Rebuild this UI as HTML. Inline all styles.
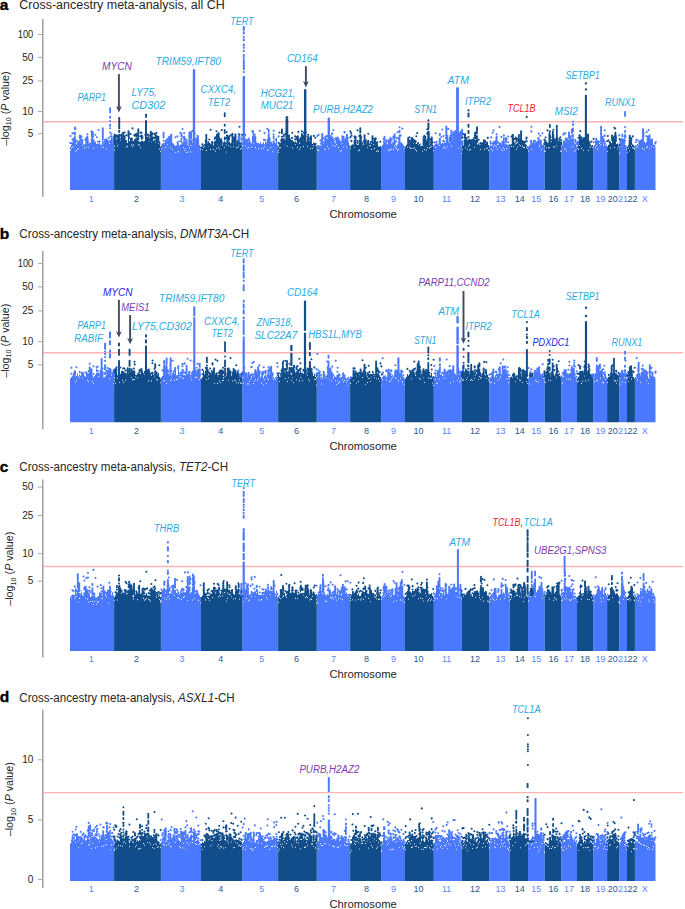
<!DOCTYPE html><html><head><meta charset="utf-8"><style>html,body{margin:0;padding:0;background:#fff;}svg{display:block;}text{font-family:"Liberation Sans", sans-serif;}</style></head><body>
<svg width="685" height="909" viewBox="0 0 685 909">
<rect width="685" height="909" fill="#fff"/>
<text x="-0.3" y="10" font-size="15.5" fill="#000" text-anchor="start" font-weight="bold" stroke="#000" stroke-width="0.35">a</text>
<text x="19.3" y="9.3" font-size="12" fill="#262626" text-anchor="start" textLength="205.5" lengthAdjust="spacingAndGlyphs">Cross-ancestry meta-analysis, all CH</text>
<line x1="43.3" y1="121.8" x2="683.2" y2="121.8" stroke="#ffb4b4" stroke-width="1.4"/>
<polygon points="70,190 70,146.5 71,146.5 71,145 72,145 72,143.4 73,143.4 73,143.7 74,143.7 74,141.9 75,141.9 75,145.3 76,145.3 76,144.8 77,144.8 77,144.9 78,144.9 78,145.5 79,145.5 79,144.2 80,144.2 80,143.6 81,143.6 81,141.7 82,141.7 82,143.8 83,143.8 83,144.2 84,144.2 84,144.6 85,144.6 85,144.1 86,144.1 86,143.8 87,143.8 87,142.6 88,142.6 88,143.8 89,143.8 89,143.7 90,143.7 90,145.1 91,145.1 91,141.2 92,141.2 92,136.4 93,136.4 93,143.6 94,143.6 94,142.1 95,142.1 95,141.4 96,141.4 96,143.8 97,143.8 97,145.5 98,145.5 98,143.4 99,143.4 99,142.6 100,142.6 100,145 101,145 101,145.3 102,145.3 102,144.9 103,144.9 103,144.9 104,144.9 104,142.3 105,142.3 105,143.8 106,143.8 106,142.6 107,142.6 107,143.4 108,143.4 108,140.4 109,140.4 109,143.8 110,143.8 110,141.8 111,141.8 111,143.2 112,143.2 112,143.9 113,143.9 113,145 114,145 114,146.5 114.1,146.5 114.1,190" fill="#4a78ff"/>
<polygon points="160.9,190 160.9,146.5 161,146.5 161,145 162,145 162,143.7 163,143.7 163,143.6 164,143.6 164,144.4 165,144.4 165,143.5 166,143.5 166,144.7 167,144.7 167,142.1 168,142.1 168,141 169,141 169,144.2 170,144.2 170,144.1 171,144.1 171,144.3 172,144.3 172,143.3 173,143.3 173,143.5 174,143.5 174,145.2 175,145.2 175,145.7 176,145.7 176,145.2 177,145.2 177,145.5 178,145.5 178,145.7 179,145.7 179,145.6 180,145.6 180,144.5 181,144.5 181,140.7 182,140.7 182,144.4 183,144.4 183,145.8 184,145.8 184,145.5 185,145.5 185,145.7 186,145.7 186,145.4 187,145.4 187,145.6 188,145.6 188,145.9 189,145.9 189,144 190,144 190,146 191,146 191,145.5 192,145.5 192,144.1 193,144.1 193,140.9 194,140.9 194,142.7 195,142.7 195,143.5 196,143.5 196,143.7 197,143.7 197,144.9 198,144.9 198,144.5 199,144.5 199,145 200,145 200,146.5 201,146.5 201,190" fill="#4a78ff"/>
<polygon points="242.1,190 242.1,146.5 243,146.5 243,145 244,145 244,141.6 245,141.6 245,142.8 246,142.8 246,144.9 247,144.9 247,144.2 248,144.2 248,143.1 249,143.1 249,143.7 250,143.7 250,142.3 251,142.3 251,143.2 252,143.2 252,139.2 253,139.2 253,141.7 254,141.7 254,142.4 255,142.4 255,143.7 256,143.7 256,142.5 257,142.5 257,143 258,143 258,143 259,143 259,144 260,144 260,142 261,142 261,143.8 262,143.8 262,143.8 263,143.8 263,142.2 264,142.2 264,144.3 265,144.3 265,139.2 266,139.2 266,143.3 267,143.3 267,144.6 268,144.6 268,144.3 269,144.3 269,144.1 270,144.1 270,144.5 271,144.5 271,141.8 272,141.8 272,145 273,145 273,145.1 274,145.1 274,144 275,144 275,143.8 276,143.8 276,138.1 277,138.1 277,145 278,145 278,146.5 278.1,146.5 278.1,190" fill="#4a78ff"/>
<polygon points="316.8,190 316.8,146.5 317,146.5 317,145 318,145 318,145.3 319,145.3 319,145.5 320,145.5 320,142.8 321,142.8 321,145.3 322,145.3 322,143.8 323,143.8 323,141.5 324,141.5 324,143.6 325,143.6 325,144.1 326,144.1 326,142.9 327,142.9 327,139.9 328,139.9 328,144.4 329,144.4 329,141.8 330,141.8 330,142.9 331,142.9 331,142.7 332,142.7 332,143.2 333,143.2 333,141.3 334,141.3 334,139.8 335,139.8 335,143.5 336,143.5 336,142.3 337,142.3 337,143.1 338,143.1 338,141.3 339,141.3 339,143.3 340,143.3 340,144.4 341,144.4 341,144.3 342,144.3 342,141.9 343,141.9 343,143.6 344,143.6 344,144.4 345,144.4 345,143.1 346,143.1 346,142.8 347,142.8 347,142.2 348,142.2 348,142.5 349,142.5 349,145 350,145 350,146.5 350.1,146.5 350.1,190" fill="#4a78ff"/>
<polygon points="381.1,190 381.1,146.5 382,146.5 382,145 383,145 383,143.7 384,143.7 384,144.7 385,144.7 385,144.7 386,144.7 386,144.1 387,144.1 387,144.7 388,144.7 388,144.2 389,144.2 389,143.4 390,143.4 390,143.4 391,143.4 391,144 392,144 392,144.9 393,144.9 393,144.2 394,144.2 394,142.8 395,142.8 395,144.6 396,144.6 396,145.8 397,145.8 397,144.5 398,144.5 398,143.6 399,143.6 399,144.2 400,144.2 400,144.2 401,144.2 401,144 402,144 402,143.6 403,143.6 403,145 404,145 404,146.5 405,146.5 405,190" fill="#4a78ff"/>
<polygon points="433.8,190 433.8,146.5 434,146.5 434,145 435,145 435,143.9 436,143.9 436,143.7 437,143.7 437,144.3 438,144.3 438,144.5 439,144.5 439,143.2 440,143.2 440,143.6 441,143.6 441,143.9 442,143.9 442,144.6 443,144.6 443,143.6 444,143.6 444,142.8 445,142.8 445,143 446,143 446,137.8 447,137.8 447,142 448,142 448,141.8 449,141.8 449,140.6 450,140.6 450,139.7 451,139.7 451,141.6 452,141.6 452,140.9 453,140.9 453,142 454,142 454,142.7 455,142.7 455,142.2 456,142.2 456,142.7 457,142.7 457,139.9 458,139.9 458,142.4 459,142.4 459,143.3 460,143.3 460,145 461,145 461,146.5 461.9,146.5 461.9,190" fill="#4a78ff"/>
<polygon points="489.2,190 489.2,146.5 490,146.5 490,145.2 491,145.2 491,145.4 492,145.4 492,145.2 493,145.2 493,143.4 494,143.4 494,142.8 495,142.8 495,140.3 496,140.3 496,142.8 497,142.8 497,144.9 498,144.9 498,144.9 499,144.9 499,145.2 500,145.2 500,143 501,143 501,144.6 502,144.6 502,145 503,145 503,144.8 504,144.8 504,143.6 505,143.6 505,145.5 506,145.5 506,144.6 507,144.6 507,144.7 508,144.7 508,145.2 509,145.2 509,146.5 509.8,146.5 509.8,190" fill="#4a78ff"/>
<polygon points="528,190 528,146.5 529,146.5 529,145.1 530,145.1 530,144.8 531,144.8 531,144.5 532,144.5 532,145.3 533,145.3 533,139.9 534,139.9 534,142.5 535,142.5 535,146.1 536,146.1 536,143.9 537,143.9 537,146.8 538,146.8 538,144 539,144 539,146.5 540,146.5 540,144.4 541,144.4 541,145.6 542,145.6 542,144.9 543,144.9 543,145 544,145 544,146.5 544.8,146.5 544.8,190" fill="#4a78ff"/>
<polygon points="561.4,190 561.4,146.5 562,146.5 562,145 563,145 563,140.6 564,140.6 564,144.7 565,144.7 565,142.4 566,142.4 566,144.1 567,144.1 567,143.3 568,143.3 568,143.4 569,143.4 569,143.7 570,143.7 570,142.1 571,142.1 571,139.6 572,139.6 572,144.1 573,144.1 573,144.8 574,144.8 574,144.8 575,144.8 575,145 576,145 576,146.5 577,146.5 577,190" fill="#4a78ff"/>
<polygon points="593.2,190 593.2,146.5 594,146.5 594,145 595,145 595,141.1 596,141.1 596,141.6 597,141.6 597,142.3 598,142.3 598,141.6 599,141.6 599,143.9 600,143.9 600,142.8 601,142.8 601,141.2 602,141.2 602,143.3 603,143.3 603,145.4 604,145.4 604,143 605,143 605,142.5 606,142.5 606,145 607,145 607,146.5 607.1,146.5 607.1,190" fill="#4a78ff"/>
<polygon points="619.2,190 619.2,146.5 620,146.5 620,145 621,145 621,143.3 622,143.3 622,140.9 623,140.9 623,143.4 624,143.4 624,143.3 625,143.3 625,145 626,145 626,146.5 627,146.5 627,190" fill="#4a78ff"/>
<polygon points="634.9,190 634.9,146.5 635,146.5 635,145 636,145 636,145.4 637,145.4 637,144 638,144 638,146.3 639,146.3 639,146 640,146 640,145.4 641,145.4 641,139.2 642,139.2 642,142.6 643,142.6 643,137.2 644,137.2 644,144.3 645,144.3 645,143.2 646,143.2 646,142.1 647,142.1 647,141.7 648,141.7 648,139.5 649,139.5 649,143.3 650,143.3 650,144 651,144 651,143 652,143 652,144.7 653,144.7 653,144.5 654,144.5 654,145 655,145 655,146.5 655.5,146.5 655.5,190" fill="#4a78ff"/>
<polygon points="114.1,190 114.1,146.5 115,146.5 115,145 116,145 116,139.2 117,139.2 117,139.9 118,139.9 118,139.9 119,139.9 119,141.4 120,141.4 120,141.2 121,141.2 121,133.4 122,133.4 122,141.7 123,141.7 123,141.3 124,141.3 124,140.3 125,140.3 125,142.5 126,142.5 126,142.4 127,142.4 127,143.1 128,143.1 128,135.8 129,135.8 129,141.2 130,141.2 130,137.9 131,137.9 131,139.3 132,139.3 132,140.7 133,140.7 133,141 134,141 134,139.2 135,139.2 135,138.9 136,138.9 136,140.8 137,140.8 137,140.9 138,140.9 138,141.5 139,141.5 139,142.1 140,142.1 140,141.8 141,141.8 141,142.7 142,142.7 142,142.8 143,142.8 143,141.9 144,141.9 144,140.9 145,140.9 145,138 146,138 146,140 147,140 147,139.2 148,139.2 148,141.8 149,141.8 149,142.2 150,142.2 150,142.1 151,142.1 151,143.1 152,143.1 152,139.1 153,139.1 153,141.1 154,141.1 154,139.9 155,139.9 155,140.8 156,140.8 156,141.6 157,141.6 157,137.3 158,137.3 158,140.8 159,140.8 159,145 160,145 160,146.5 160.9,146.5 160.9,190" fill="#114d8a"/>
<polygon points="201,190 201,146.5 202,146.5 202,145.4 203,145.4 203,144.8 204,144.8 204,143.9 205,143.9 205,142.8 206,142.8 206,146.2 207,146.2 207,143.7 208,143.7 208,144.1 209,144.1 209,145.7 210,145.7 210,144.1 211,144.1 211,144.8 212,144.8 212,146.5 213,146.5 213,145.6 214,145.6 214,145.4 215,145.4 215,145.9 216,145.9 216,142.6 217,142.6 217,140.2 218,140.2 218,143.7 219,143.7 219,143.9 220,143.9 220,145.2 221,145.2 221,143.6 222,143.6 222,145.4 223,145.4 223,142.6 224,142.6 224,144.7 225,144.7 225,145.1 226,145.1 226,145.3 227,145.3 227,143.7 228,143.7 228,143.5 229,143.5 229,142 230,142 230,143.3 231,143.3 231,143 232,143 232,144.8 233,144.8 233,144.5 234,144.5 234,142.3 235,142.3 235,144.1 236,144.1 236,145 237,145 237,145.2 238,145.2 238,144.2 239,144.2 239,145.1 240,145.1 240,145 241,145 241,145 242,145 242,146.5 242.1,146.5 242.1,190" fill="#114d8a"/>
<polygon points="278.1,190 278.1,146.5 279,146.5 279,145 280,145 280,143 281,143 281,143.4 282,143.4 282,142.8 283,142.8 283,142.8 284,142.8 284,139.9 285,139.9 285,143.1 286,143.1 286,139.7 287,139.7 287,141.3 288,141.3 288,142.9 289,142.9 289,142.9 290,142.9 290,141.2 291,141.2 291,144 292,144 292,142.6 293,142.6 293,141.2 294,141.2 294,143 295,143 295,142.8 296,142.8 296,142.7 297,142.7 297,141.9 298,141.9 298,141.7 299,141.7 299,144 300,144 300,143 301,143 301,143.3 302,143.3 302,142 303,142 303,142.1 304,142.1 304,138.6 305,138.6 305,140.9 306,140.9 306,141.8 307,141.8 307,141.7 308,141.7 308,142.3 309,142.3 309,142.4 310,142.4 310,141.6 311,141.6 311,143.1 312,143.1 312,144 313,144 313,142.5 314,142.5 314,142.9 315,142.9 315,145 316,145 316,146.5 316.8,146.5 316.8,190" fill="#114d8a"/>
<polygon points="350.1,190 350.1,146.5 351,146.5 351,145 352,145 352,144.4 353,144.4 353,144.6 354,144.6 354,144.7 355,144.7 355,144.8 356,144.8 356,144.4 357,144.4 357,139.9 358,139.9 358,144.9 359,144.9 359,144.8 360,144.8 360,144.5 361,144.5 361,144.2 362,144.2 362,145.4 363,145.4 363,145.1 364,145.1 364,145.7 365,145.7 365,145.4 366,145.4 366,144.4 367,144.4 367,141.6 368,141.6 368,142 369,142 369,143.5 370,143.5 370,141 371,141 371,143.9 372,143.9 372,142.6 373,142.6 373,144.9 374,144.9 374,143.3 375,143.3 375,144.4 376,144.4 376,145.8 377,145.8 377,144.5 378,144.5 378,146.4 379,146.4 379,146.4 380,146.4 380,146.2 381,146.2 381,146.5 381.1,146.5 381.1,190" fill="#114d8a"/>
<polygon points="405,190 405,146.5 406,146.5 406,145 407,145 407,143.9 408,143.9 408,144 409,144 409,144.3 410,144.3 410,144.5 411,144.5 411,144.4 412,144.4 412,142 413,142 413,143.6 414,143.6 414,144.1 415,144.1 415,144 416,144 416,144.1 417,144.1 417,143.3 418,143.3 418,145.1 419,145.1 419,144.2 420,144.2 420,143.6 421,143.6 421,145.9 422,145.9 422,145.7 423,145.7 423,145.3 424,145.3 424,144.3 425,144.3 425,144.1 426,144.1 426,144.4 427,144.4 427,144 428,144 428,145 429,145 429,145.5 430,145.5 430,144.4 431,144.4 431,143.9 432,143.9 432,145 433,145 433,146.5 433.8,146.5 433.8,190" fill="#114d8a"/>
<polygon points="461.9,190 461.9,146.5 462,146.5 462,145 463,145 463,145.8 464,145.8 464,144.7 465,144.7 465,145.9 466,145.9 466,144.3 467,144.3 467,144.8 468,144.8 468,144.6 469,144.6 469,145.8 470,145.8 470,142.9 471,142.9 471,144.7 472,144.7 472,144.2 473,144.2 473,144 474,144 474,142.7 475,142.7 475,137 476,137 476,137.7 477,137.7 477,144.4 478,144.4 478,143.6 479,143.6 479,144.7 480,144.7 480,144.4 481,144.4 481,145 482,145 482,144.5 483,144.5 483,143.7 484,143.7 484,144 485,144 485,143.8 486,143.8 486,142.3 487,142.3 487,141.8 488,141.8 488,145 489,145 489,146.5 489.2,146.5 489.2,190" fill="#114d8a"/>
<polygon points="509.8,190 509.8,146.5 510,146.5 510,145 511,145 511,144 512,144 512,144.1 513,144.1 513,142.3 514,142.3 514,142.5 515,142.5 515,144.6 516,144.6 516,144.3 517,144.3 517,143 518,143 518,142.8 519,142.8 519,142.4 520,142.4 520,142.1 521,142.1 521,139.1 522,139.1 522,143.1 523,143.1 523,143 524,143 524,142.9 525,142.9 525,143.8 526,143.8 526,145 527,145 527,146.5 528,146.5 528,190" fill="#114d8a"/>
<polygon points="544.8,190 544.8,146.5 545,146.5 545,145 546,145 546,145 547,145 547,144.8 548,144.8 548,144.5 549,144.5 549,143.2 550,143.2 550,142.8 551,142.8 551,142.8 552,142.8 552,137.6 553,137.6 553,142.8 554,142.8 554,142.6 555,142.6 555,141.3 556,141.3 556,143 557,143 557,140.3 558,140.3 558,140.5 559,140.5 559,140.6 560,140.6 560,145 561,145 561,146.5 561.4,146.5 561.4,190" fill="#114d8a"/>
<polygon points="577,190 577,146.5 578,146.5 578,145 579,145 579,143.5 580,143.5 580,140 581,140 581,144 582,144 582,144.7 583,144.7 583,143.7 584,143.7 584,139.8 585,139.8 585,144.1 586,144.1 586,143.2 587,143.2 587,143.4 588,143.4 588,144.6 589,144.6 589,144.9 590,144.9 590,145 591,145 591,145.4 592,145.4 592,145 593,145 593,146.5 593.2,146.5 593.2,190" fill="#114d8a"/>
<polygon points="607.1,190 607.1,146.5 608,146.5 608,145 609,145 609,143.2 610,143.2 610,141.5 611,141.5 611,143.3 612,143.3 612,139.6 613,139.6 613,141.9 614,141.9 614,140.5 615,140.5 615,140.6 616,140.6 616,143.9 617,143.9 617,143.2 618,143.2 618,145 619,145 619,146.5 619.2,146.5 619.2,190" fill="#114d8a"/>
<polygon points="627,190 627,146.5 628,146.5 628,145 629,145 629,144.3 630,144.3 630,141.6 631,141.6 631,143.8 632,143.8 632,144.3 633,144.3 633,145 634,145 634,146.5 634.9,146.5 634.9,190" fill="#114d8a"/>
<path d="M70.5 149.9h0M71.5 147.7h0M72.5 147h0M74.5 146.5h0M75.5 151.8h0M76.5 150.5h0M77.5 149.5h0M78.5 148.6h0M82.5 145.4h0M84.5 147.9h0M86.5 147h0M88.5 147.3h0M93.5 148h0M102.5 147.3h0M103.5 146.8h0M106.5 148.9h0M114.5 150.1h0M116.5 142.7h0M117.5 146.1h0M118.5 144h0M126.5 146.9h0M127.5 146.3h0M131.5 144.9h0M132.5 146.3h0M133.5 144.9h0M138.5 144.8h0M139.5 145h0M140.5 147.7h0M148.5 144.1h0M155.5 142.5h0M158.5 143.1h0M159.5 149.1h0M160.5 151.3h0M161.5 148.8h0M165.5 147.4h0M167.5 144.7h0M170.5 147.2h0M172.5 149.6h0M175.5 152.3h0M177.5 152.2h0M178.5 151.5h0M181.5 143.8h0M183.5 147.4h0M184.5 150.5h0M185.5 148.8h0M186.5 152.2h0M187.5 152.1h0M189.5 147.9h0M190.5 151.9h0M193.5 144.9h0M200.5 149.3h0M202.5 149.8h0M203.5 147.3h0M204.5 146.1h0M206.5 150.4h0M208.5 146.1h0M210.5 149.4h0M213.5 149.6h0M215.5 151.1h0M216.5 148.2h0M217.5 143.9h0M218.5 147.3h0M219.5 149h0M224.5 147.2h0M226.5 152h0M228.5 145.2h0M230.5 146.7h0M233.5 146.5h0M236.5 147.3h0M237.5 147.8h0M238.5 146.3h0M240.5 149.1h0M241.5 148.3h0M245.5 146h0M247.5 148.2h0M248.5 147.5h0M251.5 147.1h0M253.5 143.6h0M255.5 147.6h0M258.5 148.9h0M261.5 148.6h0M263.5 148.1h0M264.5 146.8h0M265.5 141.3h0M267.5 150.1h0M268.5 150h0M270.5 147.6h0M272.5 151.7h0M278.5 150.6h0M278.5 152.5h0M279.5 147.9h0M280.5 147.6h0M284.5 144.7h0M286.5 145h0M287.5 146h0M290.5 143.8h0M292.5 148.1h0M295.5 144.3h0M297.5 147.4h0M299.5 149.2h0M300.5 147.6h0M303.5 146.6h0M307.5 146.2h0M310.5 148.4h0M312.5 148.3h0M313.5 145.7h0M317.5 149.9h0M318.5 150.4h0M320.5 145.1h0M323.5 143.1h0M324.5 148.8h0M325.5 149.8h0M327.5 146.5h0M328.5 148.8h0M332.5 145.3h0M333.5 145.7h0M334.5 141.6h0M335.5 146.2h0M336.5 144.5h0M338.5 147.5h0M340.5 151.3h0M341.5 150.2h0M342.5 143.4h0M343.5 147h0M346.5 147h0M350.5 148.8h0M354.5 147.3h0M357.5 144.4h0M358.5 150.7h0M359.5 149.9h0M367.5 147.8h0M369.5 145.6h0M370.5 145.8h0M371.5 149.4h0M374.5 148.4h0M376.5 151.3h0M377.5 150.8h0M378.5 151.2h0M388.5 150.6h0M389.5 149.8h0M390.5 149.8h0M391.5 149.3h0M393.5 149.4h0M394.5 145.8h0M395.5 146.9h0M396.5 148.4h0M397.5 150.4h0M398.5 149.2h0M404.5 148.2h0M407.5 147h0M409.5 147h0M410.5 148.1h0M411.5 148.3h0M413.5 148.2h0M414.5 147.7h0M415.5 149.5h0M416.5 150.9h0M420.5 145.3h0M422.5 151.1h0M424.5 149.6h0M426.5 150h0M427.5 147.5h0M429.5 147.9h0M430.5 147.2h0M431.5 146.1h0M433.5 150.7h0M435.5 147.5h0M439.5 145.3h0M443.5 148h0M444.5 146.9h0M445.5 148.5h0M447.5 146.8h0M449.5 142.6h0M451.5 145.9h0M455.5 144.4h0M457.5 144.5h0M458.5 148.3h0M461.5 153.5h0M462.5 149.2h0M465.5 147.7h0M467.5 149.2h0M468.5 146.1h0M469.5 150.3h0M470.5 149.4h0M474.5 147.3h0M475.5 139.2h0M480.5 149.3h0M484.5 149.4h0M486.5 148h0M487.5 148.2h0M488.5 150.4h0M491.5 149.3h0M492.5 150.7h0M493.5 146.9h0M494.5 145h0M495.5 145.7h0M496.5 147h0M497.5 149.5h0M499.5 147h0M501.5 149.8h0M502.5 150.7h0M503.5 148.1h0M504.5 149.2h0M506.5 148.5h0M511.5 146.4h0M513.5 146.6h0M516.5 149.5h0M517.5 147.1h0M519.5 144.8h0M520.5 145.7h0M522.5 146.1h0M523.5 147.3h0M524.5 147.6h0M526.5 146.9h0M527.5 148.4h0M528.5 151.1h0M531.5 149.5h0M541.5 149.3h0M544.5 150.9h0M545.5 151.3h0M546.5 147.7h0M548.5 147.9h0M549.5 147.5h0M553.5 146.7h0M554.5 147.1h0M556.5 145.7h0M557.5 142.8h0M558.5 142.5h0M560.5 150.9h0M561.5 151.6h0M564.5 149.3h0M565.5 148.5h0M566.5 151h0M572.5 146.6h0M574.5 151.3h0M575.5 150.2h0M577.5 148.5h0M578.5 149.4h0M579.5 145.2h0M580.5 141.7h0M581.5 148.4h0M583.5 150.3h0M588.5 150.4h0M589.5 146.7h0M590.5 147h0M592.5 147.8h0M595.5 147.2h0M596.5 145.6h0M597.5 149.1h0M600.5 144.8h0M605.5 145.2h0M607.5 151.5h0M610.5 148.1h0M614.5 147.4h0M617.5 148.7h0M618.5 146.7h0M619.5 152.9h0M621.5 145.8h0M622.5 144.2h0M626.5 149.1h0M627.5 152.3h0M628.5 147.9h0M629.5 150.7h0M631.5 145.4h0M632.5 147.8h0M633.5 148.1h0M634.5 148.9h0M634.5 148.5h0M636.5 147.2h0M637.5 146.7h0M642.5 148.4h0M644.5 149.8h0M646.5 147.5h0M647.5 146.9h0M649.5 148.7h0M651.5 146.2h0M653.5 147.3h0" stroke="#ffffff" stroke-width="1.1" stroke-linecap="round" fill="none"/>
<path d="M72.7 143.9h0M87.4 143.1h0M87.4 141.8h0M87.4 140.5h0M87.4 139.4h0M87.4 138h0M87.4 137.1h0M87.4 134.4h0M77.5 145.4h0M77.5 144.3h0M77.5 143h0M90 145.6h0M90 144.6h0M90 143.6h0M102.8 145.4h0M102.8 144h0M102.8 142.9h0M102.8 139.8h0M102.8 138.9h0M102.8 137.7h0M102.8 136.4h0M102.8 135.5h0M102.8 134.5h0M102.8 133.2h0M102.8 131.9h0M102.8 130.9h0M102.8 129.6h0M102.8 128.2h0M92.9 136.9h0M92.9 136h0M92.9 134.7h0M92.9 133.5h0M92.9 132.5h0M91.8 141.7h0M91.8 140.6h0M91.8 139.3h0M111.6 143.7h0M111.6 142.4h0M111.6 141.4h0M111.6 140.5h0M111.6 139.5h0M111.6 138.6h0M87.7 143.1h0M87.7 141.9h0M87.7 140.9h0M87.7 140h0M93.6 144.1h0M93.6 143.2h0M93.6 142h0M93.6 141.1h0M93.6 140.3h0M100.5 145.5h0M80 144.7h0M80 143.3h0M80 142.1h0M80 140.7h0M80 138.3h0M80 137.5h0M80 136.5h0M80 135.5h0M97.9 146h0M97.9 144.8h0M73.3 144.2h0M73.3 143.1h0M73.3 142.1h0M74.9 142.4h0M74.9 141.4h0M74.9 140.4h0M74.9 139h0M74.9 138.2h0M74.9 137h0M74.9 134.6h0M74.9 133.8h0M74.9 132.6h0M74.9 128.9h0M74.9 127.6h0M78.9 146h0M78.9 144.8h0M78.9 143.8h0M78.9 142.9h0M78.9 142h0M92 136.9h0M92 135.8h0M92 135h0M92 133.8h0M92 132.9h0M92 131.5h0M75.1 145.8h0M75.1 144.4h0M75.1 141.5h0M74.3 142.4h0M74.3 141.3h0M74.3 140.3h0M74.3 139h0M74.3 138.1h0M79.5 144.7h0M79.5 143.6h0M79.5 142.5h0M102.9 145.4h0M102.9 144.4h0M102.9 143.3h0M102.9 142.1h0M105.1 144.3h0M105.1 142.9h0M105.1 142h0M105.1 141h0M105.1 139.9h0M86.3 144.3h0M86.3 142.9h0M86.3 141.6h0M86.3 140.3h0M86.3 138.9h0M86.3 137.8h0M82.3 144.3h0M82.3 143.2h0M82.3 142.2h0M82.3 140.9h0M82.3 139.9h0M70.3 143h0M70.5 136h0M71.2 143.3h0M72.5 133.4h0M72.6 139.8h0M72.5 139.4h0M73.5 142.1h0M74.3 132.7h0M74.4 139.9h0M75.5 128.5h0M76.7 140.9h0M78.6 142.5h0M79.8 136.2h0M80.6 138.5h0M80.7 140.2h0M81.5 136.6h0M85.3 139.7h0M86.6 137.7h0M86.2 140.8h0M86.6 142.5h0M91.4 131.5h0M95.4 134.7h0M96.8 137.2h0M97.8 141.8h0M98.5 130h0M99.7 141.2h0M105.5 142.1h0M108.5 138.3h0M111.4 136.2h0M111.4 133.7h0M165.8 144h0M165.8 142.8h0M165.8 141.8h0M165.8 140.8h0M186.6 145.9h0M186.6 145.1h0M186.6 144.1h0M186.6 143.1h0M186.6 142.1h0M186.6 141.3h0M186.6 140h0M170.3 144.6h0M170.3 143.7h0M170.3 140.4h0M170.3 139.1h0M170.3 138h0M170.3 136.7h0M169.2 144.7h0M169.2 143.4h0M169.2 142.3h0M169.2 141.5h0M169.2 140.6h0M169.2 139.7h0M169.2 138.7h0M169.2 137.6h0M169.2 136.8h0M183.6 146.3h0M183.6 145.3h0M183.6 144.3h0M165.5 144h0M165.5 142.8h0M182.9 144.9h0M182.9 143.6h0M189.3 144.5h0M189.3 143.5h0M189.3 142.2h0M189.3 141.1h0M168.5 141.5h0M168.5 140.6h0M168.5 139.6h0M168.5 138.2h0M170.6 144.6h0M170.6 143.6h0M170.6 142.3h0M168.5 141.5h0M168.5 138h0M185.3 146.2h0M185.3 145.1h0M185.3 143.8h0M185.3 142.9h0M185.3 139.1h0M186.1 145.9h0M186.1 144.5h0M186.1 143.7h0M184.2 146h0M184.2 144.7h0M184.2 143.7h0M184.2 142.4h0M184.2 141.2h0M184.2 139.8h0M184.2 138.6h0M184.2 137.7h0M184.2 136.6h0M177.9 146h0M177.9 144.7h0M177.9 143.6h0M193 144.6h0M193 143.4h0M193 140.2h0M181.5 141.2h0M181.5 138.9h0M181.5 136.5h0M181.5 135.7h0M181.5 134.5h0M181.5 133.7h0M163.6 144.1h0M163.6 140.7h0M163.6 137.5h0M163.6 136.3h0M163.6 135.2h0M163.6 133.8h0M163.6 132.7h0M166.3 145.2h0M166.3 143.8h0M166.3 142.8h0M166.3 141.9h0M166.3 140.9h0M187.5 146.1h0M171.3 144.8h0M171.3 143.6h0M171.3 142.6h0M171.3 141.4h0M171.3 140.2h0M171.3 138.9h0M171.3 137.9h0M171.3 137h0M171.3 136.1h0M171.3 134.9h0M197.9 145.4h0M197.9 144.1h0M197.9 143h0M197.9 141.9h0M197.9 140.7h0M197.9 139.5h0M197.9 138.1h0M197.9 137.2h0M197.9 136.3h0M167.4 139.2h0M167.5 140h0M169.4 139.5h0M170.8 136h0M175.5 137.2h0M177.5 136.4h0M177.4 142.2h0M179.6 141.3h0M180.3 132.7h0M182.5 129h0M183.5 137.1h0M184.2 133h0M189.3 137.3h0M192.4 130.9h0M194.5 133.5h0M195.5 140.6h0M197.7 141.6h0M197.4 135.8h0M253.1 142.2h0M253.1 141.1h0M253.1 139.9h0M253.1 139.1h0M253.1 137.8h0M253.1 136.6h0M270 144.6h0M270 143.7h0M270 142.5h0M253 142.2h0M253 141.3h0M253 140.2h0M253 138.9h0M253 137.6h0M253 136.6h0M253 132.8h0M253 132h0M253 131.2h0M255.3 144.2h0M255.3 143.1h0M255.3 141.8h0M255.3 140.4h0M255.3 139.4h0M255.3 138.6h0M255.3 137.6h0M255.3 136.5h0M245.2 143.3h0M245.2 142.3h0M245.2 141.4h0M245.2 140.1h0M245.2 139.2h0M245.2 135.5h0M245.2 134.6h0M249.3 144.2h0M249.3 142.8h0M249.3 141.9h0M249.3 141h0M249.3 140.2h0M273.6 145.6h0M273.6 144.8h0M273.6 143.5h0M273.6 142.2h0M273.6 141.3h0M273.6 138.2h0M273.6 136.8h0M273.6 134.6h0M273.6 130.8h0M267.6 145.1h0M267.6 143.8h0M267.6 142.9h0M267.6 141.5h0M267.6 140.2h0M253.8 142.2h0M253.8 140.9h0M253.8 139.5h0M268 145.1h0M268 144.2h0M268 143h0M269.6 144.6h0M269.6 143.3h0M269.6 144.6h0M269.6 143.4h0M269.6 142.1h0M269.6 140.7h0M269.6 139.5h0M269.6 138.3h0M269.3 144.6h0M269.3 143.6h0M269.3 142.7h0M269.3 139.1h0M269.3 138.1h0M268.7 144.8h0M268.7 144h0M268.7 142.8h0M268.7 141.4h0M268.7 140.3h0M268.7 139.2h0M268.7 138.2h0M268.7 137.3h0M268.7 136.3h0M268.7 135h0M268.7 134h0M268.7 131.8h0M268.7 130.9h0M268.7 130h0M272.9 145.5h0M272.9 144.4h0M274.8 144.5h0M274.8 143.5h0M252.9 139.7h0M252.9 138.3h0M247.2 144.7h0M247.2 143.5h0M247.2 142.1h0M247.2 141h0M247.2 140.1h0M267.5 145.1h0M267.5 144.2h0M267.5 142.8h0M267.5 141.7h0M243.5 143.5h0M246.6 143.3h0M248.7 138.6h0M252.4 131.1h0M253.5 134.7h0M254.7 134.6h0M254.6 137.6h0M255.3 140.9h0M259.7 130.8h0M263.8 139.7h0M264.3 139.8h0M264.5 133.1h0M267.2 128.7h0M267.5 142.8h0M268.3 139.3h0M275.5 139.7h0M278.6 136.4h0M336.4 142.8h0M336.4 141.5h0M336.4 140.3h0M336.4 139.5h0M336.4 138.3h0M347 143.3h0M347 142.3h0M347 141.4h0M347 140.1h0M347 139.3h0M347 137.9h0M347 136.5h0M347 135.6h0M347 134.7h0M325.2 144.6h0M325.2 143.2h0M325.2 141.8h0M344.4 144.9h0M344.4 143.6h0M344.4 142.6h0M344.4 141.5h0M340 143.8h0M340 142.7h0M340 141.6h0M322.2 144.3h0M322.2 143.2h0M322.2 141.9h0M322.2 140.6h0M322.2 139.2h0M322.2 138.2h0M322.2 137.1h0M322.2 136.1h0M322.2 135.3h0M322.2 134h0M338.6 141.8h0M338.6 140.7h0M338.6 139.6h0M340.5 144.9h0M340.5 143.9h0M340.5 142.9h0M345.4 143.6h0M345.4 142.7h0M345.4 141.8h0M345.4 140.7h0M345.4 139.5h0M332.1 143.7h0M332.1 140.9h0M332.1 139.8h0M332.1 138.6h0M332.1 137.6h0M332.1 134.3h0M332.1 133.2h0M324.9 144.1h0M324.9 143.1h0M324.9 142h0M343.6 144.1h0M343.6 143.2h0M343.6 141.9h0M343.6 140.6h0M343.6 138.3h0M343.6 137h0M337.6 143.6h0M337.6 142.4h0M337.6 141.5h0M337.6 140.4h0M337.6 139.2h0M337.6 138.1h0M330.1 143.4h0M330.1 142.4h0M330.1 141.1h0M330.1 139.9h0M330.1 139.1h0M328.6 144.9h0M328.6 143.7h0M328.6 142.6h0M326.1 143.4h0M326.1 142.4h0M326.1 141.2h0M342.4 142.4h0M342.4 141.5h0M342.4 140.6h0M342.4 139.5h0M342.4 138.4h0M342.4 137.2h0M342.4 136.2h0M347.5 142.7h0M347.5 141.5h0M347.5 140.6h0M347.5 139.5h0M347.5 138.7h0M347.5 137.4h0M317.4 136h0M318.6 134.7h0M320.5 140.3h0M321.4 141h0M321.7 142.4h0M322.6 142.5h0M322.3 134.6h0M323.4 138.4h0M325.6 138.4h0M326.5 140.4h0M326.7 136h0M326.8 139.6h0M327.6 136.4h0M328.4 140.7h0M331.5 139.2h0M332.5 137.5h0M332.7 141.5h0M333.4 130.3h0M335.7 139.1h0M335.3 138.2h0M337.6 137.5h0M338.8 139.5h0M344.6 132.6h0M344.5 131.8h0M346.4 137.8h0M399.5 144.7h0M399.5 142.3h0M399.5 141h0M399.5 140.1h0M399.5 138.9h0M399.5 137.7h0M399.5 136.7h0M399.5 135.6h0M399.5 131.9h0M399.5 130.8h0M399.5 127.3h0M389.5 143.9h0M389.5 142.9h0M389.5 141.7h0M393.2 144.7h0M393.2 143.6h0M393.2 142.6h0M401.1 144.5h0M401.1 143.3h0M389 144.7h0M389 143.7h0M389 142.8h0M389 141.6h0M389 140.4h0M399 144.7h0M399 143.9h0M399 142.5h0M383.9 144.2h0M383.9 141.8h0M386 145.2h0M386 143.9h0M394.7 143.3h0M394.7 142.1h0M394.7 140.9h0M394.7 138h0M394.7 136.7h0M394.7 135.7h0M394.7 134.3h0M390.5 143.9h0M390.5 143.1h0M390.5 141.7h0M390.5 140.3h0M386.6 144.6h0M386.6 141.8h0M384.5 145.2h0M384.5 144.3h0M384.5 142.9h0M384.5 141.5h0M384.5 140.7h0M384.5 139.8h0M384.5 138.9h0M384.5 138.1h0M384.5 136.8h0M390.5 143.9h0M390.5 140.9h0M390.5 139.6h0M390.5 138.8h0M390.5 137.8h0M383.6 138.9h0M384.4 140.4h0M385.3 143.6h0M386.8 140.2h0M388.3 142h0M390.7 140.6h0M391.7 139.9h0M393.4 138.1h0M393.3 136.6h0M394.3 139h0M396.4 141.4h0M396.8 137.9h0M397.6 132.3h0M398.4 138.7h0M400.7 135.4h0M402.4 128.6h0M442.5 145.1h0M442.5 143.9h0M451.2 142.1h0M451.2 140.9h0M451.2 140.1h0M451.2 137.5h0M457.7 140.4h0M457.7 139h0M457.7 138.2h0M457.7 137.2h0M457.7 136h0M459.1 143.8h0M459.1 142.7h0M459.1 141.8h0M459.1 140.9h0M459.1 139.8h0M459.1 138.7h0M459.1 137.4h0M446.4 138.3h0M446.4 134.4h0M446.4 133.5h0M446.4 132.2h0M446.4 131.2h0M446.4 130h0M446.4 128.7h0M446.4 127.8h0M446.4 126.6h0M447.3 142.5h0M447.3 141.5h0M447.3 140.3h0M447.3 139.2h0M447.3 137.9h0M447.3 136.6h0M447.3 135.7h0M439.9 143.7h0M439.9 142.4h0M439.9 141.4h0M439.9 140.3h0M439.9 139.5h0M439.9 138.7h0M439.9 135h0M439.9 134.1h0M439.4 143.7h0M439.4 141.1h0M451.4 142.1h0M451.4 140.7h0M451.4 139.6h0M451.4 138.6h0M451.4 137.6h0M451.4 136.6h0M451.4 135.4h0M451.4 134.4h0M451.4 133.5h0M451.4 132.3h0M451.4 130.9h0M457.3 140.4h0M457.3 139.5h0M457.3 138.3h0M457.3 137.4h0M457.3 133.8h0M457.3 132.6h0M459.2 143.8h0M459.2 143h0M459.2 142h0M459.2 140.9h0M459.2 139.9h0M459.2 138.9h0M459.2 138.1h0M459.2 135.5h0M459.2 134.5h0M449.7 141.1h0M449.7 140.1h0M449.7 139.1h0M449.7 137.7h0M455.6 142.7h0M455.6 141.7h0M455.6 140.9h0M455.6 139.6h0M446.2 138.3h0M446.2 135.4h0M456.4 143.2h0M456.4 142.1h0M456.4 141.1h0M456.4 140.1h0M456.4 138.9h0M456.4 137.7h0M456.4 136.5h0M434.3 142.5h0M435.7 133.3h0M436.5 142.7h0M436.4 141.7h0M441.4 137h0M442.3 129.5h0M443.6 136h0M443.3 140.9h0M443.4 140.7h0M444.6 141.7h0M445.8 137.9h0M446.5 135.2h0M446.3 135.3h0M448.4 128.9h0M450.4 135.9h0M451.8 139.1h0M452.3 135.1h0M459.6 141.6h0M461.8 135.5h0M502.3 145.5h0M502.3 144.1h0M502.3 143h0M502.3 142h0M502.7 145.5h0M502.7 144.3h0M502.7 143.2h0M502.7 141.9h0M503.9 145.3h0M503.9 144.1h0M503.9 143.1h0M503.9 139.2h0M503.9 138.3h0M503.9 135.4h0M496.6 143.3h0M496.6 142.1h0M496.6 141.2h0M496.6 140h0M496.6 138.7h0M496.6 137.4h0M496.6 136.5h0M496.5 143.3h0M496.5 142.3h0M496.5 141h0M496.5 140.2h0M503.2 145.3h0M503.2 144.3h0M503.2 143.3h0M503.2 142.1h0M494.1 143.3h0M494.1 141.9h0M506 145.1h0M506 142.5h0M506 141.5h0M506 140.5h0M506 139.1h0M506 138.1h0M499.3 145.7h0M499.3 144.6h0M499.3 143.4h0M496.5 143.3h0M496.5 142.3h0M496.5 139h0M496.5 137.7h0M495 143.3h0M495 142.1h0M490.7 143.6h0M490.5 141.5h0M491.2 137.4h0M492.7 132.7h0M492.7 143.7h0M492.5 143.2h0M493.5 130.4h0M496.6 134.3h0M497.4 142.6h0M497.7 142h0M499.5 126.9h0M501.5 136.9h0M502.3 142.6h0M503.7 140.7h0M505.6 141.2h0M506.7 139.3h0M508.2 136.5h0M508.2 142.2h0M536.2 144.4h0M536.2 143.5h0M531.3 145h0M531.3 144.2h0M531.3 143.2h0M531.3 142h0M531.3 140.7h0M538.7 144.5h0M538.7 143.4h0M538.7 142.1h0M538.7 141.2h0M538.7 139.9h0M538.7 139.1h0M540.7 144.9h0M540.7 144h0M540.7 143h0M540.7 141.9h0M540.7 140.8h0M537.1 147.3h0M537.1 146h0M537.1 145h0M537.1 144.1h0M537.1 142.8h0M532.3 145.8h0M532.3 144.9h0M532.3 143.7h0M541 146.1h0M541 145h0M541 144.1h0M541 141.6h0M537 144.4h0M537 143.5h0M537 142.5h0M535.7 146.6h0M535.7 145.3h0M535.7 144.2h0M530.8 141.2h0M531.4 131.4h0M531.5 126.7h0M534.6 140.9h0M535.3 141.6h0M537.6 142.5h0M538.8 142.3h0M538.8 133.6h0M538.3 138.1h0M539.8 143.2h0M540.2 135.8h0M542.4 133.3h0M570.3 142.6h0M570.3 140.4h0M570.3 139.6h0M570.3 138.4h0M570.3 137.4h0M570.3 136.3h0M566.9 144.6h0M566.9 143.6h0M566.9 142.3h0M566.9 141.5h0M571.9 140.1h0M571.9 136.3h0M571.9 133.1h0M571.9 131.7h0M571.9 130.9h0M571.9 129.6h0M569 144.2h0M569 143.1h0M569 142h0M569 140.7h0M569 138h0M569 136.8h0M569 135.6h0M569 134.6h0M569 133.5h0M569 132.6h0M564.8 145.2h0M564.8 143.9h0M567 144.6h0M567 143.3h0M567 142.2h0M567 141.1h0M567 138.6h0M565.7 142.9h0M565.7 139.9h0M565.7 138.7h0M564.8 145.2h0M564.8 143.9h0M564.8 142.9h0M564.8 142h0M561.4 140.3h0M563.8 133.5h0M563.5 134.7h0M564.7 141.9h0M565.4 133.3h0M567.7 140.2h0M572.3 140.7h0M573.7 143.4h0M597.8 142.8h0M597.8 141.4h0M601.2 141.7h0M601.2 140.5h0M601.2 139.4h0M601.2 138.2h0M601.2 137.1h0M601.2 136.1h0M601.2 134.8h0M601.2 133.7h0M601.3 141.7h0M601.3 140.4h0M601.3 139.4h0M601.5 141.7h0M601.5 140.5h0M601.1 141.7h0M601.1 140.5h0M601.1 139.3h0M601.1 138h0M601.1 134.1h0M601.1 133.3h0M601.1 132.2h0M601.1 131h0M601.1 130.2h0M601.1 129.3h0M601.1 128.1h0M601.1 126.9h0M596.3 142.1h0M596.3 140.8h0M596.3 139.9h0M596.3 138.8h0M602.8 143.8h0M602.8 142.5h0M602.8 141.4h0M602.8 140.3h0M602.8 139.3h0M602.8 138.4h0M602.8 137.1h0M593.6 142h0M599.2 141.8h0M603.5 139.4h0M603.8 140.7h0M604.7 141.6h0M604.5 135.4h0M604.8 136h0M604.7 130.2h0M622.5 141.4h0M622.5 140.3h0M622.5 139.4h0M622.5 136.4h0M622.8 141.4h0M624.3 143.8h0M624.3 143h0M624.3 141.8h0M624.3 140.4h0M623.5 143.9h0M623.5 142.5h0M623.5 141.2h0M619.3 135.4h0M622.3 134.8h0M625.6 136.2h0M640.8 145.9h0M640.8 145h0M640.8 144h0M640.8 142.9h0M640.8 142h0M650.8 144.5h0M650.8 143.3h0M650.8 142.4h0M650.8 141.1h0M650.8 140.3h0M644.2 144.8h0M644.2 143.8h0M644.2 142.5h0M647.9 142.2h0M647.9 141.2h0M647.9 140.2h0M647.9 138.9h0M647.9 138.1h0M647.9 136.7h0M639.3 146.5h0M639.3 145.3h0M639.3 144.1h0M639.3 142.7h0M639.3 141.8h0M652 145.2h0M652 144.1h0M652 142.8h0M652 141.9h0M652 140.6h0M652 139.5h0M642.6 143.1h0M642.6 142.2h0M642.6 139.3h0M649.5 143.8h0M649.5 142.8h0M649.5 141.9h0M649.5 140.6h0M649.5 139.3h0M649.5 138.4h0M649.5 137.6h0M649.5 136.7h0M649.5 135.4h0M643.2 137.7h0M643.2 136.9h0M643.2 135.9h0M643.2 134.7h0M643.2 133.4h0M643.2 132.2h0M643.2 131h0M643 143.1h0M643 141.9h0M643 140.6h0M643 139.5h0M643 136.9h0M643 136.1h0M643 135.3h0M643 134.1h0M643 132.7h0M643 131.4h0M643 130.3h0M643 129.3h0M650.3 144.5h0M650.3 143.4h0M650.3 142.6h0M650.3 141.7h0M635.8 142h0M636.3 139.8h0M637.6 140.2h0M639.4 144.9h0M640.5 143.4h0M640.6 140.7h0M643.7 133.6h0M646.7 132.1h0M646.3 136h0M647.5 139.9h0M648.6 130.1h0M650.3 142.4h0M655.7 142.1h0M655.3 143.6h0M115.3 144.5h0M115.3 143.5h0M115.3 142.5h0M115.3 141.5h0M115.3 140.5h0M115.3 139.5h0M115.3 138.5h0M115.3 137.5h0M114.6 144.5h0M114.6 143.5h0M114.6 142.5h0M114.6 141.5h0M114.6 140.5h0M114.6 139.5h0M114.6 138.5h0M114.6 137.5h0M114.6 134.6h0M113.7 144.5h0M113.7 143.5h0M113.7 142.5h0M113.7 141.5h0M113.7 140.5h0M113.7 139.5h0M113.7 138.5h0M113.7 137.5h0M113.7 136.5h0M106.3 144.5h0M106.3 143.5h0M106.3 142.5h0M106.3 141.5h0M106.3 140.5h0M106.3 139.5h0M107.3 144.5h0M107.3 143.5h0M107.3 142.5h0M107.3 141.5h0M107.3 140.5h0M113.7 144.5h0M113.7 142.2h0M113.7 141.2h0M198.1 144.5h0M198.1 143.5h0M198.1 142.5h0M198.1 141.5h0M198.1 140.5h0M196.2 144.5h0M196.2 143.5h0M196.2 142.5h0M196.2 141.5h0M196.2 140.5h0M196.2 139.5h0M196.2 138.5h0M189.4 144.5h0M189.4 143.5h0M189.4 142.5h0M189.4 141.5h0M189.4 140.5h0M189.4 139.5h0M189.4 138.5h0M189.4 137.5h0M189.4 136.5h0M189.4 135.5h0M189.4 134.5h0M189.4 133.5h0M189.4 132.5h0M191.1 144.5h0M191.1 143.5h0M191.1 142.5h0M191.1 141.5h0M191.1 140.5h0M191.1 138.3h0M191.1 137.3h0M191.1 136.3h0M191.1 135.3h0M191.1 134.3h0M191.1 133.3h0M191.1 132.3h0M240.9 144.5h0M240.4 144.5h0M239.8 144.5h0M238.4 144.5h0M238.4 143.5h0M238.4 142.5h0M238.4 141.5h0M241.7 144.5h0M241.7 143.5h0M241.7 142.5h0M241.7 139.6h0M241.7 138.6h0M241.7 137.6h0M241.7 134.5h0M239.5 144.5h0M239.5 143.5h0M239.5 141.2h0M239.5 140.2h0M239.5 139.2h0M239.5 136.6h0M238.7 144.5h0M238.7 143.5h0M238.7 142.5h0M238.7 141.5h0M238.7 140.5h0M238.7 139.5h0M238.7 138.5h0M238.7 137.5h0M238.7 136.5h0M238.7 134.1h0M326.7 144.5h0M326.7 143.5h0M326.7 142.5h0M326.7 141.5h0M326.7 140.5h0M333 144.5h0M333 143.5h0M333 142.5h0M333 141.5h0M333 140.5h0M333 139.5h0M330.6 144.5h0M330.6 141.1h0M330.6 140.1h0M330.6 139.1h0M330.6 138.1h0M330.6 137.1h0M330.6 136.1h0M325.3 144.5h0M325.3 141.1h0M325.3 140.1h0M325.3 139.1h0M325.3 136.6h0M331.3 144.5h0M331.3 143.5h0M331.3 140.8h0M331.3 139.8h0M331.3 138.8h0M462.1 144.5h0M462.1 143.5h0M462.1 142.5h0M462.1 141.5h0M462.1 138h0M462.1 134.9h0M462.1 133.9h0M462.1 132.9h0M462.1 131.9h0M462.1 130.9h0M462.1 129.9h0M453.6 144.5h0M453.6 143.5h0M453.6 141.4h0M453.6 140.4h0M453.6 139.4h0M453.6 138.4h0M453.6 137.4h0M453.6 136.4h0M453.6 135.4h0M453.6 134.4h0M453.6 133.4h0M453.6 132.4h0M455.4 144.5h0M455.4 143.5h0M455.4 140.7h0M455.4 138.1h0M455.4 137.1h0M455.4 136.1h0M455.4 135.1h0M455.4 134.1h0M455.4 133.1h0M455.4 132.1h0M455.4 131.1h0M459.2 144.5h0M459.2 143.5h0M459.2 142.5h0M459.2 141.5h0M460.5 144.5h0M460.5 143.5h0M460.5 142.5h0M460.5 141.5h0M460.5 140.5h0M460.5 139.5h0M460.5 138.5h0M460.5 137.5h0M460.5 136.5h0M460.5 133.7h0M460.5 132.7h0M460.5 131.7h0M459.9 144.5h0M459.9 143.5h0M459.9 142.5h0M459.9 141.5h0M459.9 139h0M459.9 138h0M459.9 137h0M459.9 136h0M459.9 135h0M459.9 134h0M459.9 133h0M578.3 144.5h0M578.3 143.5h0M578.3 142.5h0M578.3 141.5h0M575.4 144.5h0M575.4 141.7h0M575.4 140.7h0M575.4 139.7h0M577.1 144.5h0M577.1 143.5h0M577.1 142.5h0M621.5 144.5h0M621.5 143.5h0M621.5 140.6h0M621.5 139.6h0M622.9 144.5h0M622.9 143.5h0M622.9 142.5h0M622.9 141.5h0M622.9 140.5h0M622.9 139.5h0M623.4 144.5h0M623.4 143.5h0M623.4 142.5h0M620.4 144.5h0M620.4 143.5h0M620.4 142.5h0M620.4 141.5h0M620.4 140.5h0M620.4 139.5h0" stroke="#4a78ff" stroke-width="2.1" stroke-linecap="round" fill="none"/>
<path d="M152.6 139.6h0M152.6 138.2h0M152.6 137.4h0M118.1 140.4h0M118.1 139.4h0M118.1 138.1h0M118.1 136.8h0M118.1 135.9h0M119.7 141.9h0M119.7 140.7h0M119.7 139.7h0M119.7 138.4h0M119.7 136h0M119.7 134.8h0M150.1 142.6h0M150.1 139.5h0M142.7 143.3h0M142.7 142.1h0M150.8 142.6h0M150.8 141.3h0M150.8 140.4h0M150.8 139h0M150.8 135.3h0M150.8 134h0M150.8 132.8h0M150.8 131.7h0M123.1 141.8h0M123.1 140.4h0M123.1 139.1h0M123.1 138.3h0M123.1 135.5h0M123.1 134.2h0M123.1 132.9h0M124.6 140.8h0M124.6 139.8h0M124.6 138.8h0M124.6 137.7h0M124.6 136.4h0M124.6 132.5h0M151.6 143.6h0M151.6 140.6h0M151.6 139.3h0M155.6 141.3h0M155.6 137.5h0M155.6 136.2h0M128.5 136.3h0M128.5 135.5h0M128.5 134.2h0M128.5 133.3h0M128.5 132.4h0M128.5 131.2h0M147 140.5h0M147 139.3h0M147 138.2h0M128.6 136.3h0M128.6 135.3h0M128.6 134.1h0M128.6 132.8h0M152.2 139.6h0M152.2 138.7h0M152.2 137.6h0M152.2 134.6h0M125.7 143h0M125.7 141.8h0M152.5 139.6h0M152.5 138.7h0M152.5 137.5h0M136.2 141.3h0M136.2 140.2h0M136.2 139h0M136.2 136.5h0M136.2 135.2h0M156.8 142.1h0M156.8 141h0M156.8 140h0M156.8 138.9h0M156.8 138.1h0M156.8 137.2h0M156.8 136.3h0M138.3 142h0M138.3 139.4h0M138.3 138h0M138.3 137h0M138.3 136h0M138.3 135.1h0M138.3 133.8h0M138.3 132.7h0M138.3 131.9h0M138.3 130.5h0M138.3 129.3h0M158.4 141.3h0M158.4 140.1h0M158.4 138.8h0M158.4 137.8h0M158.4 136.7h0M128.5 136.3h0M128.5 135h0M128.7 136.3h0M128.7 135.2h0M128.7 134.2h0M128.7 133.1h0M128.7 132.3h0M136.6 141.3h0M136.6 139.9h0M136.6 138.8h0M136.6 135.5h0M155.6 141.3h0M155.6 138.4h0M155.6 137.4h0M155.6 136.2h0M155.6 135.1h0M155.6 134.1h0M131.8 139.8h0M131.8 138.5h0M114.5 142.8h0M114.6 141.3h0M114.6 141h0M115.4 136.3h0M115.6 143h0M116.2 136.8h0M116.7 135.2h0M117.7 137.1h0M120.4 135.5h0M122.4 137.3h0M122.8 136.2h0M124.3 139.1h0M126.3 135.3h0M126.2 141.1h0M129.3 138h0M130.6 134h0M132.5 128.4h0M134.3 135.4h0M134.6 135.1h0M135.8 134.7h0M136.3 133.9h0M140.5 136.2h0M140.6 132.6h0M141.5 132.8h0M142.5 137.4h0M145.4 134.9h0M147.6 134.6h0M147.8 137.9h0M150.5 141h0M150.6 137.4h0M151.8 133.9h0M151.2 136.1h0M152.5 133.2h0M154.3 137.8h0M154.6 133.9h0M156.5 132.8h0M159.6 144h0M159.3 142.3h0M227.7 144.2h0M227.7 143.2h0M227.7 142.2h0M227.7 141h0M227.7 140h0M227.7 138.7h0M232.4 145.3h0M232.4 144.1h0M232.4 143.3h0M232.4 142.5h0M232.4 141.3h0M232.4 140.4h0M232.4 137.1h0M232.4 136h0M232.4 134.8h0M232.4 133.7h0M215.3 146.4h0M215.3 145.1h0M215.3 143.7h0M215.3 142.6h0M215.3 141.6h0M215.3 138.4h0M215.3 137.3h0M209.4 146.2h0M209.4 145h0M209.4 143.8h0M234.4 142.8h0M234.4 141.9h0M234.4 140.6h0M234.4 139.4h0M234.4 138.4h0M234.4 137.5h0M216 146.4h0M216 145.1h0M216 144h0M216 143.2h0M212.2 147h0M212.2 145.8h0M212.2 144.9h0M212.2 144h0M212.2 143.1h0M212.2 141.9h0M233.1 145h0M233.1 141.9h0M206.3 146.7h0M206.3 145.5h0M206.3 144.6h0M206.3 141.8h0M206.3 140.5h0M206.3 139.5h0M206.3 138.3h0M206.3 137.3h0M206.3 136h0M206.3 135.1h0M221.7 144.1h0M221.7 142.8h0M221.7 141.6h0M208.3 144.6h0M208.3 143.3h0M208.3 142.3h0M232.5 145.3h0M232.5 142.9h0M232.5 141.9h0M232.5 140.8h0M232.5 139.9h0M232.5 138.8h0M232.5 137.5h0M232.5 136.3h0M217 140.7h0M217 139.9h0M217 138.8h0M217 137.7h0M217 136.4h0M217 135.4h0M217 134.5h0M229.1 142.5h0M229.1 139.4h0M229.1 138.1h0M235.5 144.6h0M235.5 140.9h0M235.5 140h0M235.5 139.1h0M235.5 138h0M235.5 137h0M235.5 136.1h0M235.5 135.2h0M214.9 145.9h0M214.9 145h0M214.9 143.8h0M205.9 143.3h0M205.9 142.2h0M205.9 141.3h0M221.2 144.1h0M218.5 144.2h0M218.5 143.2h0M218.5 142.3h0M218.5 140.9h0M216.6 143.1h0M216.6 142.2h0M218.7 144.2h0M218.7 141.1h0M218.7 139.9h0M218.7 139.1h0M218.7 138.1h0M218.7 137.2h0M218.7 136.2h0M218.7 135.3h0M218.7 134.3h0M218.7 133h0M237.5 145.7h0M237.5 144.7h0M237.5 143.3h0M237.5 142.3h0M237.5 141.2h0M202.3 144.2h0M205.7 140.7h0M206.3 144.4h0M209.3 139.5h0M210.6 129.7h0M212.2 144.2h0M214.7 142.8h0M214.8 138.8h0M214.6 143.1h0M215.6 144.4h0M215.6 144.6h0M216.5 131.2h0M217.4 138.3h0M217.4 139.1h0M221.7 130.1h0M225.7 138h0M225.4 143.6h0M226.8 135.6h0M226.7 132h0M227.7 138.7h0M228.4 137.8h0M229.3 136.5h0M230.5 135.3h0M233.4 139.6h0M234.7 138.6h0M235.4 134.6h0M235.5 143h0M239.4 134.8h0M239.5 143h0M239.5 126.8h0M240.3 143.8h0M242.6 135h0M283.8 143.3h0M283.8 142h0M283.8 141.1h0M283.8 140.2h0M283.8 139.1h0M283.8 136.2h0M283.8 135h0M300.7 143.5h0M300.7 142.5h0M300.7 139.2h0M300.7 138h0M283.3 143.3h0M283.3 142.3h0M283.3 141.1h0M304.6 139.1h0M304.6 137.8h0M304.6 136.7h0M304.6 135.8h0M304.6 134.6h0M304.6 133.6h0M283.8 143.3h0M310.4 142.1h0M310.4 139.2h0M303.4 142.6h0M303.4 141.3h0M292 144.5h0M292 143.1h0M292 142.2h0M308.2 142.8h0M281.9 143.9h0M281.9 142.6h0M281.9 140.2h0M281.9 139.1h0M281.9 136.8h0M281.9 133.1h0M281.9 131.8h0M281.9 130.8h0M281.9 129.5h0M311 142.1h0M311 140.8h0M311 139.5h0M311 138.4h0M311 137.5h0M311 136.2h0M308.2 142.8h0M308.2 141.7h0M308.2 140.4h0M308.2 139.1h0M308.2 138.2h0M308.2 137h0M308.2 136.2h0M308.2 134.8h0M285.8 143.6h0M285.8 142.2h0M285.8 141h0M289.5 143.4h0M289.5 142.5h0M289.5 141.6h0M289.5 140.6h0M289.5 139.7h0M297.9 142.4h0M297.9 141.5h0M297.9 140.6h0M297.9 139.2h0M297.9 138.2h0M297.9 137.3h0M297.9 136.2h0M307.8 142.2h0M307.8 141.2h0M307.8 139.8h0M281.7 143.9h0M281.7 143.1h0M281.7 141.9h0M281.7 140.8h0M281.7 139.9h0M286.7 140.2h0M286.7 139.4h0M286.7 138.2h0M286.7 137.1h0M286.7 135.8h0M286.7 134.8h0M302 142.5h0M302 139.2h0M302 138.4h0M302 137.3h0M302 135.9h0M301.9 143.8h0M301.9 142.7h0M301.9 141.6h0M301.9 140.6h0M301.9 139.6h0M301.9 138.5h0M301.9 137.3h0M301.9 136h0M301.9 135.2h0M301.9 134.1h0M301.9 131.3h0M295.2 143.3h0M295.2 142.5h0M295.2 139.4h0M295.2 136.4h0M278.6 142.7h0M279.4 143.9h0M279.5 132.6h0M281.5 141.5h0M281.3 140.2h0M282.2 132.6h0M285.5 133.9h0M286.7 131.1h0M291.3 142.4h0M292.3 132.8h0M296.5 137.1h0M296.4 139.2h0M298.3 131.9h0M299.7 141.5h0M299.2 139.9h0M301.3 140.5h0M301.6 139.7h0M303.8 132.5h0M304.6 136.8h0M305.7 132.4h0M305.4 136.9h0M305.2 129.2h0M309.2 138.6h0M313.8 135.9h0M315.4 137.8h0M315.6 143.9h0M372.7 143.1h0M372.7 141.7h0M372.7 140.7h0M360.3 145h0M360.3 142.6h0M360.3 141.8h0M360.3 140.4h0M360.3 139.1h0M360.3 137.9h0M360.3 136.5h0M360.3 135.1h0M360.3 132.5h0M360.3 131.4h0M360.3 130.2h0M360.3 129h0M360.3 128.2h0M375.2 144.9h0M375.2 143.6h0M375.2 142.8h0M375.2 141.5h0M375.2 140.1h0M368.3 142.5h0M368.3 141.2h0M360.1 145h0M360.1 143.8h0M360.1 142.9h0M365.8 145.9h0M365.8 144.5h0M365.8 143.4h0M365.8 142.4h0M365.8 141h0M365.8 140.2h0M354.6 145.2h0M354.6 144.1h0M354.6 142.9h0M354.6 141.9h0M354.6 140.7h0M354.6 137.5h0M354.6 136.6h0M361.9 144.7h0M361.9 143.8h0M361.9 142.8h0M364.8 146.2h0M364.8 145.1h0M364.8 143.7h0M372.5 143.1h0M372.5 142.2h0M372.5 141h0M372.5 139.9h0M372.5 138.5h0M372.5 137.6h0M372.5 136.3h0M374.9 143.8h0M374.9 142.8h0M374.9 141.9h0M374.9 140.9h0M377 145h0M377 143.6h0M377 142.7h0M355.6 145.3h0M355.6 144.3h0M355.6 143.3h0M355.6 142.3h0M355.6 141.1h0M355.6 140h0M355.6 139.1h0M355.6 138.1h0M355.6 136.8h0M364.6 146.2h0M364.6 145.2h0M364.6 144h0M364.6 142.7h0M364.6 141.3h0M364.6 140.2h0M364.6 138.9h0M364.6 137.8h0M364.6 136.5h0M364.6 135.4h0M359.5 145.3h0M359.5 144.1h0M359.5 143.1h0M359.5 142.1h0M359.5 140.7h0M360.8 145h0M360.8 144.1h0M360.8 142.7h0M360.8 141.4h0M360.8 140.6h0M360.8 139.8h0M360.8 138.6h0M360.8 137.6h0M360.8 136.4h0M375.7 144.9h0M375.7 143.6h0M375.7 142.8h0M375.7 139.3h0M375.7 138.3h0M350.3 137.4h0M350.4 131.4h0M351.6 135.7h0M351.3 141.1h0M351.4 140.9h0M351.2 133.4h0M357.5 130.2h0M359.2 136h0M359.6 142.4h0M361.2 137.6h0M363.7 141.1h0M364.3 143.2h0M368.3 133.7h0M368.3 140.9h0M371.8 142.1h0M372.3 138.5h0M373.4 143.3h0M374.4 138.7h0M375.4 138.7h0M376.5 144.3h0M376.5 142.7h0M377.3 142.3h0M380.3 141.7h0M410.5 145h0M410.5 144h0M410.5 142.6h0M410.5 141.3h0M426.1 144.9h0M426.1 143.6h0M431.2 144.4h0M431.2 143.4h0M431.2 142.2h0M431.2 140.9h0M431.1 144.4h0M431.1 143.1h0M431.1 141.8h0M424.7 144.8h0M424.7 143.6h0M424.7 142.5h0M424.7 141.4h0M428.7 145.5h0M428.7 144.2h0M428.7 143.1h0M428.7 142.2h0M428.7 140.9h0M428.7 139.7h0M428.7 138.7h0M428.7 137.4h0M428.7 136.1h0M428.7 134.9h0M428.7 134h0M428.7 133.1h0M411.6 144.9h0M411.6 143.8h0M411.6 142.8h0M411.6 141.7h0M411.6 140.7h0M411.6 139.5h0M411.6 138.3h0M414.8 144.6h0M414.8 143.8h0M414.8 142.7h0M418.1 145.6h0M418.1 143.1h0M411.5 144.9h0M411.5 143.8h0M411.5 142.7h0M411.5 141.7h0M411.5 140.3h0M427.8 144.5h0M427.8 143.3h0M427.8 142.1h0M427.8 140.9h0M427.8 139.7h0M412.2 142.5h0M412.2 141.7h0M412.2 140.4h0M412.2 139.2h0M412.2 138.1h0M408.2 144.5h0M408.2 143.2h0M408.2 142h0M408.2 141h0M408.2 140.1h0M408.2 139.2h0M408.2 138h0M427.7 144.5h0M427.7 143.5h0M414.7 144.6h0M408.7 143h0M409.5 140.7h0M409.5 137.3h0M411.7 141.7h0M412.4 140h0M413.4 139.9h0M413.7 141.8h0M413.4 142.1h0M414.3 140.4h0M415.5 141.9h0M415.7 141.4h0M416.3 136.3h0M417.2 133.1h0M423.7 142.3h0M424.4 142.1h0M424.4 135.8h0M424.6 140.2h0M427.3 129.2h0M427.7 132.7h0M427.2 133.7h0M428.6 136.8h0M428.6 141.3h0M430.6 139.2h0M431.7 138.7h0M432.4 142.3h0M485.1 144.3h0M485.1 141.9h0M485.1 141h0M467 144.8h0M467 143.7h0M467 142.8h0M467 141.9h0M465 145.2h0M465 144h0M465 142.9h0M465 141.9h0M465 138.1h0M465 136.7h0M465 135.4h0M465 134.3h0M481.7 145.5h0M481.7 144.1h0M481.7 143.2h0M464.6 145.2h0M464.6 144h0M464.6 143h0M467.7 145.3h0M467.7 144h0M467.7 142.9h0M467.7 141.6h0M471.9 145.2h0M471.9 144.3h0M471.9 142.9h0M471.9 141.8h0M471.9 140.4h0M470 146.3h0M470 143h0M470 141.9h0M470 140.8h0M466.6 144.8h0M466.6 144h0M466.6 140.9h0M466.6 138.5h0M474.2 143.2h0M474.2 141.8h0M483.9 144.2h0M483.9 142.8h0M483.9 141.5h0M483.9 140.2h0M467 144.8h0M467 143.7h0M467 142.8h0M477 138.2h0M477 137.3h0M477 136.2h0M477 133.1h0M477 130.7h0M477 129.7h0M477 128.4h0M477 127.3h0M475.1 137.5h0M475.1 136.5h0M475.1 135.4h0M475.1 134.1h0M475.1 132.8h0M470.1 143.4h0M470.1 142.3h0M470.1 140.9h0M462.6 137.4h0M463.5 134h0M464.4 141h0M464.5 140.9h0M465.4 139.4h0M466.5 138.1h0M468.3 142.8h0M468.4 142.5h0M469.8 142.1h0M469.5 139.8h0M470.2 140.4h0M472.5 139.7h0M475.6 135.1h0M475.4 135.3h0M476.5 132h0M477.3 140.2h0M477.4 142h0M478.7 139.7h0M480.8 143.3h0M480.3 143.2h0M482.8 143.4h0M484.5 140.6h0M484.6 141.8h0M485.6 141.7h0M487.8 137.9h0M522.6 143.6h0M522.6 142.4h0M522.6 141.3h0M521.1 139.6h0M521.1 138.5h0M521.1 137.4h0M521.1 136.5h0M521.1 135.2h0M521.1 134.1h0M521.1 132.7h0M521.1 131.3h0M520.1 142.6h0M520.1 141.7h0M520.1 140.4h0M520.1 139.5h0M516.9 144.8h0M516.9 140.9h0M516.9 139.8h0M516.9 138.6h0M513 142.8h0M513 141.4h0M513 140.5h0M513 139.2h0M513 138.3h0M513 136.1h0M512.7 144.6h0M512.7 143.2h0M512.7 142.1h0M512.7 140.8h0M512.7 139.9h0M512.7 138.8h0M512.7 137.9h0M512.7 137h0M512.7 135.8h0M512.7 134.9h0M521.1 139.6h0M521.1 138.4h0M521.1 137.4h0M521.1 136.1h0M521.1 134.8h0M521.1 133.7h0M521.1 132.4h0M522.5 143.6h0M522.5 142.4h0M522.5 141.3h0M518.9 143.3h0M518.9 142.2h0M518.9 140.9h0M518.9 139.7h0M518.9 138.8h0M518.9 137.7h0M518.9 136.3h0M518.9 135.1h0M523.9 143.5h0M523.9 142.7h0M523.9 141.7h0M509.5 145.2h0M511.5 136.5h0M514.2 139.5h0M515.2 138.9h0M515.6 137.5h0M515.7 142.5h0M525.7 141.8h0M525.4 141.8h0M526.4 138.8h0M526.6 137.6h0M526.7 141.2h0M554.5 143.1h0M554.5 141.9h0M554.5 140.8h0M554.5 139.4h0M553.2 143.3h0M553.2 142.3h0M553.2 141.1h0M553.3 143.3h0M553.3 142.2h0M553.3 141.4h0M553.3 140.3h0M553.3 137.3h0M553.3 136.5h0M553.3 135.3h0M552.9 138.1h0M552.9 136.8h0M552.9 135.8h0M552.9 134.9h0M552.9 133.8h0M552.9 132.7h0M552.9 131.8h0M547.5 145.3h0M547.5 143.9h0M549.4 143.7h0M549.4 141.5h0M549.4 140.3h0M549.4 139.1h0M549.4 138h0M549.4 136.6h0M549.4 135.5h0M549.4 134.6h0M549.3 143.7h0M549.3 142.5h0M549.3 141.7h0M553.6 143.3h0M553.6 142.1h0M553.6 141.2h0M557 140.8h0M557 139.7h0M557 138.9h0M557 137.7h0M544.4 139.7h0M544.2 144.1h0M544.6 143.4h0M545.3 140.6h0M545.6 137.6h0M547.5 130.4h0M549.6 133.1h0M550.6 137.3h0M551.6 140.3h0M553.4 129.7h0M555.8 139.5h0M556.4 141.8h0M559.4 138.9h0M560.3 139.8h0M560.4 137.3h0M584.8 140.3h0M584.8 139.4h0M584.8 138.3h0M586.1 143.7h0M586.1 142.6h0M586.1 141.6h0M586.1 140.6h0M586.1 137.8h0M586.1 136.6h0M584.1 140.3h0M584.1 138.9h0M584.1 138h0M589.6 145.4h0M589.6 144.3h0M589.6 143h0M579.9 144h0M579.9 142.7h0M579.9 141.7h0M579.9 140.6h0M579.9 139.3h0M579.9 138.2h0M579.9 137.2h0M579.9 135.9h0M581.5 144.5h0M581.5 140.9h0M581.5 137.5h0M589.2 145.4h0M589.2 144.4h0M589.2 143.4h0M589.2 142.4h0M586.6 143.7h0M586.6 141h0M578.4 137.7h0M579.4 135.4h0M580.3 131.1h0M583.6 138.4h0M583.6 141.9h0M583.6 139.9h0M586.3 135.6h0M587.6 140.9h0M588.5 141.2h0M589.4 143.3h0M591.4 141.6h0M593.6 138.9h0M612.5 140.1h0M612.5 138.9h0M612.5 138h0M613.9 142.4h0M613.9 141h0M613.9 140.1h0M615.4 141.1h0M615.4 140h0M615.4 139h0M615.4 137.7h0M615.4 136.5h0M615.4 135.1h0M615.4 133.9h0M615.4 132.8h0M615.9 141.1h0M615.9 140.2h0M615.9 138.8h0M615.9 138h0M615.9 137.2h0M615.9 136h0M612.1 140.1h0M612.1 138.9h0M612.1 137.8h0M612.1 137h0M612.1 135.6h0M613.2 142.4h0M613.2 141.2h0M613.2 140.4h0M613.2 139.2h0M613.2 138h0M607.3 141.2h0M607.8 136h0M608.5 140.4h0M609.7 142.2h0M612.7 137.4h0M614.4 127.7h0M614.5 136.4h0M614.8 139.2h0M615.7 138.9h0M615.2 128.5h0M619.6 139h0M619.7 145.1h0M629.8 144.8h0M629.8 143.8h0M629.8 142.4h0M629.8 141.4h0M629.8 140.2h0M629.8 136.9h0M629.8 135.8h0M631.2 144.3h0M631.2 143.3h0M631.2 142.5h0M631.2 144.3h0M631.2 140.6h0M631.2 139.2h0M631.2 138.3h0M629.6 144.8h0M629.6 144h0M629.6 142.7h0M629.6 141.6h0M629.6 140.6h0M629.5 138.1h0M631.4 139h0M632.8 136.4h0M115.2 144.5h0M115.2 143.5h0M115.2 142.5h0M115.2 141.5h0M115.2 140.5h0M115.2 139.5h0M115.2 136.3h0M115.9 144.5h0M115.9 143.5h0M115.9 142.5h0M114.8 144.5h0M114.8 143.5h0M114.8 142.5h0M114.8 141.5h0M114.8 140.5h0M114.8 139.5h0M114.8 138.5h0M114.8 137.5h0M114.8 144.5h0M114.8 143.5h0M114.8 140.3h0M114.8 139.3h0M114.8 138.3h0M114.8 137.3h0M114.8 136.3h0M114.8 135.3h0M121.8 144.5h0M121.8 143.5h0M121.8 142.5h0M121.8 141.5h0M121.8 138.6h0M121.8 137.6h0M123.5 144.5h0M123.5 143.5h0M123.5 142.5h0M123.5 141.5h0M123.5 140.5h0M123.5 139.5h0M123.5 136.6h0M148.7 144.5h0M148.7 143.5h0M148.7 140.8h0M148.7 139.8h0M148.7 138.8h0M148.7 136.1h0M141.8 144.5h0M141.8 143.5h0M141.8 142.5h0M141.8 141.5h0M141.8 138.6h0M141.8 137.6h0M141.8 136.6h0M141.8 135.6h0M148.6 144.5h0M148.6 143.5h0M148.6 140.6h0M148.6 139.6h0M148.6 138.6h0M148.6 136h0M148.6 135h0M219.4 144.5h0M219.4 143.5h0M219.4 142.5h0M219.4 141.5h0M219.4 140.5h0M219.4 139.5h0M219.4 138.5h0M221.1 144.5h0M221.1 142.4h0M221.1 141.4h0M221.1 140.4h0M221.1 139.4h0M227.4 144.5h0M227.4 143.5h0M227.4 142.5h0M227.4 141.5h0M227.4 140.5h0M227.4 139.5h0M227.4 138.5h0M227.4 137.5h0M227.4 136.5h0M227.4 135.5h0M283.2 144.5h0M283.2 143.5h0M283.2 142.5h0M283.2 141.5h0M283.2 139.5h0M290.3 144.5h0M290.3 143.5h0M290.3 142.5h0M290.3 141.5h0M290.3 140.5h0M290.3 139.5h0M292.1 144.5h0M292.1 141h0M292.1 137.9h0M283.9 144.5h0M283.9 143.5h0M283.9 142.5h0M283.9 141.5h0M283.9 140.5h0M289 144.5h0M289 143.5h0M289 142.5h0M289 141.5h0M289 140.5h0M289 139.5h0M289 138.5h0M289 137.5h0M289 136.5h0M289 135.5h0M302 144.5h0M302 143.5h0M302 142.5h0M302 141.5h0M302 138.9h0M302.7 144.5h0M302.7 143.5h0M302.7 140.9h0M302.7 139.9h0M302.7 138.9h0M302.7 137.9h0M302.7 136.9h0M302.7 135.9h0M301.9 144.5h0M301.9 143.5h0M301.9 142.5h0M301.9 141.5h0M301.9 140.5h0M301.9 139.5h0M301.9 138.5h0M301.9 137.5h0M308.8 144.5h0M308.8 143.5h0M308.8 142.5h0M308.8 141.5h0M425 144.5h0M425 143.5h0M425 142.5h0M425 141.5h0M423.5 144.5h0M423.5 143.5h0M423.5 142.5h0M423.5 140.5h0M423.5 139.5h0M423.5 137.4h0M431.8 144.5h0M431.8 143.5h0M431.8 142.5h0M431.8 141.5h0M431.8 140.5h0M431.8 139.5h0M431.8 138.5h0M431.8 137.5h0M431.7 144.5h0M431.7 143.5h0M431.7 141.3h0M431.7 140.3h0M426.6 144.5h0M426.6 143.5h0M426.6 142.5h0M426.6 141.5h0M425.3 144.5h0M425.3 141.9h0M425.3 140.9h0M425.3 139.9h0M425.3 138.9h0M425.3 137.9h0M425.3 136.9h0M471.8 144.5h0M471.8 142h0M474 144.5h0M474 141.4h0M474 140.4h0M474 138.2h0M465.8 144.5h0M465.8 143.5h0M465.8 142.5h0M465.8 141.5h0M465.8 140.5h0M473.8 144.5h0M473.8 143.5h0M473.8 142.5h0M473.8 141.5h0M473.8 140.5h0M587.8 144.5h0M587.8 143.5h0M587.8 142.5h0M587.8 141.5h0M587.8 139.4h0M582.8 144.5h0M582.8 143.5h0M582.8 142.5h0M582.8 141.5h0M582.8 140.5h0M582.8 139.5h0M582.5 144.5h0M582.5 142.3h0M582.5 141.3h0M582.5 140.3h0M581.1 144.5h0M581.1 143.5h0M581.1 142.5h0M581.1 141.5h0M581.1 140.5h0M581.1 139.5h0M581.1 137.5h0M582.4 144.5h0M582.4 143.5h0M582.4 142.5h0M582.4 141.5h0M588.1 144.5h0M588.1 143.5h0M588.1 142.5h0M588.1 141.5h0M588.1 140.5h0M588.1 139.5h0M588.1 138.5h0M588.1 137.5h0M588.1 136.5h0M588.1 135.5h0M588.1 134.5h0M545.2 144.5h0M545.2 143.5h0M545.2 142.5h0M545.2 141.5h0M546.4 144.5h0M546.4 143.5h0M546.4 142.5h0M551.4 144.5h0M551.4 143.5h0M554.2 144.5h0M554.2 143.5h0M554.2 142.5h0M554.2 141.5h0M554.2 140.5h0M552.1 144.5h0M552.1 143.5h0M552.1 142.5h0M561.3 144.5h0M561.3 143.5h0M561.3 142.5h0M561.2 144.5h0M561.2 143.5h0M558.9 144.5h0M558.9 143.5h0M558.9 142.5h0M560.1 144.5h0M560.1 143.5h0M560.1 142.5h0M559.7 144.5h0M559.7 143.5h0M559.7 142.5h0M559.7 141.5h0M553 144.5h0M553 143.5h0M553 142.5h0M526.7 116.9h0" stroke="#114d8a" stroke-width="2.1" stroke-linecap="round" fill="none"/>
<path d="M110.1 108.2h0M110.1 109.2h0M110.1 110.2h0M110.1 111.2h0M110.1 112.2h0M110.1 116.7h0M110.1 117.7h0M110.1 120.9h0M110.1 124.7h0M110.1 125.7h0M110.1 128.3h0M110.1 132.6h0M110.1 136.4h0M110.1 140.9h0M110.1 141.9h0M573 121.5h0M573 123.9h0M573 124.9h0M573 128.6h0M573 129.6h0M573 130.6h0M573 131.6h0M573 134.9h0M573 135.9h0M573 138.2h0M573 139.2h0M573 140.2h0M573 141.2h0M573 142.2h0M573 143.2h0M573 144.2h0M625 112h0M625 113h0M625 114h0M625 115h0M625 116h0M625 127h0M625 131h0M625 132h0M625 134.9h0M625 135.9h0M625 136.9h0M625 137.9h0M625 140.4h0" stroke="#4a78ff" stroke-width="2" stroke-linecap="round" fill="none"/>
<path d="M119.2 118h0M119.2 119h0M119.2 120h0M119.2 121h0M119.2 122h0M119.2 123h0M119.2 124h0M119.2 125h0M119.2 126h0M119.2 127h0M119.2 128.2h0M119.2 130.8h0M119.2 131.8h0M119.2 135.5h0M119.2 136.5h0M119.2 139.1h0M119.2 140.1h0M119.2 143.5h0M146 114.8h0M146 115.8h0M146 116.8h0M146 121.1h0M146 122.1h0M146 123.1h0M146 124.1h0M146 125.1h0M146 126.1h0M146 127.1h0M146 128.1h0M146 129.1h0M146 130.1h0M146 131.1h0M146 132.1h0M146 133.1h0M146 134.1h0M146 135.1h0M146 136.1h0M146 137.1h0M146 138.1h0M146 139.1h0M146 140.1h0M146 141.1h0M146 142.1h0M146 143.1h0M146 144.1h0M428.4 120.4h0M428.4 123.7h0M428.4 124.7h0M428.4 125.7h0M428.4 126.7h0M428.4 127.7h0M428.4 128.7h0M428.4 131.6h0M428.4 132.6h0M428.4 133.6h0M428.4 134.6h0M428.4 135.6h0M428.4 136.6h0M428.4 137.6h0M428.4 138.6h0M428.4 139.6h0M428.4 140.6h0M428.4 141.6h0M428.4 142.6h0M428.4 143.6h0M468.5 110.4h0M468.5 113.5h0M468.5 114.5h0M468.5 115.5h0M468.5 116.5h0M468.5 124.8h0M468.5 125.8h0M468.5 126.8h0M468.5 131h0M468.5 132h0M468.5 133h0M468.5 137h0M468.5 140.7h0M468.5 141.7h0M468.5 142.7h0M468.5 143.7h0" stroke="#114d8a" stroke-width="2.2" stroke-linecap="round" fill="none"/>
<path d="M194 70.3h0M194 71.3h0M194 72.3h0M194 73.3h0M194 74.3h0M194 75.3h0M194 76.3h0M194 77.3h0M194 78.3h0M194 79.3h0M194 80.3h0M194 81.3h0M194 82.3h0M194 83.3h0M194 84.3h0M194 85.3h0M194 86.3h0M194 87.3h0M194 88.3h0M194 89.3h0M194 90.3h0M194 91.3h0M194 92.3h0M194 93.3h0M194 94.3h0M194 95.3h0M194 96.3h0M194 97.3h0M194 98.3h0M194 99.3h0M194 100.3h0M194 101.3h0M194 102.3h0M194 103.3h0M194 104.3h0M194 105.3h0M194 106.3h0M194 107.3h0M194 108.3h0M194 109.3h0M194 110.3h0M194 111.3h0M194 112.3h0M194 113.3h0M194 114.3h0M194 115.3h0M194 116.3h0M194 117.3h0M194 118.3h0M194 119.3h0M194 120.3h0M194 121.3h0M194 122.3h0M194 123.3h0M194 124.3h0M194 125.3h0M194 126.3h0M194 127.3h0M194 128.3h0M194 129.3h0M194 130.3h0M194 131.3h0M194 132.3h0M194 133.3h0M194 134.3h0M194 135.3h0M194 136.3h0M194 137.3h0M194 138.3h0M194 139.3h0M194 140.3h0M194 141.3h0M194 142.3h0M194 143.3h0M194 144.3h0M243.8 77h0M243.8 78h0M243.8 79h0M243.8 80h0M243.8 81h0M243.8 82h0M243.8 83h0M243.8 84h0M243.8 85h0M243.8 86h0M243.8 87h0M243.8 88h0M243.8 89h0M243.8 90h0M243.8 91h0M243.8 92h0M243.8 93h0M243.8 94h0M243.8 95h0M243.8 96h0M243.8 97h0M243.8 98h0M243.8 99h0M243.8 100h0M243.8 101h0M243.8 102h0M243.8 103h0M243.8 104h0M243.8 105h0M243.8 106h0M243.8 107h0M243.8 108h0M243.8 109h0M243.8 110h0M243.8 111h0M243.8 112h0M243.8 113h0M243.8 114h0M243.8 115h0M243.8 116h0M243.8 117h0M243.8 118h0M243.8 119h0M243.8 120h0M243.8 121h0M243.8 122h0M243.8 123h0M243.8 124h0M243.8 125h0M243.8 126h0M243.8 127h0M243.8 128h0M243.8 129h0M243.8 130h0M243.8 131h0M243.8 132h0M243.8 133h0M243.8 134h0M243.8 135h0M243.8 136h0M243.8 137h0M243.8 138h0M243.8 139h0M243.8 140h0M243.8 141h0M243.8 142h0M243.8 143h0M243.8 144h0M328.8 118.7h0M328.8 119.7h0M328.8 120.7h0M328.8 121.7h0M328.8 122.7h0M328.8 123.7h0M328.8 124.7h0M328.8 125.7h0M328.8 126.7h0M328.8 127.7h0M328.8 128.7h0M328.8 129.7h0M328.8 130.7h0M328.8 131.7h0M328.8 132.7h0M328.8 133.7h0M328.8 134.7h0M328.8 135.7h0M328.8 136.7h0M328.8 137.7h0M328.8 138.7h0M328.8 139.7h0M328.8 140.7h0M328.8 141.7h0M328.8 142.7h0" stroke="#4a78ff" stroke-width="2.6" stroke-linecap="round" fill="none"/>
<path d="M243.8 27h0M243.8 28h0M243.8 29h0M243.8 30h0M243.8 32.3h0M243.8 33.3h0M243.8 36.8h0M243.8 39.3h0M243.8 40.3h0M243.8 44.5h0M243.8 45.5h0M243.8 47.8h0M243.8 50.9h0M243.8 55.2h0M243.8 56.2h0M243.8 58.7h0M243.8 60.9h0M243.8 61.9h0M243.8 62.9h0M243.8 63.9h0M243.8 64.9h0M243.8 65.9h0M243.8 66.9h0M243.8 67.9h0M243.8 68.9h0M243.8 72.1h0" stroke="#4a78ff" stroke-width="2.2" stroke-linecap="round" fill="none"/>
<path d="M224.7 113.2h0M224.7 114.2h0M224.7 115.2h0M224.7 116.2h0M224.7 124.7h0M224.7 125.7h0M224.7 130h0M224.7 131h0M224.7 132h0M224.7 133h0M224.7 137.4h0M224.7 138.4h0M224.7 139.4h0M224.7 142.3h0M224.7 143.3h0M224.7 144.3h0M549.9 124.9h0M549.9 125.9h0M549.9 126.9h0M549.9 131.3h0M549.9 135.1h0M549.9 136.1h0M549.9 137.1h0M549.9 138.1h0M549.9 139.1h0M549.9 140.1h0M549.9 141.1h0M549.9 142.1h0M549.9 143.1h0M549.9 144.1h0M556.8 125.7h0M556.8 126.7h0M556.8 127.7h0M556.8 128.7h0M556.8 129.7h0M556.8 130.7h0M556.8 131.7h0M556.8 132.7h0M556.8 133.7h0M556.8 134.7h0M556.8 135.7h0M556.8 136.7h0M556.8 137.7h0M556.8 138.7h0M556.8 139.7h0M556.8 142.8h0M556.8 143.8h0" stroke="#114d8a" stroke-width="2" stroke-linecap="round" fill="none"/>
<path d="M286.9 117.5h0M286.9 119.9h0M286.9 120.9h0M286.9 121.9h0M286.9 122.9h0M286.9 123.9h0M286.9 124.9h0M286.9 125.9h0M286.9 126.9h0M286.9 127.9h0M286.9 128.9h0M286.9 129.9h0M286.9 130.9h0M286.9 131.9h0M286.9 132.9h0M286.9 133.9h0M286.9 134.9h0M286.9 135.9h0M286.9 136.9h0M286.9 137.9h0M286.9 138.9h0M286.9 139.9h0M286.9 140.9h0M286.9 141.9h0M286.9 142.9h0M286.9 143.9h0" stroke="#114d8a" stroke-width="3" stroke-linecap="round" fill="none"/>
<path d="M305.2 90.3h0M305.2 91.3h0M305.2 92.3h0M305.2 93.3h0M305.2 94.3h0M305.2 95.3h0M305.2 96.3h0M305.2 97.3h0M305.2 98.3h0M305.2 99.3h0M305.2 100.3h0M305.2 101.3h0M305.2 102.3h0M305.2 103.3h0M305.2 104.3h0M305.2 105.3h0M305.2 106.3h0M305.2 107.3h0M305.2 108.3h0M305.2 109.3h0M305.2 110.3h0M305.2 111.3h0M305.2 112.3h0M305.2 113.3h0M305.2 114.3h0M305.2 115.3h0M305.2 116.3h0M305.2 117.3h0M305.2 118.3h0M305.2 119.3h0M305.2 120.3h0M305.2 121.3h0M305.2 122.3h0M305.2 123.3h0M305.2 124.3h0M305.2 125.3h0M305.2 126.3h0M305.2 127.3h0M305.2 128.3h0M305.2 129.3h0M305.2 130.3h0M305.2 131.3h0M305.2 132.3h0M305.2 133.3h0M305.2 134.3h0M305.2 135.3h0M305.2 136.3h0M305.2 137.3h0M305.2 138.3h0M305.2 139.3h0M305.2 140.3h0M305.2 141.3h0M305.2 142.3h0M305.2 143.3h0M305.2 144.3h0" stroke="#114d8a" stroke-width="2.6" stroke-linecap="round" fill="none"/>
<path d="M457.5 88.4h0M457.5 89.4h0M457.5 90.4h0M457.5 91.4h0M457.5 92.4h0M457.5 93.4h0M457.5 94.4h0M457.5 95.4h0M457.5 96.4h0M457.5 97.4h0M457.5 98.4h0M457.5 99.4h0M457.5 100.4h0M457.5 101.4h0M457.5 102.4h0M457.5 103.4h0M457.5 104.4h0M457.5 105.4h0M457.5 106.4h0M457.5 107.4h0M457.5 108.4h0M457.5 109.4h0M457.5 110.4h0M457.5 111.4h0M457.5 112.4h0M457.5 113.4h0M457.5 114.4h0M457.5 115.4h0M457.5 116.4h0M457.5 117.4h0M457.5 118.4h0M457.5 119.4h0M457.5 120.4h0M457.5 121.4h0M457.5 122.4h0M457.5 123.4h0M457.5 124.4h0M457.5 125.4h0M457.5 126.4h0M457.5 127.4h0M457.5 128.4h0M457.5 129.4h0M457.5 130.4h0M457.5 131.4h0M457.5 132.4h0M457.5 133.4h0M457.5 134.4h0M457.5 135.4h0M457.5 136.4h0M457.5 137.4h0M457.5 138.4h0M457.5 139.4h0M457.5 140.4h0M457.5 141.4h0M457.5 142.4h0M457.5 143.4h0M457.5 144.4h0" stroke="#4a78ff" stroke-width="3" stroke-linecap="round" fill="none"/>
<path d="M585.9 83.5h0M585.9 89.4h0M585.9 96h0M585.9 97h0M585.9 98h0M585.9 99h0M585.9 100h0M585.9 101h0M585.9 102h0M585.9 103h0M585.9 104h0M585.9 105h0M585.9 106h0M585.9 107h0M585.9 108h0M585.9 109h0M585.9 110h0M585.9 111h0M585.9 112h0M585.9 113h0M585.9 114h0M585.9 115h0M585.9 116h0M585.9 117h0M585.9 118h0M585.9 119h0M585.9 120h0M585.9 121h0M585.9 122h0M585.9 123h0M585.9 124h0M585.9 125h0M585.9 126h0M585.9 127h0M585.9 128h0M585.9 128.9h0M585.9 129.9h0M585.9 130.9h0M585.9 131.9h0M585.9 132.9h0M585.9 133.9h0M585.9 134.9h0M585.9 135.9h0M585.9 136.9h0M585.9 137.9h0M585.9 138.9h0M585.9 139.9h0M585.9 140.9h0M585.9 141.9h0M585.9 142.9h0M585.9 143.9h0" stroke="#114d8a" stroke-width="2.3" stroke-linecap="round" fill="none"/>
<line x1="42.8" y1="19" x2="42.8" y2="196.8" stroke="#9a9a9a" stroke-width="1.4"/>
<line x1="38" y1="34.6" x2="42.5" y2="34.6" stroke="#a8a8a8" stroke-width="1"/>
<text x="33.3" y="37.8" font-size="10" fill="#262626" text-anchor="end" textLength="15.6" lengthAdjust="spacingAndGlyphs">100</text>
<line x1="38" y1="57.4" x2="42.5" y2="57.4" stroke="#a8a8a8" stroke-width="1"/>
<text x="33.3" y="60.6" font-size="10" fill="#262626" text-anchor="end">50</text>
<line x1="38" y1="81" x2="42.5" y2="81" stroke="#a8a8a8" stroke-width="1"/>
<text x="33.3" y="84.2" font-size="10" fill="#262626" text-anchor="end">25</text>
<line x1="38" y1="111.5" x2="42.5" y2="111.5" stroke="#a8a8a8" stroke-width="1"/>
<text x="33.3" y="114.7" font-size="10" fill="#262626" text-anchor="end">10</text>
<line x1="38" y1="133.7" x2="42.5" y2="133.7" stroke="#a8a8a8" stroke-width="1"/>
<text x="33.3" y="136.9" font-size="10" fill="#262626" text-anchor="end">5</text>
<text transform="translate(8.9 108.5) rotate(-90)" x="0" y="0" font-size="11" fill="#262626" text-anchor="middle" textLength="74" lengthAdjust="spacingAndGlyphs">&#8211;log<tspan font-size="7.5" dy="2.5">10</tspan><tspan dy="-2.5"> (</tspan><tspan font-style="italic">P</tspan> value)</text>
<text x="91.3" y="202.2" font-size="9" fill="#5a86ff" text-anchor="middle">1</text>
<text x="136.4" y="202.2" font-size="9" fill="#2a5a8e" text-anchor="middle">2</text>
<text x="181.9" y="202.2" font-size="9" fill="#5a86ff" text-anchor="middle">3</text>
<text x="220.8" y="202.2" font-size="9" fill="#2a5a8e" text-anchor="middle">4</text>
<text x="261.7" y="202.2" font-size="9" fill="#5a86ff" text-anchor="middle">5</text>
<text x="296.4" y="202.2" font-size="9" fill="#2a5a8e" text-anchor="middle">6</text>
<text x="333.5" y="202.2" font-size="9" fill="#5a86ff" text-anchor="middle">7</text>
<text x="366.4" y="202.2" font-size="9" fill="#2a5a8e" text-anchor="middle">8</text>
<text x="393.4" y="202.2" font-size="9" fill="#5a86ff" text-anchor="middle">9</text>
<text x="418.4" y="202.2" font-size="9" fill="#2a5a8e" text-anchor="middle">10</text>
<text x="446.7" y="202.2" font-size="9" fill="#5a86ff" text-anchor="middle">11</text>
<text x="475" y="202.2" font-size="9" fill="#2a5a8e" text-anchor="middle">12</text>
<text x="500.6" y="202.2" font-size="9" fill="#5a86ff" text-anchor="middle">13</text>
<text x="519.7" y="202.2" font-size="9" fill="#2a5a8e" text-anchor="middle">14</text>
<text x="536.3" y="202.2" font-size="9" fill="#5a86ff" text-anchor="middle">15</text>
<text x="553.5" y="202.2" font-size="9" fill="#2a5a8e" text-anchor="middle">16</text>
<text x="568.9" y="202.2" font-size="9" fill="#5a86ff" text-anchor="middle">17</text>
<text x="585" y="202.2" font-size="9" fill="#2a5a8e" text-anchor="middle">18</text>
<text x="600.6" y="202.2" font-size="9" fill="#5a86ff" text-anchor="middle">19</text>
<text x="612.8" y="202.2" font-size="9" fill="#2a5a8e" text-anchor="middle">20</text>
<text x="623" y="202.2" font-size="9" fill="#5a86ff" text-anchor="middle">21</text>
<text x="632.4" y="202.2" font-size="9" fill="#2a5a8e" text-anchor="middle">22</text>
<text x="644.8" y="202.2" font-size="9" fill="#5a86ff" text-anchor="middle">X</text>
<text x="363.1" y="217.9" font-size="11" fill="#262626" text-anchor="middle" textLength="67.4" lengthAdjust="spacingAndGlyphs">Chromosome</text>
<text x="77.4" y="100.7" font-size="10" fill="#29aae3" text-anchor="start" font-style="italic" textLength="28.6" lengthAdjust="spacingAndGlyphs">PARP1</text>
<text x="101.9" y="70.4" font-size="10" fill="#7a3cae" text-anchor="start" font-style="italic" textLength="30" lengthAdjust="spacingAndGlyphs">MYCN</text>
<text x="131.5" y="96" font-size="10" fill="#29aae3" text-anchor="start" font-style="italic" textLength="25.3" lengthAdjust="spacingAndGlyphs">LY75,</text>
<text x="131.5" y="108.9" font-size="10" fill="#29aae3" text-anchor="start" font-style="italic" textLength="33.8" lengthAdjust="spacingAndGlyphs">CD302</text>
<text x="155.6" y="65.4" font-size="10" fill="#29aae3" text-anchor="start" font-style="italic" textLength="65.4" lengthAdjust="spacingAndGlyphs">TRIM59,IFT80</text>
<text x="230.3" y="24.9" font-size="10" fill="#29aae3" text-anchor="start" font-style="italic" textLength="23.1" lengthAdjust="spacingAndGlyphs">TERT</text>
<text x="200.6" y="93.4" font-size="10" fill="#29aae3" text-anchor="start" font-style="italic" textLength="35.4" lengthAdjust="spacingAndGlyphs">CXXC4,</text>
<text x="208" y="105.6" font-size="10" fill="#29aae3" text-anchor="start" font-style="italic" textLength="21.9" lengthAdjust="spacingAndGlyphs">TET2</text>
<text x="260.7" y="96.6" font-size="10" fill="#29aae3" text-anchor="start" font-style="italic" textLength="34.8" lengthAdjust="spacingAndGlyphs">HCG21,</text>
<text x="260.7" y="108.6" font-size="10" fill="#29aae3" text-anchor="start" font-style="italic" textLength="32.7" lengthAdjust="spacingAndGlyphs">MUC21</text>
<text x="287" y="62.1" font-size="10" fill="#29aae3" text-anchor="start" font-style="italic" textLength="30.7" lengthAdjust="spacingAndGlyphs">CD164</text>
<text x="313" y="113.1" font-size="10" fill="#29aae3" text-anchor="start" font-style="italic" textLength="60" lengthAdjust="spacingAndGlyphs">PURB,H2AZ2</text>
<text x="414.2" y="113.1" font-size="10" fill="#29aae3" text-anchor="start" font-style="italic" textLength="22.9" lengthAdjust="spacingAndGlyphs">STN1</text>
<text x="447.6" y="83.8" font-size="10" fill="#29aae3" text-anchor="start" font-style="italic" textLength="21.4" lengthAdjust="spacingAndGlyphs">ATM</text>
<text x="465" y="105" font-size="10" fill="#29aae3" text-anchor="start" font-style="italic" textLength="26.1" lengthAdjust="spacingAndGlyphs">ITPR2</text>
<text x="507.5" y="111.7" font-size="10" fill="#ec1c2a" text-anchor="start" font-style="italic" textLength="28" lengthAdjust="spacingAndGlyphs">TCL1B</text>
<text x="554.7" y="114.8" font-size="10" fill="#29aae3" text-anchor="start" font-style="italic" textLength="23.1" lengthAdjust="spacingAndGlyphs">MSI2</text>
<text x="565.5" y="78.6" font-size="10" fill="#29aae3" text-anchor="start" font-style="italic" textLength="34.2" lengthAdjust="spacingAndGlyphs">SETBP1</text>
<text x="605" y="105.6" font-size="10" fill="#29aae3" text-anchor="start" font-style="italic" textLength="30.6" lengthAdjust="spacingAndGlyphs">RUNX1</text>
<line x1="118.9" y1="74.1" x2="118.9" y2="109.4" stroke="#3d4a62" stroke-width="1.9"/>
<path d="M118.9 112.4L116 106.1L118.9 107.8L121.8 106.1z" fill="#3d4a62"/>
<line x1="305.9" y1="66.2" x2="305.9" y2="84.4" stroke="#3d4a62" stroke-width="1.9"/>
<path d="M305.9 87.4L303 81.1L305.9 82.8L308.8 81.1z" fill="#3d4a62"/>
<text x="-0.3" y="239.1" font-size="15.5" fill="#000" text-anchor="start" font-weight="bold" stroke="#000" stroke-width="0.35">b</text>
<text x="19.3" y="238.4" font-size="12" fill="#262626" textLength="229.8" lengthAdjust="spacingAndGlyphs">Cross-ancestry meta-analysis, <tspan font-style="italic">DNMT3A</tspan>-CH</text>
<line x1="43.3" y1="352.7" x2="683.2" y2="352.7" stroke="#ffb4b4" stroke-width="1.4"/>
<polygon points="70,422.2 70,378.5 71,378.5 71,377 72,377 72,376.1 73,376.1 73,376.5 74,376.5 74,376 75,376 75,377.2 76,377.2 76,376 77,376 77,373.6 78,373.6 78,376.6 79,376.6 79,374.4 80,374.4 80,375.8 81,375.8 81,374.7 82,374.7 82,375.9 83,375.9 83,376 84,376 84,376 85,376 85,376.7 86,376.7 86,375.3 87,375.3 87,375.9 88,375.9 88,376.5 89,376.5 89,375 90,375 90,376.5 91,376.5 91,373.2 92,373.2 92,375.3 93,375.3 93,377.4 94,377.4 94,376.1 95,376.1 95,374.5 96,374.5 96,369.1 97,369.1 97,372.8 98,372.8 98,374.3 99,374.3 99,375.2 100,375.2 100,374.1 101,374.1 101,376.7 102,376.7 102,374.4 103,374.4 103,377.4 104,377.4 104,377.3 105,377.3 105,376.2 106,376.2 106,374.6 107,374.6 107,372.8 108,372.8 108,377.2 109,377.2 109,375.9 110,375.9 110,376.5 111,376.5 111,375.7 112,375.7 112,376.7 113,376.7 113,377 114,377 114,378.5 114.1,378.5 114.1,422.2" fill="#4a78ff"/>
<polygon points="160.9,422.2 160.9,378.5 161,378.5 161,377 162,377 162,375.9 163,375.9 163,374.4 164,374.4 164,376.6 165,376.6 165,377.2 166,377.2 166,378 167,378 167,373.1 168,373.1 168,376.4 169,376.4 169,376.1 170,376.1 170,377 171,377 171,376.4 172,376.4 172,372.9 173,372.9 173,370.5 174,370.5 174,373.8 175,373.8 175,371.7 176,371.7 176,375.2 177,375.2 177,375 178,375 178,367.8 179,367.8 179,374.4 180,374.4 180,374.6 181,374.6 181,371.8 182,371.8 182,374.8 183,374.8 183,375.2 184,375.2 184,374.9 185,374.9 185,375.5 186,375.5 186,376.2 187,376.2 187,374.8 188,374.8 188,377.3 189,377.3 189,376 190,376 190,375.2 191,375.2 191,374.7 192,374.7 192,374.6 193,374.6 193,375.5 194,375.5 194,375.1 195,375.1 195,374.5 196,374.5 196,373.6 197,373.6 197,374.5 198,374.5 198,373.3 199,373.3 199,377 200,377 200,378.5 201,378.5 201,422.2" fill="#4a78ff"/>
<polygon points="242.1,422.2 242.1,378.5 243,378.5 243,377.5 244,377.5 244,377.1 245,377.1 245,376.8 246,376.8 246,377.2 247,377.2 247,377.9 248,377.9 248,378.3 249,378.3 249,377.9 250,377.9 250,375 251,375 251,378.8 252,378.8 252,375.4 253,375.4 253,376.7 254,376.7 254,377.4 255,377.4 255,373.1 256,373.1 256,375.4 257,375.4 257,375.7 258,375.7 258,374.6 259,374.6 259,373 260,373 260,377.2 261,377.2 261,376.7 262,376.7 262,378.5 263,378.5 263,378.3 264,378.3 264,375.9 265,375.9 265,375.2 266,375.2 266,376.7 267,376.7 267,374.5 268,374.5 268,374.2 269,374.2 269,374.7 270,374.7 270,374.1 271,374.1 271,377.2 272,377.2 272,375.1 273,375.1 273,376.9 274,376.9 274,378.4 275,378.4 275,377.2 276,377.2 276,376.4 277,376.4 277,377.2 278,377.2 278,378.5 278.1,378.5 278.1,422.2" fill="#4a78ff"/>
<polygon points="316.8,422.2 316.8,378.5 317,378.5 317,377 318,377 318,376.6 319,376.6 319,377.6 320,377.6 320,378.6 321,378.6 321,378.7 322,378.7 322,378.4 323,378.4 323,375.2 324,375.2 324,378.4 325,378.4 325,377.6 326,377.6 326,378.5 327,378.5 327,377.2 328,377.2 328,378.7 329,378.7 329,377.5 330,377.5 330,378.2 331,378.2 331,377.9 332,377.9 332,378.5 333,378.5 333,378.5 334,378.5 334,376.1 335,376.1 335,377.1 336,377.1 336,378.1 337,378.1 337,379.1 338,379.1 338,378.4 339,378.4 339,377.7 340,377.7 340,377.6 341,377.6 341,376.7 342,376.7 342,376.7 343,376.7 343,375.9 344,375.9 344,376.9 345,376.9 345,377.9 346,377.9 346,378.8 347,378.8 347,380.9 348,380.9 348,379.2 349,379.2 349,379.1 350,379.1 350,378.5 350.1,378.5 350.1,422.2" fill="#4a78ff"/>
<polygon points="381.1,422.2 381.1,378.5 382,378.5 382,377 383,377 383,375.6 384,375.6 384,375.7 385,375.7 385,375.3 386,375.3 386,377.2 387,377.2 387,375.6 388,375.6 388,374.7 389,374.7 389,376.5 390,376.5 390,374.4 391,374.4 391,375.9 392,375.9 392,374.4 393,374.4 393,376.5 394,376.5 394,374 395,374 395,373.8 396,373.8 396,374.8 397,374.8 397,376.7 398,376.7 398,374 399,374 399,377 400,377 400,376.4 401,376.4 401,377 402,377 402,376.2 403,376.2 403,377 404,377 404,378.5 405,378.5 405,422.2" fill="#4a78ff"/>
<polygon points="433.8,422.2 433.8,378.5 434,378.5 434,377 435,377 435,374.8 436,374.8 436,376.9 437,376.9 437,376.2 438,376.2 438,375 439,375 439,375.5 440,375.5 440,374.7 441,374.7 441,373.4 442,373.4 442,375.7 443,375.7 443,375.5 444,375.5 444,373.5 445,373.5 445,374.3 446,374.3 446,374.7 447,374.7 447,374.5 448,374.5 448,369.8 449,369.8 449,374.4 450,374.4 450,375.9 451,375.9 451,376.1 452,376.1 452,374.5 453,374.5 453,376.1 454,376.1 454,376.2 455,376.2 455,374.3 456,374.3 456,375.5 457,375.5 457,375 458,375 458,373.7 459,373.7 459,375.9 460,375.9 460,377 461,377 461,378.5 461.9,378.5 461.9,422.2" fill="#4a78ff"/>
<polygon points="489.2,422.2 489.2,378.5 490,378.5 490,377.2 491,377.2 491,377.1 492,377.1 492,375.7 493,375.7 493,375.8 494,375.8 494,377.6 495,377.6 495,375.1 496,375.1 496,373.4 497,373.4 497,373.8 498,373.8 498,376 499,376 499,373.4 500,373.4 500,375 501,375 501,374 502,374 502,376.4 503,376.4 503,371 504,371 504,375.9 505,375.9 505,374.7 506,374.7 506,375.7 507,375.7 507,376.9 508,376.9 508,377 509,377 509,378.5 509.8,378.5 509.8,422.2" fill="#4a78ff"/>
<polygon points="528,422.2 528,378.5 529,378.5 529,377 530,377 530,374.5 531,374.5 531,374.5 532,374.5 532,375.6 533,375.6 533,376.5 534,376.5 534,377.2 535,377.2 535,376.3 536,376.3 536,375.6 537,375.6 537,372.9 538,372.9 538,375.4 539,375.4 539,372.9 540,372.9 540,373.5 541,373.5 541,374.4 542,374.4 542,373.4 543,373.4 543,377 544,377 544,378.5 544.8,378.5 544.8,422.2" fill="#4a78ff"/>
<polygon points="561.4,422.2 561.4,378.5 562,378.5 562,377 563,377 563,371.8 564,371.8 564,372.9 565,372.9 565,374.1 566,374.1 566,375.7 567,375.7 567,374.1 568,374.1 568,373.9 569,373.9 569,373 570,373 570,372.9 571,372.9 571,374.7 572,374.7 572,373.7 573,373.7 573,373.7 574,373.7 574,372.5 575,372.5 575,377 576,377 576,378.5 577,378.5 577,422.2" fill="#4a78ff"/>
<polygon points="593.2,422.2 593.2,378.5 594,378.5 594,377.6 595,377.6 595,376.2 596,376.2 596,377.3 597,377.3 597,374.6 598,374.6 598,374.7 599,374.7 599,374.8 600,374.8 600,373.2 601,373.2 601,375.7 602,375.7 602,375.6 603,375.6 603,376.2 604,376.2 604,373.9 605,373.9 605,373.8 606,373.8 606,377 607,377 607,378.5 607.1,378.5 607.1,422.2" fill="#4a78ff"/>
<polygon points="619.2,422.2 619.2,378.5 620,378.5 620,377 621,377 621,375.1 622,375.1 622,375 623,375 623,374.9 624,374.9 624,374.9 625,374.9 625,377 626,377 626,378.5 627,378.5 627,422.2" fill="#4a78ff"/>
<polygon points="634.9,422.2 634.9,378.5 635,378.5 635,377 636,377 636,374.5 637,374.5 637,373.6 638,373.6 638,371 639,371 639,376 640,376 640,376 641,376 641,375.5 642,375.5 642,373.8 643,373.8 643,375.1 644,375.1 644,375.6 645,375.6 645,376.2 646,376.2 646,377.3 647,377.3 647,375.9 648,375.9 648,377.9 649,377.9 649,375.5 650,375.5 650,375.5 651,375.5 651,376.5 652,376.5 652,376.4 653,376.4 653,376.6 654,376.6 654,377 655,377 655,378.5 655.5,378.5 655.5,422.2" fill="#4a78ff"/>
<polygon points="114.1,422.2 114.1,378.5 115,378.5 115,377 116,377 116,374.4 117,374.4 117,375.3 118,375.3 118,372.3 119,372.3 119,375.6 120,375.6 120,374.3 121,374.3 121,377 122,377 122,373.7 123,373.7 123,376.9 124,376.9 124,376.8 125,376.8 125,375.6 126,375.6 126,375.5 127,375.5 127,374.8 128,374.8 128,374 129,374 129,374.2 130,374.2 130,373.9 131,373.9 131,374.1 132,374.1 132,374.2 133,374.2 133,373.7 134,373.7 134,375.2 135,375.2 135,375 136,375 136,374.9 137,374.9 137,374.2 138,374.2 138,375.6 139,375.6 139,375.2 140,375.2 140,374.5 141,374.5 141,371.4 142,371.4 142,375.5 143,375.5 143,374.2 144,374.2 144,371 145,371 145,372 146,372 146,373.8 147,373.8 147,373.4 148,373.4 148,375.2 149,375.2 149,375.5 150,375.5 150,373.2 151,373.2 151,375.8 152,375.8 152,373.3 153,373.3 153,374.7 154,374.7 154,377.5 155,377.5 155,376.1 156,376.1 156,376.3 157,376.3 157,375.6 158,375.6 158,372.9 159,372.9 159,377 160,377 160,378.5 160.9,378.5 160.9,422.2" fill="#114d8a"/>
<polygon points="201,422.2 201,378.5 202,378.5 202,377 203,377 203,370.2 204,370.2 204,374.4 205,374.4 205,377 206,377 206,376.2 207,376.2 207,373.5 208,373.5 208,375.3 209,375.3 209,375.3 210,375.3 210,375 211,375 211,374.4 212,374.4 212,375.2 213,375.2 213,376.5 214,376.5 214,376.7 215,376.7 215,374.4 216,374.4 216,376.5 217,376.5 217,376.7 218,376.7 218,376.9 219,376.9 219,377.3 220,377.3 220,377.1 221,377.1 221,377.9 222,377.9 222,376.4 223,376.4 223,378.6 224,378.6 224,376.4 225,376.4 225,376.8 226,376.8 226,375.7 227,375.7 227,375.4 228,375.4 228,373.6 229,373.6 229,374.5 230,374.5 230,374.8 231,374.8 231,375.8 232,375.8 232,374.3 233,374.3 233,375.9 234,375.9 234,373.6 235,373.6 235,376.5 236,376.5 236,376.1 237,376.1 237,374 238,374 238,376.2 239,376.2 239,376.1 240,376.1 240,376.4 241,376.4 241,377 242,377 242,378.5 242.1,378.5 242.1,422.2" fill="#114d8a"/>
<polygon points="278.1,422.2 278.1,378.5 279,378.5 279,377 280,377 280,372.9 281,372.9 281,375.1 282,375.1 282,373.5 283,373.5 283,375.5 284,375.5 284,376.6 285,376.6 285,374.2 286,374.2 286,374.7 287,374.7 287,375 288,375 288,374.7 289,374.7 289,373.7 290,373.7 290,373.8 291,373.8 291,375.1 292,375.1 292,372.9 293,372.9 293,375.6 294,375.6 294,376.5 295,376.5 295,375.8 296,375.8 296,375.4 297,375.4 297,372.8 298,372.8 298,371.2 299,371.2 299,375 300,375 300,370.8 301,370.8 301,376.1 302,376.1 302,376.4 303,376.4 303,375.4 304,375.4 304,375.9 305,375.9 305,376 306,376 306,374.6 307,374.6 307,376.1 308,376.1 308,375.4 309,375.4 309,375.9 310,375.9 310,375.7 311,375.7 311,373.7 312,373.7 312,374.6 313,374.6 313,376.1 314,376.1 314,373.8 315,373.8 315,377 316,377 316,378.5 316.8,378.5 316.8,422.2" fill="#114d8a"/>
<polygon points="350.1,422.2 350.1,378.5 351,378.5 351,377 352,377 352,376.9 353,376.9 353,375.5 354,375.5 354,375.7 355,375.7 355,377.8 356,377.8 356,377.2 357,377.2 357,376.3 358,376.3 358,377.6 359,377.6 359,375.3 360,375.3 360,375.7 361,375.7 361,375.7 362,375.7 362,374.9 363,374.9 363,374.3 364,374.3 364,376.2 365,376.2 365,377.4 366,377.4 366,376.6 367,376.6 367,377.2 368,377.2 368,376.4 369,376.4 369,375.9 370,375.9 370,375.3 371,375.3 371,374.3 372,374.3 372,374.1 373,374.1 373,375.4 374,375.4 374,374.2 375,374.2 375,376 376,376 376,376.7 377,376.7 377,374.5 378,374.5 378,375.6 379,375.6 379,375.2 380,375.2 380,377 381,377 381,378.5 381.1,378.5 381.1,422.2" fill="#114d8a"/>
<polygon points="405,422.2 405,378.5 406,378.5 406,377 407,377 407,374.1 408,374.1 408,375.6 409,375.6 409,373.9 410,373.9 410,375.3 411,375.3 411,375.1 412,375.1 412,375.8 413,375.8 413,372.8 414,372.8 414,373.6 415,373.6 415,376 416,376 416,374 417,374 417,374.6 418,374.6 418,374.5 419,374.5 419,374.1 420,374.1 420,374.7 421,374.7 421,373.5 422,373.5 422,375.1 423,375.1 423,374.9 424,374.9 424,375.3 425,375.3 425,374.1 426,374.1 426,371.9 427,371.9 427,373.4 428,373.4 428,373.8 429,373.8 429,374.2 430,374.2 430,375.6 431,375.6 431,372.8 432,372.8 432,377 433,377 433,378.5 433.8,378.5 433.8,422.2" fill="#114d8a"/>
<polygon points="461.9,422.2 461.9,378.5 462,378.5 462,377 463,377 463,375.5 464,375.5 464,376.4 465,376.4 465,373.9 466,373.9 466,375 467,375 467,375.1 468,375.1 468,375.4 469,375.4 469,377.4 470,377.4 470,376.6 471,376.6 471,375.6 472,375.6 472,376.7 473,376.7 473,376.2 474,376.2 474,373.6 475,373.6 475,372.4 476,372.4 476,373.8 477,373.8 477,374.8 478,374.8 478,374.3 479,374.3 479,374.4 480,374.4 480,372.4 481,372.4 481,376 482,376 482,376.1 483,376.1 483,375 484,375 484,375 485,375 485,375.3 486,375.3 486,372.7 487,372.7 487,374.7 488,374.7 488,377 489,377 489,378.5 489.2,378.5 489.2,422.2" fill="#114d8a"/>
<polygon points="509.8,422.2 509.8,378.5 510,378.5 510,377 511,377 511,376.7 512,376.7 512,373.9 513,373.9 513,376.4 514,376.4 514,376.9 515,376.9 515,376.8 516,376.8 516,375.6 517,375.6 517,375.3 518,375.3 518,375.5 519,375.5 519,376.2 520,376.2 520,374.6 521,374.6 521,376.6 522,376.6 522,376.3 523,376.3 523,377 524,377 524,376.9 525,376.9 525,377.8 526,377.8 526,377.3 527,377.3 527,378.5 528,378.5 528,422.2" fill="#114d8a"/>
<polygon points="544.8,422.2 544.8,378.5 545,378.5 545,377 546,377 546,374.6 547,374.6 547,374.7 548,374.7 548,376 549,376 549,376.2 550,376.2 550,376.4 551,376.4 551,376.8 552,376.8 552,374.8 553,374.8 553,373.6 554,373.6 554,375.6 555,375.6 555,373.8 556,373.8 556,374.2 557,374.2 557,373.9 558,373.9 558,374 559,374 559,373 560,373 560,377 561,377 561,378.5 561.4,378.5 561.4,422.2" fill="#114d8a"/>
<polygon points="577,422.2 577,378.5 578,378.5 578,377 579,377 579,376.1 580,376.1 580,376.6 581,376.6 581,376.4 582,376.4 582,375.2 583,375.2 583,375.5 584,375.5 584,370.7 585,370.7 585,374.4 586,374.4 586,373.9 587,373.9 587,375.8 588,375.8 588,374 589,374 589,371.6 590,371.6 590,376.1 591,376.1 591,376.4 592,376.4 592,377 593,377 593,378.5 593.2,378.5 593.2,422.2" fill="#114d8a"/>
<polygon points="607.1,422.2 607.1,378.5 608,378.5 608,377 609,377 609,376.2 610,376.2 610,372.5 611,372.5 611,372.2 612,372.2 612,376.1 613,376.1 613,377.5 614,377.5 614,378.5 615,378.5 615,377.2 616,377.2 616,376.4 617,376.4 617,376.5 618,376.5 618,377 619,377 619,378.5 619.2,378.5 619.2,422.2" fill="#114d8a"/>
<polygon points="627,422.2 627,378.5 628,378.5 628,377 629,377 629,375.3 630,375.3 630,377.1 631,377.1 631,375.3 632,375.3 632,376.6 633,376.6 633,377 634,377 634,378.5 634.9,378.5 634.9,422.2" fill="#114d8a"/>
<path d="M75.5 382.3h0M76.5 380.1h0M79.5 377.3h0M82.5 378h0M87.5 380.2h0M88.5 381.6h0M92.5 381.6h0M93.5 383.2h0M96.5 372.2h0M98.5 376.6h0M100.5 376.8h0M109.5 378.6h0M113.5 383.7h0M114.5 380.8h0M115.5 383.3h0M117.5 378.1h0M119.5 382.5h0M122.5 380.3h0M123.5 382.4h0M125.5 380.1h0M131.5 377.5h0M132.5 379.7h0M133.5 379.6h0M134.5 379.5h0M135.5 376.8h0M137.5 377.8h0M144.5 374.2h0M148.5 380.9h0M151.5 380.9h0M156.5 379.2h0M157.5 380.1h0M160.5 382.8h0M163.5 380.7h0M164.5 380.8h0M166.5 383.6h0M170.5 380.5h0M171.5 379.1h0M174.5 380.4h0M176.5 379.5h0M177.5 379h0M179.5 377.3h0M180.5 376.5h0M182.5 378.3h0M183.5 378.1h0M190.5 377.1h0M191.5 379.6h0M192.5 376.4h0M194.5 376.8h0M195.5 377.2h0M196.5 377h0M197.5 377.3h0M199.5 379.6h0M206.5 379.6h0M207.5 376.3h0M208.5 378.5h0M214.5 383.3h0M217.5 383.4h0M219.5 381h0M220.5 382.7h0M222.5 380.6h0M223.5 380.3h0M228.5 380.3h0M232.5 381h0M234.5 380h0M235.5 380.7h0M236.5 383h0M237.5 376.1h0M238.5 382.6h0M239.5 380.1h0M240.5 382.9h0M241.5 383.2h0M243.5 383h0M247.5 383.9h0M248.5 383.9h0M249.5 381.2h0M250.5 379.6h0M253.5 383.5h0M254.5 381h0M255.5 379.3h0M257.5 380.2h0M258.5 378.2h0M261.5 383.1h0M263.5 384.8h0M264.5 379.6h0M266.5 383.2h0M267.5 378.7h0M268.5 379.5h0M272.5 377.3h0M273.5 379.5h0M275.5 379.1h0M279.5 381.6h0M280.5 376h0M285.5 378.5h0M287.5 381.4h0M288.5 377.6h0M289.5 376.3h0M291.5 380.5h0M292.5 377.8h0M293.5 382.6h0M296.5 379.8h0M299.5 380.9h0M300.5 376.9h0M301.5 377.7h0M302.5 380.6h0M308.5 379.2h0M309.5 381h0M314.5 379.6h0M315.5 379.3h0M316.5 385.1h0M321.5 384.1h0M329.5 379.1h0M331.5 380.7h0M335.5 380.8h0M336.5 384.5h0M337.5 380.8h0M338.5 383.2h0M339.5 381.9h0M342.5 379.8h0M343.5 382h0M344.5 380.4h0M346.5 382.1h0M347.5 385.8h0M350.5 383.4h0M353.5 380.3h0M356.5 383h0M358.5 381.4h0M362.5 377.4h0M365.5 384.3h0M367.5 382.6h0M368.5 377.9h0M369.5 378.4h0M370.5 381.5h0M371.5 376.8h0M374.5 377.7h0M376.5 378.7h0M378.5 378.5h0M379.5 381h0M381.5 385.2h0M382.5 379.6h0M386.5 380h0M389.5 381.5h0M390.5 381.1h0M391.5 378.9h0M392.5 377.3h0M395.5 378.1h0M396.5 378.3h0M398.5 380.9h0M400.5 378.4h0M402.5 381.9h0M404.5 384.2h0M411.5 378.7h0M419.5 378.2h0M420.5 379.3h0M422.5 376.6h0M423.5 377.8h0M424.5 382.2h0M428.5 377.9h0M430.5 378.2h0M431.5 378.2h0M432.5 383h0M433.5 385.4h0M435.5 379.6h0M436.5 383.3h0M437.5 383h0M439.5 379h0M443.5 378.3h0M445.5 378h0M448.5 373.3h0M450.5 382.9h0M452.5 377.5h0M453.5 381.2h0M457.5 380.3h0M458.5 378h0M459.5 382.1h0M460.5 380.8h0M462.5 379.9h0M463.5 380.1h0M466.5 379.6h0M467.5 377.3h0M470.5 380.4h0M471.5 379.5h0M472.5 380.5h0M474.5 378.3h0M475.5 374.9h0M478.5 379.3h0M479.5 376.6h0M480.5 377.9h0M481.5 377.6h0M486.5 378.2h0M488.5 380.1h0M489.5 381.7h0M490.5 382.8h0M491.5 382.5h0M494.5 383.1h0M496.5 376.8h0M497.5 380.5h0M499.5 379h0M500.5 376.9h0M503.5 375.4h0M506.5 378.6h0M507.5 379.1h0M508.5 382.6h0M512.5 377.1h0M515.5 381.8h0M517.5 377.9h0M519.5 380h0M520.5 380.3h0M522.5 382.5h0M526.5 381.5h0M527.5 383.3h0M529.5 383.9h0M531.5 376.9h0M535.5 380.2h0M536.5 381.4h0M538.5 382.1h0M539.5 375.2h0M543.5 378.6h0M544.5 381.5h0M545.5 382.6h0M548.5 380.2h0M550.5 380.3h0M556.5 377.1h0M559.5 375.3h0M562.5 383.1h0M563.5 376.4h0M566.5 378.7h0M568.5 379h0M570.5 379.4h0M576.5 380.3h0M577.5 381.9h0M578.5 381h0M581.5 383.4h0M582.5 381.1h0M584.5 376h0M585.5 380.8h0M588.5 380.1h0M594.5 381.6h0M596.5 380.7h0M597.5 380.4h0M600.5 378.1h0M602.5 382.3h0M603.5 382.9h0M604.5 377.1h0M605.5 379.2h0M607.5 382.4h0M610.5 375.1h0M613.5 379.1h0M614.5 380.8h0M615.5 380.9h0M616.5 383.1h0M617.5 380.5h0M619.5 384.8h0M619.5 382.8h0M622.5 381.8h0M624.5 377.7h0M625.5 382.6h0M628.5 381.3h0M631.5 379.1h0M636.5 377.3h0M637.5 379.9h0M640.5 382.4h0M646.5 380.7h0M648.5 383.8h0M649.5 378.3h0" stroke="#ffffff" stroke-width="1.1" stroke-linecap="round" fill="none"/>
<path d="M89.9 375.5h0M89.9 374.5h0M89.9 373.7h0M89.7 375.5h0M89.7 374.2h0M89.7 373.3h0M89.7 372.2h0M89.7 371.3h0M89.7 370.3h0M89.7 368.9h0M89.7 367.6h0M89.7 363.7h0M82.5 376.4h0M82.5 375.1h0M82.5 374h0M110.6 377h0M110.6 373.3h0M110.6 372h0M110.6 370.9h0M110.6 370h0M98.7 374.8h0M98.7 373.5h0M109.4 376.4h0M109.4 375.2h0M109.4 372.2h0M109.4 371h0M109.4 369.7h0M109.4 368.8h0M110.1 377h0M110.1 376.1h0M110.1 375h0M110.1 373.8h0M110.1 372.9h0M110.1 371.7h0M110.1 370.4h0M110.1 369.1h0M75.1 377.7h0M75.1 374.1h0M75.1 372.7h0M75.1 371.5h0M101.6 377.2h0M101.6 376.1h0M101.6 375.1h0M101.6 374.1h0M101.6 373.1h0M101.6 371.8h0M101.6 370.8h0M101.6 369.8h0M101.6 368.6h0M101.6 367.7h0M101.6 366.4h0M101.6 365.5h0M101.6 364.3h0M101.6 362.9h0M101.6 362h0M101.6 360.9h0M101.6 360.1h0M101.6 359.1h0M74.2 376.5h0M74.2 375.4h0M74.2 374.2h0M74.2 373.2h0M109.3 376.4h0M109.3 375.5h0M109.3 374.6h0M83.3 376.5h0M83.3 375.6h0M83.3 374.6h0M83.3 373.4h0M74.7 376.5h0M74.7 375.6h0M74.7 372.8h0M74.7 371.5h0M74.5 376.5h0M74.5 375.6h0M74.5 374.6h0M89.3 375.5h0M89.3 374.4h0M100.8 374.6h0M100.8 373.7h0M100.8 372.4h0M100.8 371.4h0M100.8 370.2h0M108.4 377.7h0M108.4 376.7h0M108.4 375.5h0M91.5 373.7h0M91.5 372.4h0M91.5 371.1h0M91.5 370.1h0M91.5 369.2h0M102.6 374.9h0M102.6 374h0M102.6 373h0M102.6 372h0M102.6 368.5h0M88.6 377h0M88.6 375.8h0M88.6 374.6h0M86.8 375.8h0M86.8 374.5h0M86.8 373.4h0M90.8 377h0M90.8 375.7h0M90.8 374.5h0M90.8 373.2h0M90.8 371.9h0M107.5 373.3h0M107.5 371.9h0M107.5 370.8h0M101.3 377.2h0M101.3 376.4h0M101.3 375.4h0M71.4 367.8h0M71.4 373.8h0M73.5 375.1h0M74.4 374.1h0M76.4 367.2h0M79.7 372.1h0M81.7 372.9h0M82.6 374.5h0M82.3 374.7h0M85.6 372.3h0M88.5 374.9h0M88.6 371.3h0M89.7 373.7h0M93.5 366.2h0M93.5 374h0M96.7 367.4h0M97.6 366.6h0M97.8 370.9h0M101.3 371.9h0M105.6 373.1h0M106.3 370.7h0M107.7 368h0M109.7 369.7h0M112.4 373.4h0M114.6 369.3h0M164.6 377.1h0M164.6 376.2h0M164.6 375.4h0M164.6 372.1h0M164.6 370.8h0M164.6 369.8h0M164.6 368.5h0M164.6 367.7h0M164.6 366.3h0M164.6 365.3h0M164.1 377.1h0M164.1 375.8h0M164.1 374.9h0M164.1 373.6h0M164.1 372.8h0M164.1 371.8h0M164.1 370.5h0M164.1 369.4h0M164.1 368h0M164.1 367h0M164.1 365.9h0M164.1 363.3h0M164.1 362.1h0M164.1 361.1h0M170.4 377.5h0M170.4 376.3h0M170.4 372.8h0M170.4 371.9h0M170.4 370.7h0M170.4 369.5h0M170.4 368.4h0M170.4 366h0M170.4 364.8h0M186.6 376.7h0M186.6 375.8h0M186.6 374.7h0M186.6 372.3h0M186.6 371h0M186.6 370.2h0M186.6 369h0M186.6 368.2h0M186.6 366.8h0M186.6 365.7h0M164.1 377.1h0M164.1 374.6h0M164.1 373.3h0M197.8 375h0M197.8 374.2h0M197.8 372.9h0M165.5 377.7h0M165.5 376.4h0M165.5 375.1h0M178.2 368.3h0M178.2 367.4h0M178.2 366.3h0M170.6 377.5h0M170.6 376.6h0M170.6 375.2h0M170.6 374.3h0M170.6 373h0M170.6 372.2h0M170.6 371.2h0M170.6 369.8h0M170.6 368.4h0M170.6 367.1h0M170.6 365.7h0M170.6 364.4h0M170.6 363.1h0M170.6 361.7h0M170.6 360.7h0M170.6 359.4h0M170.6 358.4h0M194.6 375.6h0M194.6 374.5h0M194.6 373.3h0M194.6 372.4h0M194.6 371.2h0M194.6 369.9h0M194.3 375.6h0M194.3 374.2h0M182.5 375.3h0M182.5 373h0M182.5 372h0M182.5 371.1h0M182.5 370h0M182.5 366.2h0M166.6 378.5h0M166.6 377.6h0M166.6 376.7h0M166.6 375.5h0M166.6 374.5h0M166.6 373.3h0M166.6 372.1h0M166.6 371.2h0M166.6 370.3h0M166.6 369.4h0M166.6 368.5h0M166.6 367.5h0M166.6 366.3h0M166.6 363.9h0M166.6 362.6h0M166.6 361.3h0M166.6 360.5h0M166.6 359.5h0M166.6 358.5h0M189.3 376.5h0M189.3 375.2h0M189.3 374h0M189.3 373.1h0M189.3 371.9h0M164 377.1h0M164 376.3h0M168.4 376.9h0M168.4 375.8h0M168.4 374.6h0M166.2 378.5h0M166.2 377.5h0M166.2 376.3h0M166.2 375.1h0M166.2 374h0M166.2 372.9h0M166.2 371.7h0M192.2 375.1h0M192.2 373.8h0M192.2 372.8h0M167.4 373.6h0M167.4 372.4h0M167.4 371.5h0M167.4 370.6h0M167.4 369.8h0M175.1 372.2h0M175.1 371.3h0M175.1 370.1h0M175.1 369.1h0M175.1 368h0M193.9 376h0M193.9 374.9h0M193.9 373.8h0M193.9 372.4h0M193.9 368.7h0M188.1 377.8h0M188.1 377h0M188.1 376.1h0M188.1 375.3h0M162.6 370.4h0M163.6 370.1h0M164.4 372.5h0M165.3 369.3h0M168.4 371.2h0M171.4 371.1h0M171.4 370.7h0M172.6 360.7h0M180.5 372.9h0M180.3 373.3h0M182.3 364.1h0M183.2 370.4h0M184.7 363.3h0M184.2 363.8h0M184.2 372.5h0M185.3 372.9h0M186.5 371.2h0M186.5 373.2h0M187.6 358.8h0M189.6 372.2h0M190.6 360.5h0M193.7 361.4h0M194.5 373.6h0M195.6 373.4h0M195.3 370.7h0M196.4 371.5h0M196.6 367.7h0M197.5 363.9h0M198.3 369.8h0M199.7 370.3h0M199.5 373.4h0M200.3 374.5h0M271.2 377.7h0M271.2 376.6h0M271.2 375.5h0M271.2 374.6h0M271.2 373.6h0M271.2 372.4h0M271.2 371.4h0M271.2 370.2h0M271.2 369.2h0M271.2 367.9h0M271.2 366.7h0M265.6 375.7h0M265.6 373.1h0M265.6 371.8h0M265.6 370.9h0M268.3 374.7h0M268.3 373.7h0M268.3 372.8h0M268.3 371.6h0M268.3 370.3h0M248.6 378.8h0M248.6 377.5h0M248.6 376.1h0M248.6 375.1h0M248.6 373.8h0M248.6 372.7h0M259.1 373.5h0M259.1 372.2h0M259.1 371.3h0M256.1 375.9h0M256.1 373.5h0M256.1 372.4h0M258.1 375.1h0M258.1 374h0M258.1 372.7h0M258.1 371.8h0M258.1 370.6h0M258.1 369.4h0M258.1 368.3h0M258.1 367.3h0M258.9 375.1h0M258.9 373.9h0M258.9 372.7h0M258.9 371.4h0M258.9 370.5h0M262.1 379h0M262.1 378.1h0M262.1 377.1h0M262.1 376h0M262.1 375h0M262.1 373.6h0M272.6 375.6h0M272.6 374.5h0M272.6 373.2h0M257.3 376.2h0M257.3 374.9h0M257.3 373.6h0M270.7 374.6h0M270.7 373.2h0M270.7 372h0M270.7 370.9h0M270.7 370h0M270.7 369.2h0M255.1 373.6h0M255.1 372.7h0M255.1 371.5h0M253.8 377.2h0M253.8 376h0M253.8 374.6h0M259.7 373.5h0M259.7 372.7h0M259.7 371.7h0M251.7 379.3h0M251.7 375.4h0M251.7 374.1h0M246.4 377.7h0M246.4 376.5h0M246.4 375.1h0M246.4 373.9h0M255.6 373.6h0M255.6 372.5h0M255.6 371.6h0M249.5 378.4h0M249.5 377h0M249.5 375.8h0M249.5 375h0M242.5 376.6h0M242.7 374.1h0M242.5 376.1h0M243.7 371.8h0M244.4 367.8h0M244.2 374.7h0M244.5 372.6h0M246.2 375.4h0M251.2 367.1h0M251.6 375.2h0M251.8 366.8h0M252.3 363h0M253.7 361.9h0M255.5 370.1h0M259.3 365.4h0M262.4 372.1h0M263.7 372h0M263.7 367.2h0M263.4 374.1h0M265.5 372.2h0M268.6 367.2h0M269.6 368.6h0M269.8 370.7h0M277.7 366.7h0M277.8 374.9h0M277.3 363.1h0M277.2 373.2h0M327.9 377.7h0M327.9 376.7h0M327.9 375.6h0M327.9 374.6h0M329.7 378h0M329.7 376.8h0M329.7 375.5h0M329.7 374.2h0M329.5 378h0M329.5 377.1h0M329.5 376h0M329.5 375.2h0M329.5 373.9h0M329.5 372.6h0M327.5 377.7h0M327.5 376.6h0M324.3 378.9h0M324.3 376.1h0M324.3 375.2h0M329.3 378h0M329.3 377h0M329.3 375.7h0M329.3 374.8h0M329.3 373.9h0M329.3 372.6h0M329.3 371.6h0M329.3 370.7h0M329.3 369.8h0M338.6 378.9h0M338.6 378h0M338.6 377.2h0M338.6 376.1h0M338.6 375.2h0M331.2 378.4h0M331.2 377.2h0M337.1 379.6h0M337.1 378.4h0M337.1 377.5h0M337.1 376.1h0M327.9 377.7h0M327.9 376.7h0M327.9 375.8h0M327.9 374.5h0M327.9 371.9h0M327.9 369.5h0M327.9 368.4h0M327.9 367.1h0M338.5 378.9h0M338.5 378h0M338.5 376.9h0M338.5 374.4h0M343.2 376.4h0M343.2 375.6h0M343.2 374.4h0M343.2 373.4h0M319.4 378.1h0M319.4 377.1h0M319.4 375.9h0M319.4 374.9h0M319.4 373.6h0M337.2 379.6h0M330.5 378.7h0M330.5 376.2h0M330.5 375.1h0M330.5 374.3h0M330.5 373.1h0M330.5 371.9h0M330.5 370.5h0M330.5 369.5h0M330.5 368.4h0M331.9 378.4h0M331.9 377.5h0M331.9 376.5h0M331.9 375.4h0M331.9 374.6h0M331.9 373.6h0M331.9 372.5h0M330.7 378.7h0M330.7 377.9h0M330.7 376.9h0M330.7 375.7h0M344.5 377.4h0M344.5 376.5h0M344.5 375.5h0M316.7 373.4h0M316.5 369h0M318.4 370.3h0M318.3 373h0M318.5 374.4h0M319.8 371.9h0M321.5 377.6h0M321.4 375h0M323.5 371.9h0M324.2 376.8h0M324.2 373.8h0M327.2 361.6h0M330.8 375.4h0M331.6 375h0M332.6 377.1h0M332.3 366.6h0M333.4 375h0M335.7 360.7h0M337.6 367.7h0M337.4 371.7h0M339.2 375.3h0M339.7 375.1h0M347.5 379.3h0M348.4 378.1h0M350.7 377.2h0M389.7 377h0M389.7 376h0M389.7 375.2h0M388.6 375.2h0M388.6 373.9h0M388.6 373.1h0M388.6 375.2h0M388.6 374.3h0M388.6 373.5h0M388.6 372.1h0M388.6 370.9h0M388.6 369.9h0M400.7 376.9h0M400.7 375.9h0M400.7 374.8h0M399.2 377.5h0M399.2 376.4h0M399.2 375.3h0M399.2 374.4h0M399.2 373.3h0M398.3 374.5h0M398.3 373.6h0M398.3 372.4h0M398.3 371.2h0M398.3 368.7h0M398.3 367.4h0M398.3 364h0M398.3 362.9h0M398.3 361.5h0M398.3 360.5h0M398.3 359.3h0M398.6 374.5h0M398.6 373.6h0M398.6 372.3h0M398.6 371h0M397.2 377.2h0M397.2 375.8h0M397.2 374.9h0M397.2 373.5h0M397.2 372.3h0M397.2 371.1h0M388.3 375.2h0M388.3 374h0M388.3 373h0M388.3 372.2h0M388.3 371.4h0M398.5 374.5h0M398.5 373.4h0M398.5 370.1h0M398.5 367.6h0M398.5 366.5h0M398.5 365.4h0M398.5 364.2h0M398.5 362.9h0M398.5 362h0M398.5 361h0M398.5 360.2h0M398.5 359.1h0M398.5 358.2h0M401.3 377.5h0M401.3 376.4h0M401.3 375.2h0M401.3 374.1h0M401.3 372.9h0M401.3 371.5h0M401.3 370.6h0M396.2 375.3h0M396.2 374.1h0M396.2 373.2h0M396.2 371.9h0M396.2 370.6h0M390.5 374.9h0M390.5 373.6h0M382.7 358.2h0M382.8 373.4h0M382.8 372.6h0M386.6 371.2h0M386.2 370.4h0M388.7 369.9h0M389.6 373.6h0M390.7 370.6h0M391.4 370.5h0M391.3 371.1h0M394.8 372.5h0M394.8 372.8h0M395.4 365.2h0M395.5 370.4h0M396.6 373.2h0M397.4 373.2h0M398.4 368.2h0M398.7 369.6h0M400.6 375h0M401.7 371h0M402.6 371.7h0M403.4 375.3h0M449.8 374.9h0M449.8 373.6h0M449.8 372.2h0M449.8 371.2h0M449.8 370.4h0M444.7 374h0M444.7 372.7h0M444.7 371.5h0M444.7 370.5h0M444.7 369.7h0M454.6 376.7h0M454.6 375.9h0M454.6 375h0M451.4 376.6h0M451.4 373.1h0M451.4 372.2h0M437.9 376.7h0M437.9 375.4h0M437.9 374.5h0M437.9 373.6h0M439.9 376h0M439.9 372.4h0M439.9 371.2h0M439.9 370.1h0M439.9 369.1h0M439.9 367.8h0M439.9 365.5h0M439.9 364.4h0M439.9 360.8h0M439.9 359.5h0M439.9 358.2h0M437.5 376.7h0M437.5 375.4h0M437.5 374.1h0M437.5 373.1h0M453.9 376.6h0M453.9 375.7h0M453.9 374.5h0M453.9 373.2h0M438.7 375.5h0M438.7 374.5h0M438.7 373.6h0M438.7 372.4h0M451.7 376.6h0M451.7 375.5h0M439.1 376h0M439.1 374.7h0M439.1 373.4h0M444.3 374h0M444.3 372.8h0M444.3 372h0M459.1 376.4h0M459.1 375.6h0M459.1 372.8h0M459.1 371.8h0M447.3 375h0M447.3 374h0M447.3 372.8h0M447.3 371.6h0M457.9 375.5h0M457.9 374.6h0M457.9 373.5h0M457.9 372.3h0M457.9 371.4h0M433.6 377.3h0M434.3 366h0M434.6 373.3h0M435.4 373.6h0M435.5 370.5h0M437.6 371.4h0M438.7 370.8h0M438.8 370.5h0M442.5 372.8h0M443.3 373.6h0M444.6 370.4h0M445.6 373h0M446.7 359.5h0M446.6 373.5h0M449.7 366.1h0M450.5 370.3h0M450.2 373.3h0M450.5 372.3h0M450.6 371.7h0M451.6 374h0M452.6 370.2h0M453.2 375h0M458.5 369.4h0M459.7 372.8h0M492.3 376.2h0M492.3 374.9h0M492.3 373.8h0M492.3 372.6h0M505.6 375.2h0M505.6 372.7h0M505.6 370.4h0M505.6 369.6h0M499.9 373.9h0M499.9 373.1h0M499.7 373.9h0M499.7 372.6h0M499.7 371.8h0M499.7 371h0M499.7 370h0M499.7 368.7h0M499.7 367.4h0M493.3 376.3h0M493.3 373.6h0M493.3 372.6h0M493.3 371.6h0M493.3 370.5h0M493.3 369.6h0M504.6 376.4h0M504.6 375.4h0M504.6 374.1h0M504.6 373.3h0M504.6 372h0M504.6 370.7h0M504.6 367.6h0M504.6 366.7h0M502.7 376.9h0M502.7 375.6h0M502.7 374.5h0M502.7 373.3h0M502.7 372.1h0M502.7 370.9h0M502.7 370h0M502.7 368.8h0M502.7 367.7h0M502.7 366.6h0M507.1 377.4h0M507.1 376.3h0M507.1 375.5h0M507.1 374.3h0M505.4 375.2h0M505.4 373.9h0M499.8 373.9h0M499.8 372.7h0M499.8 371.8h0M499.8 370.9h0M499.8 369.7h0M499.8 368.7h0M499.8 367.6h0M505.8 375.2h0M505.8 373.9h0M505.8 373.1h0M489.3 374.7h0M490.7 374h0M492.3 372.9h0M495.6 371.9h0M496.4 371.9h0M498.7 374.9h0M498.7 369.4h0M500.7 363.4h0M502.6 374.6h0M503.3 359.5h0M505.5 372.8h0M505.2 366.6h0M506.3 371.2h0M507.6 374.4h0M507.4 375.1h0M507.6 367.3h0M507.8 371.8h0M509.3 375.3h0M537.3 373.4h0M537.3 371.1h0M537.3 369.9h0M537.3 368.6h0M539.2 373.4h0M539.2 372.4h0M539.2 371.1h0M534.9 377.7h0M534.9 376.3h0M534.9 375.4h0M534.9 374.1h0M534.9 373h0M534.9 371.7h0M534.9 370.8h0M538.9 375.9h0M538.9 374.8h0M538.9 373.8h0M538.9 372.7h0M538.9 371.7h0M538.9 370.5h0M538.9 369.6h0M538.9 368.3h0M537.1 373.4h0M537.1 372.5h0M537.1 371.7h0M536.6 376.1h0M536.6 374.9h0M536.6 373.8h0M536.6 372.5h0M538.4 375.9h0M538.4 374.7h0M538.4 373.5h0M534.8 377.7h0M534.8 376.5h0M534.8 375.6h0M534.8 374.5h0M534.8 373.4h0M539.2 373.4h0M539.2 372.2h0M539.2 370.9h0M528.5 368h0M530.6 371.8h0M531.4 369.2h0M534.2 374.1h0M534.7 372.7h0M534.4 375.3h0M534.6 370.8h0M538.3 372.7h0M539.3 367.3h0M542.7 364.3h0M544.3 376.6h0M544.7 374h0M544.8 376.3h0M544.6 376.8h0M565.5 374.6h0M565.5 373.6h0M565.5 372.3h0M565.5 371.3h0M565.7 374.6h0M565.7 373.3h0M565.7 372.3h0M565.7 371.4h0M565.7 370.3h0M571.2 375.2h0M571.2 374.1h0M571.2 370.7h0M571.2 369.8h0M566.8 376.2h0M566.8 374.9h0M566.8 374h0M573.8 374.2h0M573.8 373.1h0M573.8 372h0M573.8 371.1h0M573.8 369.8h0M573.8 368.5h0M564.5 373.4h0M564.5 372.5h0M564.5 371.5h0M564.5 370.3h0M571.9 375.2h0M571.9 374.2h0M571.9 373h0M571.9 371.9h0M571.9 370.6h0M571.9 369.7h0M571.9 368.4h0M571.9 367.1h0M572.2 374.2h0M572.2 373.3h0M572.2 372.3h0M572.2 371h0M561.7 377.4h0M561.4 376.4h0M562.6 373.3h0M566.4 373.9h0M568.4 369.8h0M569.4 361.8h0M569.4 365.5h0M573.7 365.1h0M574.8 366.4h0M574.4 362.7h0M574.3 360.5h0M575.3 374.5h0M576.5 376.7h0M576.7 371.4h0M601 376.2h0M601 375.1h0M601 373.8h0M601 372.9h0M601 371.6h0M598.4 375.2h0M598.4 374.1h0M598.4 373h0M598.4 371.6h0M598.4 370.8h0M598.4 369.6h0M598.4 368.5h0M598.4 367.5h0M598.4 366.3h0M599.9 375.3h0M599.9 374.4h0M599.9 373.3h0M599.9 372.2h0M599.9 371.2h0M599.9 368.3h0M599.9 367.4h0M599.9 366.4h0M599.9 365.6h0M599.9 364.6h0M596.2 377.8h0M596.2 377h0M596.2 376.1h0M596 377.8h0M596 376.9h0M596 376.1h0M596 375h0M596 374h0M602 376.1h0M602 374.9h0M602 372h0M602 371.2h0M598.4 375.2h0M598.4 374.1h0M598.4 372.9h0M598.4 372.1h0M598.4 371.2h0M593.4 377.1h0M596.4 373.9h0M596.7 369.6h0M597.5 369.8h0M598.7 373.1h0M599.4 372.4h0M600.3 372.2h0M602.3 369.7h0M602.4 373.9h0M603.7 373.4h0M603.4 369.3h0M604.7 372.4h0M604.4 365.7h0M622 375.6h0M622 372.1h0M622 371.2h0M624.2 375.4h0M624.2 374.1h0M622.5 375.5h0M622.5 374.7h0M622.5 373.4h0M622.5 372.3h0M622.5 375.5h0M622.5 374.6h0M622.5 373.8h0M622.5 372.8h0M622.5 371.7h0M622.5 370.8h0M623.2 373.9h0M625.5 360.7h0M626.8 375h0M626.6 376.1h0M626.3 373.9h0M639.6 376.5h0M639.6 375.6h0M639.6 374.7h0M638.6 371.5h0M638.6 370.5h0M638.6 369.6h0M638.6 368.3h0M638.6 367.1h0M638.6 366.2h0M638.6 365h0M638.6 363.9h0M645.2 376.7h0M645.2 375.3h0M645.2 371.6h0M645.2 370.6h0M641.9 376h0M641.9 374.7h0M641.9 373.6h0M641.9 372.6h0M646.1 377.8h0M646.1 376.6h0M646.1 375.3h0M646.1 374.5h0M646.1 373.4h0M646.1 372.3h0M646.1 371.4h0M649.8 376h0M649.8 374.7h0M649.8 373.3h0M649.8 372.1h0M649.8 371h0M649.8 370h0M649.8 368.8h0M649.8 367.7h0M649.8 366.5h0M649.8 365.1h0M644.4 376.1h0M644.4 375.3h0M644.4 374.1h0M638.4 371.5h0M638.4 370.5h0M638.4 369.6h0M638.4 368.5h0M646.8 377.8h0M646.8 376.5h0M646.8 375.7h0M646.8 374.8h0M646.8 374h0M646.8 373.1h0M652.4 376.9h0M652.4 375.9h0M652.4 374.7h0M652.4 373.8h0M652.4 372.6h0M643.5 375.6h0M643.5 374.4h0M643.5 373.1h0M643.5 372.1h0M643.5 370.9h0M643.5 369.8h0M636.7 358h0M638.7 362.9h0M639.6 374.1h0M641.7 369h0M642.4 368.6h0M642.7 365.6h0M643.7 372.9h0M647.6 372.6h0M650.4 371.7h0M651.5 367.9h0M652.5 373.1h0M655.5 372.8h0M655.6 371.5h0M113.6 376.5h0M113.6 374.4h0M113.6 373.4h0M113.6 372.4h0M113.6 371.4h0M113.6 370.4h0M115.1 376.5h0M115.1 375.5h0M115.1 374.5h0M115.1 373.5h0M115.1 370.7h0M112.6 376.5h0M112.6 375.5h0M112.6 374.5h0M113.2 376.5h0M113.2 375.5h0M113.2 372.4h0M102.3 376.5h0M102.3 375.5h0M102.3 374.5h0M102.3 372h0M102.5 376.5h0M102.5 375.5h0M102.5 374.5h0M102.5 373.5h0M102.5 372.5h0M108.7 376.5h0M108.7 375.5h0M108.7 374.5h0M101.6 376.5h0M101.6 375.5h0M101.6 374.5h0M101.6 373.5h0M101.6 372.5h0M101.6 376.5h0M101.6 375.5h0M101.6 374.5h0M101.6 373.5h0M101.6 372.5h0M199.7 376.5h0M199.7 375.5h0M199.7 373h0M199.7 372h0M199.7 369.3h0M199.7 366.7h0M199.7 365.7h0M199.7 364.7h0M199.7 363.7h0M189.2 376.5h0M189.2 375.5h0M189.2 374.5h0M189.2 373.5h0M189.4 376.5h0M189.4 375.5h0M189.4 374.5h0M189.4 373.5h0M189.4 372.5h0M192.7 376.5h0M192.7 375.5h0M192.7 374.5h0M192.7 373.5h0M192.7 372.5h0M192.7 371.5h0M199 376.5h0M199 375.5h0M199 374.5h0M199 373.5h0M198.1 376.5h0M198.1 375.5h0M198.1 374.5h0M198.1 372.4h0M198.1 371.4h0M198.1 370.4h0M246.6 376.5h0M245.6 376.5h0M241 376.5h0M240 376.5h0M240 375.5h0M240 374.5h0M238.4 376.5h0M238.4 375.5h0M238.4 374.5h0M238.4 373.5h0M238.4 370.6h0M239.1 376.5h0M239.1 375.5h0M239.1 374.5h0M241.3 376.5h0M241.3 374.1h0M245.6 376.5h0M245.6 375.5h0M245.6 374.5h0M245.6 373.5h0M461.1 376.5h0M461.1 375.5h0M461.1 374.5h0M461.1 373.5h0M461.1 372.5h0M461.1 371.5h0M462.9 376.5h0M462.9 375.5h0M462.9 374.5h0M462.9 373.5h0M462.9 372.5h0M462.9 371.5h0M462.9 370.5h0M462.9 369.5h0M462.9 368.5h0M462.9 367.5h0M462.9 366.5h0M453.2 376.5h0M453.2 375.5h0M453.2 374.5h0M453.2 373.5h0M453.2 372.5h0M453.2 371.5h0M453.2 370.5h0M453.2 369.5h0M453.2 368.5h0M453.3 376.5h0M453.3 375.5h0M453.3 374.5h0M453.3 373.5h0M453.3 370.4h0M453.3 369.4h0M453.3 368.4h0M453.3 367.4h0M453.3 366.4h0M452.6 376.5h0M452.6 375.5h0M452.6 372.2h0M452.6 371.2h0M463.1 376.5h0M463.1 373.6h0M463.1 372.6h0M463.1 371.6h0M463.1 370.6h0M629.1 376.5h0M629.1 375.5h0M629.1 374.5h0M629.1 373.5h0M629.1 372.5h0M619.8 376.5h0M619.8 375.5h0M619.8 374.5h0M619.8 373.5h0M627 376.5h0M627 375.5h0M627 374.5h0M621.4 376.5h0M621.4 375.5h0M621.4 374.5h0M621.4 373.5h0M592.6 376.5h0M592.6 375.5h0M592.6 374.5h0M593 376.5h0M593 375.5h0M593 374.5h0M593.9 376.5h0M593.9 375.5h0M593.9 374.5h0M598.3 376.5h0M598.3 375.5h0M598.3 374.5h0M592.2 376.5h0M592.2 375.5h0M331 376.5h0M331 375.5h0M324.3 376.5h0M324.3 373.8h0M330.1 376.5h0M330.1 375.5h0M330.1 374.5h0M330.1 373.5h0M324 376.5h0M324 375.5h0M324 374.5h0M324 373.5h0M326.3 376.5h0M317.4 353.9h0" stroke="#4a78ff" stroke-width="2.1" stroke-linecap="round" fill="none"/>
<path d="M142.9 376h0M142.9 375h0M142.9 373.8h0M133.4 374.2h0M133.4 373h0M133.4 372.2h0M139.5 375.7h0M139.5 374.7h0M139.5 372.2h0M139.5 370.8h0M142.4 376h0M121.1 377.5h0M121.1 376.4h0M121.1 375.5h0M121.1 374.5h0M141.6 371.9h0M141.6 370.5h0M123.1 377.4h0M123.1 376.1h0M123.1 375h0M145.9 372.5h0M145.9 371.6h0M145.9 370.4h0M145.9 369.5h0M145.9 368.5h0M145.9 367.5h0M145.9 366.4h0M131.4 374.6h0M131.4 373.5h0M131.4 372.3h0M125.3 376.1h0M125.3 375h0M125.3 373.8h0M155.4 376.6h0M155.4 375.8h0M155.4 374.7h0M155.4 373.8h0M155.4 372.9h0M155.4 371.8h0M123.9 377.4h0M156.7 376.8h0M156.7 375.6h0M156.7 372.8h0M132.1 374.7h0M132.1 373.7h0M132.1 372.8h0M132.1 371.9h0M131.6 374.6h0M131.6 373.7h0M131.6 372.4h0M131.6 371.6h0M131.6 370.5h0M131.6 369.4h0M152.5 373.8h0M152.5 372.9h0M138.2 376.1h0M138.2 375h0M138.2 373.9h0M155.2 376.6h0M155.2 375.6h0M155.2 374.5h0M155.2 373.6h0M155.2 372.5h0M155.2 371.4h0M155.2 367.6h0M155.2 366.7h0M155.2 365.4h0M155.2 364.4h0M147.3 373.9h0M147.3 373h0M147.3 371.7h0M147.3 370.7h0M133.9 374.2h0M133.9 373.1h0M133.9 371.7h0M133.9 368.5h0M121.9 377.5h0M121.9 376.4h0M121.9 375.4h0M121.9 374.3h0M121.9 372.9h0M121.9 372h0M127.7 375.3h0M127.7 374.1h0M127.7 372.8h0M127.7 371.7h0M127.7 370.4h0M127.7 369.6h0M127.7 368.3h0M125.6 376.1h0M125.6 374.8h0M156.6 376.8h0M156.6 375.7h0M156.6 374.8h0M156.6 373.7h0M156.6 372.7h0M132.5 374.7h0M132.5 373.4h0M132.5 372.2h0M132.5 371.2h0M114.5 371.4h0M115.3 373.2h0M116.5 369.9h0M116.5 367.3h0M120.3 367.5h0M122.5 372.6h0M123.3 373.9h0M123.3 368.2h0M124.4 368.6h0M124.7 375.4h0M124.7 374.1h0M125.6 370.6h0M125.7 374.3h0M128.4 371h0M129.8 373.2h0M132.2 372.4h0M134.7 364.4h0M134.5 361.7h0M134.3 371.2h0M139.8 370.1h0M141.4 369h0M147.4 370.8h0M149.3 372.3h0M151.6 373.4h0M152.6 360.6h0M152.4 363.3h0M154.6 368.7h0M156.7 374.8h0M159.3 365.3h0M206.9 376.7h0M206.9 375.5h0M206.9 374.6h0M206.9 373.2h0M206.9 371.9h0M206.9 371h0M206.9 370.1h0M206.9 369h0M206.9 367.8h0M206.9 365.5h0M206.9 362.3h0M206.9 361.2h0M206.9 360.3h0M206.9 359h0M206.9 357.9h0M238.2 376.7h0M238.2 375.6h0M212.2 375.7h0M212.2 374.5h0M212.2 373.4h0M212.2 372.2h0M214 377h0M214 376h0M214 375.1h0M214 374.2h0M214 373.1h0M214 371.7h0M214 370.9h0M214 369.7h0M214 368.4h0M236.3 376.6h0M236.3 375.8h0M236.3 374.9h0M205.6 377.5h0M205.6 376.5h0M205.6 375.6h0M205.6 374.3h0M205.6 373.5h0M216.7 377h0M216.7 375.7h0M216.7 374.6h0M216.7 373.5h0M227.9 375.9h0M227.9 374.8h0M227.9 373.6h0M227.9 372.5h0M227.9 371.6h0M227.9 370.8h0M207.7 374h0M207.7 373h0M207.7 371.9h0M207.7 370.8h0M207.7 369.8h0M237.6 374.5h0M237.6 373.4h0M237.6 372.1h0M235.3 377h0M235.3 376h0M235.3 374.9h0M235.3 373.6h0M235.3 372.5h0M235.3 371.5h0M235.3 370.6h0M206.7 376.7h0M206.7 375.4h0M206.7 374.5h0M206.7 373.3h0M206.7 372.4h0M206.7 371.5h0M206.7 370.2h0M213.9 377h0M213.9 376h0M213.9 374.6h0M228 375.9h0M228 374.9h0M210 375.5h0M210 374.5h0M210 373.6h0M233.6 376.4h0M233.6 375.1h0M233.6 373.9h0M233.6 372.9h0M233.6 371.6h0M233.6 370.4h0M233.6 369.1h0M218.7 377.4h0M206 377.5h0M206 376.2h0M206 374.8h0M221.8 378.4h0M221.8 377.1h0M221.8 375.8h0M221.8 374.6h0M221.8 373.7h0M221.8 372.6h0M221.8 371.5h0M221.8 370.3h0M228.6 374.1h0M228.6 373.3h0M228.6 372.2h0M228.6 371h0M216.3 377h0M216.3 376.1h0M216.3 375h0M216.3 373.6h0M205.8 377.5h0M205.8 376.4h0M205.8 375h0M205.8 373.8h0M205.8 372.9h0M205.8 371.8h0M205.8 367.9h0M202.8 374.2h0M202.3 369.7h0M209.3 372.5h0M210.2 368.5h0M211.8 371h0M212.6 364.5h0M212.5 363.4h0M213.3 375.2h0M215.5 359.6h0M217.4 360.7h0M218.8 375.8h0M218.8 372.7h0M219.6 371.6h0M220.4 375.6h0M225.5 374.9h0M225.5 373.4h0M227.6 368.9h0M227.8 374.2h0M230.5 358.1h0M230.5 372.4h0M232.7 373.1h0M236.3 365.3h0M241.6 374.5h0M242.5 372.6h0M284 377.1h0M284 375.8h0M284 374.6h0M284 373.7h0M284 372.4h0M284 370.1h0M284 369h0M304.8 376.4h0M304.8 375h0M294.1 377h0M294.1 376h0M294.1 375h0M294.1 374h0M294.1 372.9h0M294.1 371.6h0M294.1 370.8h0M294.1 367.4h0M294.1 366.6h0M294.1 365.7h0M312.2 375.1h0M312.2 373.7h0M286.3 375.2h0M286.3 374h0M286.3 373.2h0M310.9 376.2h0M310.9 373.7h0M310.9 372.5h0M310.9 371.3h0M310.9 370h0M310.9 369h0M289.7 374.2h0M289.7 372.8h0M289.7 371.9h0M289.7 371h0M289.7 369.8h0M289.7 368.7h0M282.9 374h0M282.9 372.8h0M282.9 371.4h0M282.9 370.5h0M282.9 369.6h0M282.9 368.5h0M282.9 367.6h0M282.9 366.5h0M282.9 365.1h0M282.9 363.7h0M282.9 362.8h0M305.6 376.5h0M305.6 375.6h0M305.6 374.4h0M305.6 373.4h0M305.6 372.4h0M305.6 370.1h0M309.9 376.4h0M309.9 375.5h0M309.9 374.2h0M309.9 372.9h0M309.9 372h0M286.2 375.2h0M286.2 374h0M286.2 373.2h0M286.2 372.3h0M286.2 371.3h0M286.2 369.9h0M305.9 376.5h0M305.9 375.4h0M298.1 371.7h0M298.1 370.4h0M297.5 373.3h0M302 376.9h0M302 375.9h0M302 374.8h0M302 373.7h0M305.2 376.5h0M305.2 373.9h0M305.2 372.6h0M305.2 371.3h0M305.2 370h0M305.2 367.6h0M302.1 376.9h0M302.1 375.9h0M302.1 373.7h0M309.6 376.4h0M309.6 375.2h0M309.6 372.6h0M309.6 371.7h0M309.6 370.8h0M303.8 375.9h0M303.8 374.7h0M308.7 375.9h0M308.7 375h0M308.7 373.9h0M308.7 372.5h0M308.7 371.2h0M308.7 370.1h0M282.2 374h0M282.2 372.8h0M282.2 371.6h0M282.2 370.4h0M282.2 369.3h0M278.7 377.4h0M278.2 375.8h0M278.8 373.4h0M281.5 370.8h0M281.6 373.5h0M283.4 361.4h0M284.6 375.5h0M285.5 360.8h0M285.3 369.1h0M286.5 364.8h0M286.4 372.7h0M288.3 372.5h0M289.5 363.8h0M291.5 368.6h0M292.2 369.9h0M297.5 366.1h0M299.3 358.8h0M300.5 363.2h0M300.8 368.6h0M303.6 370.7h0M303.4 369.8h0M306.2 371.9h0M310.2 366.8h0M310.5 374.2h0M310.5 372.2h0M311.4 359.3h0M314.3 367.4h0M316.7 375.2h0M316.7 376h0M376.1 377.2h0M376.1 376.3h0M376.1 375.1h0M376.1 374.2h0M376.1 373.3h0M376.1 371.9h0M376.1 370.9h0M376.1 369.8h0M376.1 368.6h0M376.1 367.7h0M376.1 366.8h0M376.1 365.6h0M376.1 364.4h0M376.1 363h0M376.1 361.6h0M363.6 374.8h0M363.6 373.7h0M363.6 371h0M357.8 376.8h0M357.8 375.9h0M357.8 374.7h0M357.8 373.3h0M368.9 376.9h0M368.9 375.6h0M368.9 374.8h0M358 378.1h0M358 377h0M358 375.8h0M358 374.5h0M358 373.6h0M362.5 375.4h0M362.5 374.3h0M362.5 373h0M365.8 377.9h0M365.8 376.8h0M365.8 375.8h0M353.5 376h0M353.5 375h0M353.5 373.9h0M353.5 372.8h0M353.5 371.8h0M353.5 370.5h0M353.5 368.2h0M370.9 375.8h0M370.9 374.9h0M354.3 376.2h0M354.3 374.9h0M354.3 373.5h0M365.4 377.9h0M365.4 376.6h0M365.4 375.7h0M365.4 374.6h0M365.4 373.3h0M365.4 372.2h0M360.6 376.2h0M360.6 375.1h0M360.6 374.3h0M360.6 373.4h0M360.6 372h0M360.6 370.9h0M360.6 369.6h0M368.5 376.9h0M368.5 375.7h0M368.5 374.8h0M364.5 376.7h0M364.5 375.7h0M364.5 374.9h0M364.5 373.8h0M364.5 372.7h0M364.5 371.9h0M364.5 370.7h0M364.5 369.6h0M364.5 368.8h0M364.5 367.8h0M364.5 366.7h0M364.5 365.6h0M378.1 376.1h0M378.1 374.8h0M378.1 371.5h0M378.1 370.7h0M355.7 378.3h0M355.7 377.4h0M355.7 376.1h0M355.7 374.8h0M355.7 373.6h0M355.7 372.6h0M355.7 371.6h0M357.7 376.8h0M357.7 373.8h0M354.6 368.4h0M355.3 374.7h0M356.7 373.5h0M358.4 375.5h0M359.5 373.1h0M360.5 371.1h0M360.3 373.9h0M362.5 360.3h0M364.5 364.9h0M364.6 368.7h0M365.8 367.8h0M367.8 375.1h0M367.7 373.4h0M368.7 365.8h0M369.4 372.1h0M372.8 372h0M373.5 374.3h0M377.8 370.2h0M377.6 369.4h0M377.3 368.3h0M378.3 373.7h0M379.7 372.1h0M380.4 363.4h0M381.8 374.6h0M381.4 366.4h0M413.7 373.3h0M413.7 372.5h0M413.7 370.2h0M413.7 369.2h0M412.3 376.3h0M412.3 375.2h0M412.3 373.8h0M412.3 372.9h0M412.3 371.7h0M412.3 370.5h0M417.7 375.1h0M417.7 374h0M417.7 372.9h0M417.7 371.9h0M417.7 375.1h0M417.7 373.8h0M417.7 372.8h0M417.7 371.6h0M417.7 370.6h0M417.7 369.7h0M417.7 368.6h0M417.7 367.8h0M417.7 366.4h0M417.7 365.1h0M417.7 364.2h0M424.3 375.8h0M424.3 374.4h0M424.3 373.5h0M424.3 372.5h0M417.4 375.1h0M417.4 374.3h0M417.4 372.9h0M417.4 371.8h0M417.4 370.9h0M416.3 374.5h0M416.3 373.2h0M416.3 372.2h0M424.3 375.8h0M424.3 374.6h0M424.3 373.2h0M418.7 375h0M418.7 373.8h0M418.7 372.9h0M418.7 369.8h0M418.7 368.6h0M418.7 367.7h0M418.7 366.8h0M418.7 366h0M418.7 364.7h0M418.7 363.9h0M418.7 362.6h0M418.7 361.5h0M417.8 375.1h0M417.8 373.8h0M417.8 372.8h0M427.7 373.9h0M427.7 372.9h0M427.7 371.9h0M427.7 371h0M423.6 375.4h0M423.6 374.2h0M423.6 373.1h0M423.6 371.8h0M410.7 375.8h0M410.7 374.4h0M410.7 373.2h0M410.7 372h0M423.3 375.4h0M423.3 374.4h0M423.3 373.1h0M423.3 371.9h0M423.3 370.6h0M419.8 374.6h0M419.8 373.8h0M419.8 372.6h0M419.8 371.4h0M419.8 370.4h0M419.8 367.5h0M419.8 366.5h0M407.4 368.9h0M409.7 370.8h0M410.5 372.7h0M413.6 369.8h0M414.3 361.6h0M415.2 368.6h0M420.2 369.7h0M420.6 371.9h0M423.6 369.3h0M426.2 369.8h0M429.4 372.8h0M431.3 365.1h0M431.7 369.5h0M433.4 377.2h0M433.6 359.8h0M472.7 377.2h0M472.7 376.3h0M472.7 375.3h0M472.7 374.3h0M472.7 371.7h0M486 373.2h0M486 372.2h0M486 371.2h0M486 370h0M478.1 374.8h0M478.1 373.8h0M478.1 372.7h0M478.1 371.5h0M478.1 370.3h0M478.1 369.5h0M478.1 368.5h0M478.1 367.5h0M478.1 366.5h0M478.1 365.3h0M483.7 375.5h0M483.7 374.5h0M483.7 373.7h0M483.7 372.6h0M483.7 371.6h0M483.7 370.8h0M483.7 369.4h0M483.7 368.6h0M472.2 377.2h0M472.2 376h0M472.2 375h0M472.2 373.7h0M466.8 375.5h0M479.4 374.9h0M479.4 373.7h0M479.4 372.8h0M479.4 371.9h0M479.4 369.6h0M479.4 366.4h0M479.4 365.5h0M479.4 364.6h0M479.4 363.2h0M466.5 375.5h0M466.5 374.5h0M482.3 376.6h0M482.3 375.5h0M482.3 374.2h0M472.5 377.2h0M472.5 373.3h0M472.5 372h0M474.7 374.1h0M474.7 372.8h0M474.7 370.5h0M474.7 367.4h0M474.7 366.4h0M468.4 375.9h0M471.2 376.1h0M471.2 374.7h0M471.2 373.7h0M471.2 372.3h0M471.2 371.1h0M471.2 370.3h0M471.2 369.1h0M471.2 368.3h0M471.2 367.2h0M471.2 366.1h0M471.2 364.7h0M469.8 377.9h0M469.8 376.5h0M469.8 375.4h0M471.7 376.1h0M471.7 374.9h0M463.7 373.3h0M464.5 374.7h0M465.7 369.5h0M466.7 371.1h0M467.8 365.6h0M467.5 373.1h0M472.4 374.4h0M473.3 373.5h0M475.3 370.4h0M476.4 371h0M476.4 370.7h0M477.6 372.8h0M477.7 371.6h0M479.3 370.2h0M483.5 372.8h0M484.2 361.9h0M486.4 362.2h0M525.3 378.3h0M525.3 376.9h0M525.3 375.7h0M525.3 374.8h0M525.3 373.7h0M525.3 372.7h0M525.3 371.9h0M518.9 376h0M518.9 374.9h0M518.9 373.6h0M518.9 372.2h0M518.9 371.2h0M518.9 370.1h0M518.9 369.1h0M520.2 375.1h0M520.2 373.8h0M520.2 371.2h0M520.2 369.8h0M520.2 368.8h0M522.5 376.8h0M522.5 375.8h0M522.5 374.9h0M522.5 374h0M522.5 373h0M522.5 371.7h0M514.6 377.4h0M514.6 376.1h0M514.6 375.1h0M519.2 376.7h0M519.2 375.7h0M519.2 374.6h0M519.2 373.5h0M519.2 372.6h0M519.2 369.9h0M519.2 369h0M519.2 368h0M519.7 376.7h0M519.7 375.6h0M519.7 374.2h0M519.7 371.5h0M519.7 370.4h0M523.5 377.5h0M523.5 376.4h0M523.5 375.6h0M522.5 376.8h0M522.5 375.9h0M522.5 374.6h0M522.5 373.7h0M522.5 372.4h0M522.5 371.5h0M522.5 370.6h0M513.9 376.9h0M513.9 375.6h0M513.9 374.7h0M513.9 373.5h0M520.5 370.9h0M522.6 370.6h0M523.7 370.4h0M523.3 372.6h0M523.7 374.6h0M527.3 375.2h0M548.2 376.5h0M548.2 375.3h0M548.2 374.2h0M548.2 373.2h0M548.2 371.9h0M548.2 368.5h0M548.2 367.3h0M548.2 364.7h0M548.2 363.8h0M548.2 360.7h0M548.2 359.7h0M552.7 375.3h0M552.7 374h0M552.7 372.8h0M552.7 371.5h0M552.7 370.5h0M552.7 369.5h0M552.7 368.6h0M552.7 367.6h0M552.7 366.7h0M552.7 365.9h0M552.7 365h0M552.7 363.6h0M552.7 359.8h0M548.1 376.5h0M548.1 375.7h0M548.1 374.4h0M548.1 373.5h0M547.4 375.2h0M547.4 374.2h0M547.4 373h0M547.4 371.7h0M547.4 370.9h0M547.4 369.8h0M547.4 368.5h0M551.8 377.3h0M551.8 376h0M551.8 375h0M551.8 374h0M551.8 372.6h0M556.7 374.7h0M556.7 373.9h0M556.7 372.8h0M556.7 371.6h0M556.7 369.3h0M556.7 368.2h0M556.7 367.1h0M556.7 365.9h0M556.7 364.7h0M549.1 376.7h0M549.1 375.8h0M549.1 374.8h0M547.7 375.2h0M547.7 374h0M547.7 372.8h0M547.7 370.1h0M547.7 369.2h0M547.7 368.3h0M547.7 367.4h0M557.1 374.4h0M557.1 371.3h0M557.1 370h0M557.1 368.7h0M544.5 372.5h0M544.3 376.4h0M545.3 375.5h0M546.2 372.8h0M551.5 372.7h0M553.7 366h0M554.3 370.1h0M556.7 372.5h0M558.7 361.2h0M558.3 371.6h0M588.6 374.5h0M588.6 373.5h0M588.6 372.3h0M588.6 370.9h0M590.6 376.6h0M590.6 375.6h0M590.6 374.8h0M580.1 377.1h0M580.1 375.8h0M580.1 374.5h0M580.1 373.6h0M580.1 372.3h0M580.1 368.5h0M580.1 367.3h0M580.1 366.2h0M580.1 377.1h0M580.1 376h0M580.5 377.1h0M580.5 374h0M580.5 372.8h0M583.2 376h0M583.2 375h0M583.2 373.8h0M584.8 371.2h0M584.8 370.4h0M584.8 369.3h0M584.8 366.3h0M584.8 365.2h0M584.8 361.6h0M582.5 375.7h0M582.5 374.8h0M582.5 373.8h0M582.5 372.4h0M582.5 371.5h0M577.5 373.7h0M578.5 373.6h0M578.5 365.1h0M579.6 373.5h0M580.4 373.8h0M580.7 371.9h0M580.4 366.5h0M580.6 374.4h0M581.2 374.4h0M584.4 367.1h0M585.2 373h0M585.6 370.2h0M586.5 372.9h0M588.6 364.5h0M588.5 367.4h0M588.3 371.4h0M589.3 366.2h0M589.3 369.4h0M589.5 369.8h0M615.8 377.7h0M615.8 376.5h0M615.8 375.3h0M615.8 374.1h0M611.7 372.7h0M611.7 371.3h0M611.7 370.4h0M611.7 369.5h0M611.7 368.6h0M611.7 367.3h0M611.7 366h0M614.3 379h0M614.3 377.8h0M614.3 374.4h0M612.8 376.6h0M612.8 375.7h0M612.8 374.6h0M613.4 378h0M613.4 376.6h0M613.4 375.8h0M613.4 374.8h0M613.2 378h0M613.2 377h0M613.2 376h0M608.8 374.9h0M612.6 365.3h0M612.5 374.4h0M613.7 374.3h0M614.7 377.3h0M615.4 375.5h0M616.3 371.4h0M616.2 370.7h0M618.5 373.1h0M619.5 376.2h0M629.9 375.8h0M629.9 374.5h0M629.9 373.4h0M629.9 372.3h0M631.1 375.8h0M631.1 374.5h0M631.1 373.3h0M631.1 371.9h0M631.1 370.6h0M631.1 369.7h0M631.1 368.7h0M631.1 367.5h0M631.1 366.2h0M631.9 375.8h0M631.9 374.9h0M631.9 374h0M631.9 370.9h0M629.9 375.8h0M629.9 374.9h0M629.9 371.6h0M629.9 370.5h0M629.9 369.4h0M629.9 368.3h0M629.9 367.4h0M627.4 376.3h0M627.2 375.9h0M628.3 372.1h0M628.8 372.7h0M628.5 375h0M629.3 373.3h0M633.5 371.9h0M633.3 372.3h0M634.7 367.8h0M115.9 376.5h0M115.9 375.5h0M115.9 373.4h0M116.3 376.5h0M116.3 375.5h0M116.3 374.5h0M116.3 373.5h0M116.3 372.5h0M116.3 370h0M116.3 369h0M115.7 376.5h0M115.7 373.2h0M115.7 372.2h0M115.7 371.2h0M115.7 370.2h0M115.7 369.2h0M123.7 376.5h0M123.7 375.5h0M123.7 374.5h0M123.7 373.5h0M123.7 372.5h0M122.3 376.5h0M122.3 375.5h0M122.3 374.5h0M122.3 373.5h0M122.3 372.5h0M122.3 371.5h0M134.3 376.5h0M134.3 375.5h0M134.3 374.5h0M134.3 373.5h0M134.3 372.5h0M134.3 371.5h0M134 376.5h0M134 375.5h0M134 372.7h0M134.4 376.5h0M134.4 375.5h0M134.4 374.5h0M134.1 376.5h0M134.1 374.5h0M142.1 376.5h0M142.1 375.5h0M142.1 374.5h0M142.1 373.5h0M142.1 372.5h0M142.1 371.5h0M149.1 376.5h0M149.1 375.5h0M149.1 374.5h0M149.1 373.5h0M144.3 376.5h0M144.3 375.5h0M141.2 376.5h0M141.2 375.5h0M141.2 374.5h0M149 376.5h0M149 375.5h0M149 374.5h0M149 371h0M148.7 376.5h0M148.7 375.5h0M148.7 374.5h0M148.7 373.5h0M148.7 372.5h0M148.7 371.5h0M148.7 370.5h0M148.7 369.5h0M228.7 376.5h0M228.7 375.5h0M228.7 374.5h0M228.7 373.5h0M228.7 372.5h0M228.7 371.5h0M228.7 370.5h0M228.7 369.5h0M228.7 368.5h0M223.1 376.5h0M223.1 373.3h0M223.1 372.3h0M223.1 371.3h0M223.1 367.8h0M230.3 376.5h0M230.3 375.5h0M230.3 374.5h0M230.3 373.5h0M230.3 372.5h0M230.3 371.5h0M227.9 376.5h0M227.9 375.5h0M227.9 372.2h0M227.9 371.2h0M229.5 376.5h0M229.5 375.5h0M229.5 374.5h0M229.5 373.5h0M229.5 372.5h0M229.5 371.5h0M229.5 370.5h0M220.2 376.5h0M220.2 375.5h0M220.2 374.5h0M220.2 373.5h0M220.2 372.5h0M220.2 371.5h0M220.2 370.5h0M309.9 376.5h0M309.9 375.5h0M309.9 372.8h0M309.3 376.5h0M309.3 375.5h0M309.3 374.5h0M309.3 373.5h0M309.3 371h0M309.3 370h0M299.7 376.5h0M299.7 375.5h0M299.7 374.5h0M299.7 373.5h0M299.7 370.2h0M299.7 369.2h0M310 376.5h0M310 375.5h0M310 374.5h0M310 373.5h0M310 372.5h0M293.1 376.5h0M293.1 375.5h0M293.1 374.5h0M293.1 372.2h0M293.1 371.2h0M293.1 370.2h0M296.5 376.5h0M296.5 373.3h0M296.5 372.3h0M296.5 369.2h0M296.5 368.2h0M296.5 367.2h0M295.3 376.5h0M296 376.5h0M296 375.5h0M296 374.5h0M296 373.5h0M289.5 376.5h0M289.5 373h0M289.5 372h0M289.5 371h0M289.5 370h0M289.5 369h0M289.5 368h0M293.5 376.5h0M293.5 375.5h0M293.5 374.5h0M293.5 373.5h0M293.5 372.5h0M293.5 370.4h0M293.5 369.4h0M293.5 368.4h0M293.5 367.4h0M305.7 376.5h0M305.7 375.5h0M305.7 374.5h0M305.7 373.5h0M305.7 372.5h0M305.7 371.5h0M305.7 370.5h0M305.7 369.5h0M304.7 376.5h0M304.7 375.5h0M304.7 374.5h0M304.7 373.5h0M304.7 370.7h0M304.7 369.7h0M308 376.5h0M308 374.3h0M308 373.3h0M308 370.6h0M308 369.6h0M308 368.6h0M305.1 376.5h0M305.1 375.5h0M305.1 374.5h0M305.1 373.5h0M305.1 372.5h0M305.1 371.5h0M311.7 376.5h0M311.7 375.5h0M311.7 374.5h0M311.7 373.5h0M311.7 372.5h0M311.7 371.5h0M311.7 369.2h0M425.7 376.5h0M425.7 375.5h0M425.7 374.5h0M425.7 373.5h0M425.7 372.5h0M425.7 371.5h0M423.1 376.5h0M423.1 375.5h0M423.1 374.5h0M423.1 373.5h0M423.1 372.5h0M423.1 371.5h0M424.3 376.5h0M424.3 375.5h0M424.3 374.5h0M424.3 373.5h0M424.3 372.5h0M424.8 376.5h0M424.8 375.5h0M424.8 374.5h0M424.8 373.5h0M424.1 376.5h0M424.1 375.5h0M424.1 374.5h0M424.1 371h0M468.4 376.5h0M468.4 374.2h0M468.4 373.2h0M468.4 372.2h0M461.9 376.5h0M461.9 375.5h0M461.9 374.5h0M461.9 373.5h0M465.8 376.5h0M465.8 375.5h0M465.8 374.5h0M465.8 373.5h0M465.8 372.5h0M465.8 371.5h0M465.7 376.5h0M465.7 375.5h0M465.7 374.5h0M465.6 376.5h0M465.6 375.5h0M465.6 374.5h0M470.9 376.5h0M470.9 375.5h0M470.9 374.5h0M470.9 373.5h0M470.9 372.5h0M470.9 371.5h0M472.9 376.5h0M472.9 375.5h0M472.9 374.5h0M472.9 373.5h0M472.9 372.5h0M472.9 371.5h0M463.3 376.5h0M463.3 374.5h0M463.3 373.5h0M463.3 372.5h0M463.3 371.5h0M523.3 376.5h0M523.3 375.5h0M523.3 374.5h0M523.3 373.5h0M523.3 372.5h0M523.3 371.5h0M523.3 370.5h0M532.2 376.5h0M532.2 375.5h0M532.2 374.5h0M532.2 373.5h0M530.1 376.5h0M530.1 375.5h0M530.1 374.5h0M530.1 373.5h0M547.6 376.5h0M547.6 375.5h0M547.6 373.1h0M547.6 372.1h0M544.4 376.5h0M544.4 374.5h0M544.4 373.5h0M544.4 371.2h0M546.8 376.5h0M546.8 375.5h0M588.2 376.5h0M588.2 374.1h0M581.2 376.5h0M581.2 373.6h0M581.2 372.6h0M582.2 376.5h0M582.2 375.5h0M582.2 374.5h0M582.2 373.5h0M582.2 372.5h0M582.9 376.5h0M582.9 375.5h0M582.9 372.9h0M587.5 376.5h0M587.5 375.5h0M587.5 374.5h0M587.5 373.5h0M617.5 376.5h0M617.5 375.5h0M611.1 376.5h0M611.1 375.5h0M611.9 376.5h0M611.9 375.5h0M611.9 374.5h0M289.6 376.5h0M289.6 375.5h0M289.6 374.5h0M288.9 376.5h0M288.9 375.5h0M288.9 374.5h0M285.3 376.5h0M285.3 375.5h0M285.3 374.5h0M283.5 376.5h0M283.5 375.5h0" stroke="#114d8a" stroke-width="2.1" stroke-linecap="round" fill="none"/>
<path d="M110 332.6h0M110 333.6h0M110 334.6h0M110 335.6h0M110 336.6h0M110 337.6h0M110 341.3h0M110 342.3h0M110 343.3h0M110 344.3h0M110 350.7h0M110 351.7h0M110 354.4h0M110 355.4h0M110 356.4h0M110 357.4h0M105.1 343.8h0M105.1 344.8h0M105.1 345.8h0M105.1 346.8h0M105.1 347.8h0M105.1 348.8h0M105.1 351.5h0M105.1 354.1h0M105.1 357h0M105.1 360.8h0M105.1 365.3h0M105.1 366.3h0M105.1 367.3h0M105.1 368.3h0M105.1 369.3h0M105.1 373.1h0M105.1 374.1h0" stroke="#4a78ff" stroke-width="2.2" stroke-linecap="round" fill="none"/>
<path d="M119 343.5h0M119 344.5h0M119 345.5h0M119 349.8h0M119 350.8h0M119 351.8h0M119 352.8h0M119 353.8h0M119 354.8h0M119 361.1h0M119 362.1h0M119 363.1h0M119 364.1h0M119 365.1h0M119 366.1h0M119 367.1h0M119 368.1h0M119 369.1h0M119 370.1h0M119 371.1h0M119 372.1h0M119 373.1h0M119 374.1h0M119 375.1h0M119 376.1h0M129.6 349.8h0M129.6 350.8h0M129.6 351.8h0M129.6 352.8h0M129.6 353.8h0M129.6 354.8h0M129.6 360.8h0M129.6 361.8h0M129.6 362.8h0M129.6 363.8h0M129.6 364.8h0M129.6 365.8h0M129.6 368.8h0M129.6 369.8h0M129.6 370.8h0M129.6 371.8h0M129.6 372.8h0M129.6 373.8h0M146 335.4h0M146 336.4h0M146 340.4h0M146 341.4h0M146 342.4h0M146 346.5h0M146 347.5h0M146 348.5h0M146 349.5h0M146 350.5h0M146 351.5h0M146 352.5h0M146 353.5h0M146 354.5h0M146 355.5h0M146 356.5h0M146 357.5h0M146 358.5h0M146 359.5h0M146 360.5h0M146 361.5h0M146 362.5h0M146 363.5h0M146 364.5h0M146 365.5h0M146 366.5h0M146 367.5h0M146 368.5h0M146 369.5h0M146 370.5h0M146 371.5h0M146 372.5h0M146 373.5h0M146 374.5h0M146 375.5h0M146 376.5h0M309.9 343h0M309.9 344h0M309.9 345h0M309.9 346h0M309.9 347h0M309.9 348h0M309.9 349h0M309.9 353.1h0M309.9 354.1h0M309.9 355.1h0M309.9 362.2h0M309.9 363.2h0M309.9 364.2h0M309.9 365.2h0M309.9 366.2h0M309.9 367.2h0M309.9 368.2h0M309.9 369.2h0M309.9 370.2h0M309.9 371.2h0M309.9 372.2h0M309.9 373.2h0M309.9 374.2h0M309.9 375.2h0M309.9 376.2h0M468.4 332.5h0M468.4 333.5h0M468.4 334.5h0M468.4 335.5h0M468.4 336.5h0M468.4 340.8h0M468.4 345.8h0M468.4 353.2h0M468.4 354.2h0M468.4 355.2h0M468.4 356.2h0M468.4 357.2h0M468.4 358.2h0M468.4 359.2h0M468.4 360.2h0M468.4 361.2h0M468.4 362.2h0M468.4 365.8h0M468.4 368.7h0M468.4 371.6h0M468.4 372.6h0M468.4 375h0M468.4 376h0M526.9 322.1h0M526.9 328.2h0M526.9 329.2h0M526.9 330.2h0M526.9 334.5h0M526.9 337h0M526.9 338h0M526.9 341.9h0M526.9 342.9h0M526.9 350.1h0M526.9 351.1h0M526.9 352.1h0M526.9 353.1h0M526.9 354.1h0M526.9 355.1h0M526.9 356.1h0M526.9 357.1h0M526.9 358.1h0M526.9 359.1h0M526.9 360.1h0M526.9 361.1h0M526.9 362.1h0M526.9 363.1h0M526.9 364.1h0M526.9 365.1h0M526.9 366.1h0M526.9 367.1h0M526.9 368.1h0M526.9 369.1h0M526.9 370.1h0M526.9 371.1h0M526.9 372.1h0M526.9 373.1h0M526.9 374.1h0M526.9 375.1h0M526.9 376.1h0" stroke="#114d8a" stroke-width="2.2" stroke-linecap="round" fill="none"/>
<path d="M194.3 307.3h0M194.3 308.3h0M194.3 309.3h0M194.3 310.3h0M194.3 311.3h0M194.3 312.3h0M194.3 313.3h0M194.3 314.3h0M194.3 315.3h0M194.3 318.2h0M194.3 319.2h0M194.3 320.2h0M194.3 321.2h0M194.3 322.2h0M194.3 323.2h0M194.3 324.2h0M194.3 325.2h0M194.3 326.2h0M194.3 327.2h0M194.3 328.2h0M194.3 329.2h0M194.3 330.2h0M194.3 331.2h0M194.3 332.2h0M194.3 333.2h0M194.3 334.2h0M194.3 335.2h0M194.3 336.2h0M194.3 337.2h0M194.3 338.2h0M194.3 339.2h0M194.3 340.2h0M194.3 341.2h0M194.3 342.2h0M194.3 343.2h0M194.3 344.2h0M194.3 345.2h0M194.3 346.2h0M194.3 347.2h0M194.3 348.2h0M194.3 349.2h0M194.3 350.2h0M194.3 351.2h0M194.3 352.2h0M194.3 353.2h0M194.3 354.2h0M194.3 355.2h0M194.3 356.2h0M194.3 357.2h0M194.3 358.2h0M194.3 359.2h0M194.3 360.2h0M194.3 361.2h0M194.3 362.2h0M194.3 363.2h0M194.3 364.2h0M194.3 365.2h0M194.3 366.2h0M194.3 367.2h0M194.3 368.2h0M194.3 369.2h0M194.3 370.2h0M194.3 371.2h0M194.3 372.2h0M194.3 373.2h0M194.3 374.2h0M194.3 375.2h0M194.3 376.2h0" stroke="#4a78ff" stroke-width="2.3" stroke-linecap="round" fill="none"/>
<path d="M243.7 259.4h0M243.7 260.4h0M243.7 261.4h0M243.7 262.4h0M243.7 265.3h0M243.7 266.3h0M243.7 267.3h0M243.7 268.3h0M243.7 269.3h0M243.7 270.3h0M243.7 272.6h0M243.7 273.6h0M243.7 274.6h0M243.7 275.6h0M243.7 276.6h0M243.7 277.6h0M243.7 280.9h0M243.7 285.3h0M243.7 286.3h0M243.7 287.3h0M243.7 288.3h0M243.7 289.3h0M243.7 290.3h0M243.7 300.8h0M243.7 301.8h0M243.7 304.6h0M243.7 305.6h0M243.7 306.6h0M243.7 307.6h0M243.7 310.4h0M243.7 311.4h0M243.7 312.4h0M243.7 313.4h0M243.7 317.5h0M243.7 318.5h0M243.7 321.1h0M243.7 322.1h0M243.7 323.1h0M243.7 324.1h0M243.7 325.1h0M243.7 326.1h0M243.7 327.1h0M243.7 328.1h0M243.7 329.1h0M243.7 330.1h0M243.7 331.1h0M243.7 332.1h0M243.7 333.1h0M243.7 334.1h0M243.7 337.4h0M243.7 338.4h0M243.7 339.4h0" stroke="#4a78ff" stroke-width="2.1" stroke-linecap="round" fill="none"/>
<path d="M243.7 340.9h0M243.7 341.9h0M243.7 342.9h0M243.7 343.9h0M243.7 344.9h0M243.7 345.9h0M243.7 346.9h0M243.7 347.9h0M243.7 348.9h0M243.7 349.9h0M243.7 350.9h0M243.7 351.9h0M243.7 352.9h0M243.7 353.9h0M243.7 354.9h0M243.7 355.9h0M243.7 356.9h0M243.7 357.9h0M243.7 358.9h0M243.7 359.9h0M243.7 360.9h0M243.7 361.9h0M243.7 362.9h0M243.7 363.9h0M243.7 364.9h0M243.7 365.9h0M243.7 366.9h0M243.7 367.9h0M243.7 368.9h0M243.7 369.9h0M243.7 370.9h0M243.7 371.9h0M243.7 372.9h0M243.7 373.9h0M243.7 374.9h0M243.7 375.9h0" stroke="#4a78ff" stroke-width="2.4" stroke-linecap="round" fill="none"/>
<path d="M225 342.3h0M225 343.3h0M225 344.3h0M225 345.3h0M225 346.3h0M225 347.3h0M225 348.3h0M225 349.3h0M225 350.3h0M225 351.3h0M225 356.6h0M225 360.4h0M225 361.4h0M225 362.4h0M225 363.4h0M225 364.4h0M225 365.4h0M225 366.4h0M225 368.8h0M225 369.8h0M225 370.8h0M225 371.8h0M225 372.8h0M225 373.8h0M225 374.8h0M225 375.8h0M428.3 347.6h0M428.3 348.6h0M428.3 349.6h0M428.3 350.6h0M428.3 351.6h0M428.3 352.6h0M428.3 355.3h0M428.3 358.2h0M428.3 359.2h0M428.3 362.9h0M428.3 363.9h0M428.3 364.9h0M428.3 365.9h0M428.3 366.9h0M428.3 367.9h0M428.3 368.9h0M428.3 369.9h0M428.3 370.9h0M428.3 371.9h0M428.3 372.9h0M428.3 375.9h0M463.6 348.7h0M463.6 349.7h0M463.6 356.7h0M463.6 362.7h0M463.6 365.2h0M463.6 366.2h0M463.6 367.2h0M463.6 368.2h0M463.6 371.9h0M463.6 372.9h0M463.6 376.2h0M549.7 350.9h0M549.7 355h0M549.7 359.4h0M549.7 360.4h0M549.7 361.4h0M549.7 362.4h0M549.7 363.4h0M549.7 367.4h0M549.7 368.4h0M549.7 369.4h0M549.7 370.4h0M549.7 373.8h0M549.7 374.8h0M549.7 375.8h0M614 358.7h0M614 359.7h0M614 360.7h0M614 361.7h0M614 362.7h0M614 363.7h0M614 364.7h0M614 365.7h0M614 366.7h0M614 367.7h0M614 368.7h0M614 369.7h0M614 370.7h0M614 371.7h0M614 372.7h0M614 373.7h0M287 361.1h0M287 362.1h0M287 363.1h0M287 364.1h0M287 365.1h0M287 366.1h0M287 367.1h0M287 368.1h0M287 369.1h0M287 372.5h0M287 373.5h0M287 374.5h0M287 375.5h0" stroke="#114d8a" stroke-width="2" stroke-linecap="round" fill="none"/>
<path d="M305 301.7h0M305 302.7h0M305 303.7h0M305 304.7h0M305 305.7h0M305 306.7h0M305 307.7h0M305 308.7h0M305 309.7h0M305 310.7h0M305 311.7h0M305 312.7h0M305 313.7h0M305 314.7h0M305 315.7h0M305 316.7h0M305 317.7h0M305 318.7h0M305 319.7h0M305 320.7h0M305 321.7h0M305 322.7h0M305 323.7h0M305 324.7h0M305 325.7h0M305 326.7h0M305 327.7h0M305 328.7h0M305 329.7h0M305 333.8h0M305 334.8h0M305 335.8h0M305 336.8h0M305 337.8h0M305 338.8h0M305 339.8h0M305 340.8h0M305 341.8h0M305 342.8h0M305 343.8h0M305 344.8h0M305 345.8h0M305 346.8h0M305 347.8h0M305 348.8h0M305 349.8h0M305 350.8h0M305 351.8h0M305 352.8h0M305 353.8h0M305 354.8h0M305 355.8h0M305 356.8h0M305 357.8h0M305 358.8h0M305 359.8h0M305 360.8h0M305 361.8h0M305 362.8h0M305 363.8h0M305 364.8h0M305 365.8h0M305 366.8h0M305 367.8h0M305 368.8h0M305 369.8h0M305 370.8h0M305 371.8h0M305 372.8h0M305 373.8h0M305 374.8h0M305 375.8h0M291.4 345.9h0M291.4 346.9h0M291.4 347.9h0M291.4 348.9h0M291.4 349.9h0M291.4 353.9h0M291.4 354.9h0M291.4 355.9h0M291.4 356.9h0M291.4 357.9h0M291.4 358.9h0M291.4 359.9h0M291.4 360.9h0M291.4 361.9h0M291.4 362.9h0M291.4 363.9h0M291.4 364.9h0M291.4 368.1h0M291.4 369.1h0M291.4 370.1h0M291.4 371.1h0M291.4 372.1h0M291.4 376.2h0M586 307.8h0M586 316h0M586 322.2h0M586 323.2h0M586 324.2h0M586 325.2h0M586 326.2h0M586 327.2h0M586 328.2h0M586 329.2h0M586 330.2h0M586 331.2h0M586 332.2h0M586 333.2h0M586 334.2h0M586 335.2h0M586 336.2h0M586 337.2h0M586 338.2h0M586 339.2h0M586 340.2h0M586 341.2h0M586 342.2h0M586 343.2h0M586 344.2h0M586 345.2h0M586 346.2h0M586 347.2h0M586 348.2h0M586 349.2h0M586 350.2h0M586 351.2h0M586 352.2h0M586 353.2h0M586 354.2h0M586 355.2h0M586 356.2h0M586 357.2h0M586 358.2h0M586 359.2h0M586 360.2h0M586 361.2h0M586 362.2h0M586 363.2h0M586 364.2h0M586 365.2h0M586 366.2h0M586 367.2h0M586 368.2h0M586 369.2h0M586 370.2h0M586 371.2h0M586 372.2h0M586 373.2h0M586 374.2h0M586 375.2h0M586 376.2h0" stroke="#114d8a" stroke-width="2.4" stroke-linecap="round" fill="none"/>
<path d="M457.6 317.3h0M457.6 318.3h0M457.6 319.3h0M457.6 320.3h0M457.6 321.3h0M457.6 322.3h0M457.6 327.9h0M457.6 328.9h0M457.6 329.9h0M457.6 330.9h0M457.6 331.9h0M457.6 332.9h0M457.6 333.9h0M457.6 334.9h0M457.6 335.9h0M457.6 336.9h0M457.6 337.9h0M457.6 338.9h0M457.6 339.9h0M457.6 340.9h0M457.6 341.9h0M457.6 342.9h0M457.6 346.4h0M457.6 347.4h0M457.6 348.4h0M457.6 349.4h0M457.6 350.4h0M457.6 351.4h0M457.6 352.4h0M457.6 353.4h0M457.6 354.4h0M457.6 355.4h0M457.6 356.4h0M457.6 357.4h0M457.6 358.4h0M457.6 359.4h0M457.6 360.4h0M457.6 361.4h0M457.6 362.4h0M457.6 363.4h0M457.6 364.4h0M457.6 365.4h0M457.6 366.4h0M457.6 367.4h0M457.6 368.4h0M457.6 369.4h0M457.6 370.4h0M457.6 371.4h0M457.6 372.4h0M457.6 373.4h0M457.6 374.4h0M457.6 375.4h0M457.6 376.4h0" stroke="#4a78ff" stroke-width="2.6" stroke-linecap="round" fill="none"/>
<path d="M625 351.7h0M625 352.7h0M625 353.7h0M625 357.5h0M625 358.5h0M625 359.5h0M625 365.7h0M625 366.7h0M625 370h0M625 371h0M625 372h0M625 375h0M625 376h0M596.8 357.9h0M596.8 358.9h0M596.8 359.9h0M596.8 360.9h0M596.8 365.4h0M596.8 366.4h0M596.8 367.4h0M596.8 368.4h0M596.8 369.4h0M596.8 370.4h0M596.8 371.4h0M596.8 372.4h0M596.8 373.4h0M328.5 355.7h0M328.5 356.7h0M328.5 357.7h0M328.5 361.5h0M328.5 362.5h0M328.5 363.5h0M328.5 364.5h0M328.5 365.5h0M328.5 366.5h0M328.5 369.3h0M328.5 370.3h0M328.5 371.3h0M328.5 372.3h0M328.5 373.3h0M328.5 374.3h0M328.5 375.3h0M328.5 376.3h0" stroke="#4a78ff" stroke-width="2" stroke-linecap="round" fill="none"/>
<line x1="42.8" y1="251.1" x2="42.8" y2="429.2" stroke="#9a9a9a" stroke-width="1.4"/>
<line x1="38" y1="263.4" x2="42.5" y2="263.4" stroke="#a8a8a8" stroke-width="1"/>
<text x="33.3" y="266.6" font-size="10" fill="#262626" text-anchor="end" textLength="15.6" lengthAdjust="spacingAndGlyphs">100</text>
<line x1="38" y1="286.8" x2="42.5" y2="286.8" stroke="#a8a8a8" stroke-width="1"/>
<text x="33.3" y="290" font-size="10" fill="#262626" text-anchor="end">50</text>
<line x1="38" y1="310.8" x2="42.5" y2="310.8" stroke="#a8a8a8" stroke-width="1"/>
<text x="33.3" y="314" font-size="10" fill="#262626" text-anchor="end">25</text>
<line x1="38" y1="341.6" x2="42.5" y2="341.6" stroke="#a8a8a8" stroke-width="1"/>
<text x="33.3" y="344.8" font-size="10" fill="#262626" text-anchor="end">10</text>
<line x1="38" y1="364.8" x2="42.5" y2="364.8" stroke="#a8a8a8" stroke-width="1"/>
<text x="33.3" y="368" font-size="10" fill="#262626" text-anchor="end">5</text>
<text transform="translate(8.9 340.7) rotate(-90)" x="0" y="0" font-size="11" fill="#262626" text-anchor="middle" textLength="74" lengthAdjust="spacingAndGlyphs">&#8211;log<tspan font-size="7.5" dy="2.5">10</tspan><tspan dy="-2.5"> (</tspan><tspan font-style="italic">P</tspan> value)</text>
<text x="91.3" y="433.8" font-size="9" fill="#5a86ff" text-anchor="middle">1</text>
<text x="136.4" y="433.8" font-size="9" fill="#2a5a8e" text-anchor="middle">2</text>
<text x="181.9" y="433.8" font-size="9" fill="#5a86ff" text-anchor="middle">3</text>
<text x="220.8" y="433.8" font-size="9" fill="#2a5a8e" text-anchor="middle">4</text>
<text x="261.7" y="433.8" font-size="9" fill="#5a86ff" text-anchor="middle">5</text>
<text x="296.4" y="433.8" font-size="9" fill="#2a5a8e" text-anchor="middle">6</text>
<text x="333.5" y="433.8" font-size="9" fill="#5a86ff" text-anchor="middle">7</text>
<text x="366.4" y="433.8" font-size="9" fill="#2a5a8e" text-anchor="middle">8</text>
<text x="393.4" y="433.8" font-size="9" fill="#5a86ff" text-anchor="middle">9</text>
<text x="418.4" y="433.8" font-size="9" fill="#2a5a8e" text-anchor="middle">10</text>
<text x="446.7" y="433.8" font-size="9" fill="#5a86ff" text-anchor="middle">11</text>
<text x="475" y="433.8" font-size="9" fill="#2a5a8e" text-anchor="middle">12</text>
<text x="500.6" y="433.8" font-size="9" fill="#5a86ff" text-anchor="middle">13</text>
<text x="519.7" y="433.8" font-size="9" fill="#2a5a8e" text-anchor="middle">14</text>
<text x="536.3" y="433.8" font-size="9" fill="#5a86ff" text-anchor="middle">15</text>
<text x="553.5" y="433.8" font-size="9" fill="#2a5a8e" text-anchor="middle">16</text>
<text x="568.9" y="433.8" font-size="9" fill="#5a86ff" text-anchor="middle">17</text>
<text x="585" y="433.8" font-size="9" fill="#2a5a8e" text-anchor="middle">18</text>
<text x="600.6" y="433.8" font-size="9" fill="#5a86ff" text-anchor="middle">19</text>
<text x="612.8" y="433.8" font-size="9" fill="#2a5a8e" text-anchor="middle">20</text>
<text x="623" y="433.8" font-size="9" fill="#5a86ff" text-anchor="middle">21</text>
<text x="632.4" y="433.8" font-size="9" fill="#2a5a8e" text-anchor="middle">22</text>
<text x="644.8" y="433.8" font-size="9" fill="#5a86ff" text-anchor="middle">X</text>
<text x="363.1" y="450.2" font-size="11" fill="#262626" text-anchor="middle" textLength="67.4" lengthAdjust="spacingAndGlyphs">Chromosome</text>
<text x="102.9" y="296.2" font-size="10" fill="#2323e6" text-anchor="start" font-style="italic" textLength="29.7" lengthAdjust="spacingAndGlyphs">MYCN</text>
<text x="121.3" y="310.5" font-size="10" fill="#7a3cae" text-anchor="start" font-style="italic" textLength="28.2" lengthAdjust="spacingAndGlyphs">MEIS1</text>
<text x="159.1" y="301.5" font-size="10" fill="#29aae3" text-anchor="start" font-style="italic" textLength="65.2" lengthAdjust="spacingAndGlyphs">TRIM59,IFT80</text>
<text x="77.4" y="329.3" font-size="10" fill="#29aae3" text-anchor="start" font-style="italic" textLength="28.6" lengthAdjust="spacingAndGlyphs">PARP1</text>
<text x="74.3" y="342.1" font-size="10" fill="#29aae3" text-anchor="start" font-style="italic" textLength="28.6" lengthAdjust="spacingAndGlyphs">RABIF</text>
<text x="132.1" y="330" font-size="10" fill="#29aae3" text-anchor="start" font-style="italic" textLength="59.7" lengthAdjust="spacingAndGlyphs">LY75,CD302</text>
<text x="230.3" y="256.8" font-size="10" fill="#29aae3" text-anchor="start" font-style="italic" textLength="23.1" lengthAdjust="spacingAndGlyphs">TERT</text>
<text x="203.9" y="324.8" font-size="10" fill="#29aae3" text-anchor="start" font-style="italic" textLength="35.8" lengthAdjust="spacingAndGlyphs">CXXC4,</text>
<text x="211.5" y="337.1" font-size="10" fill="#29aae3" text-anchor="start" font-style="italic" textLength="21.4" lengthAdjust="spacingAndGlyphs">TET2</text>
<text x="287" y="295.6" font-size="10" fill="#29aae3" text-anchor="start" font-style="italic" textLength="30.7" lengthAdjust="spacingAndGlyphs">CD164</text>
<text x="256.4" y="326.4" font-size="10" fill="#29aae3" text-anchor="start" font-style="italic" textLength="36.8" lengthAdjust="spacingAndGlyphs">ZNF318,</text>
<text x="254.4" y="338.5" font-size="10" fill="#29aae3" text-anchor="start" font-style="italic" textLength="42.9" lengthAdjust="spacingAndGlyphs">SLC22A7</text>
<text x="308.2" y="337.7" font-size="10" fill="#29aae3" text-anchor="start" font-style="italic" textLength="53.7" lengthAdjust="spacingAndGlyphs">HBS1L,MYB</text>
<text x="414" y="344.2" font-size="10" fill="#29aae3" text-anchor="start" font-style="italic" textLength="22.5" lengthAdjust="spacingAndGlyphs">STN1</text>
<text x="418.6" y="286" font-size="10" fill="#7a3cae" text-anchor="start" font-style="italic" textLength="71.1" lengthAdjust="spacingAndGlyphs">PARP11,CCND2</text>
<text x="438.2" y="314.8" font-size="10" fill="#29aae3" text-anchor="start" font-style="italic" textLength="20.8" lengthAdjust="spacingAndGlyphs">ATM</text>
<text x="465.6" y="329.5" font-size="10" fill="#29aae3" text-anchor="start" font-style="italic" textLength="26.1" lengthAdjust="spacingAndGlyphs">ITPR2</text>
<text x="511.2" y="317.8" font-size="10" fill="#29aae3" text-anchor="start" font-style="italic" textLength="28.6" lengthAdjust="spacingAndGlyphs">TCL1A</text>
<text x="532.5" y="345.5" font-size="10" fill="#2323e6" text-anchor="start" font-style="italic" textLength="36.9" lengthAdjust="spacingAndGlyphs">PDXDC1</text>
<text x="565.8" y="299.7" font-size="10" fill="#29aae3" text-anchor="start" font-style="italic" textLength="33.7" lengthAdjust="spacingAndGlyphs">SETBP1</text>
<text x="611.5" y="345.5" font-size="10" fill="#29aae3" text-anchor="start" font-style="italic" textLength="30.8" lengthAdjust="spacingAndGlyphs">RUNX1</text>
<line x1="118.9" y1="299.9" x2="118.9" y2="334.6" stroke="#3d4a62" stroke-width="1.9"/>
<path d="M118.9 337.6L116 331.3L118.9 333L121.8 331.3z" fill="#3d4a62"/>
<line x1="130.1" y1="315" x2="130.1" y2="341.3" stroke="#3d4a62" stroke-width="1.9"/>
<path d="M130.1 344.3L127.2 338L130.1 339.7L133 338z" fill="#3d4a62"/>
<line x1="463.5" y1="291" x2="463.5" y2="340.8" stroke="#3d4a62" stroke-width="1.9"/>
<path d="M463.5 343.8L460.6 337.5L463.5 339.2L466.4 337.5z" fill="#3d4a62"/>
<text x="-0.3" y="471.9" font-size="15.5" fill="#000" text-anchor="start" font-weight="bold" stroke="#000" stroke-width="0.35">c</text>
<text x="19.3" y="471.2" font-size="12" fill="#262626" textLength="208.8" lengthAdjust="spacingAndGlyphs">Cross-ancestry meta-analysis, <tspan font-style="italic">TET2</tspan>-CH</text>
<line x1="43.3" y1="566.5" x2="683.2" y2="566.5" stroke="#ffb4b4" stroke-width="1.4"/>
<polygon points="70,651 70,597 71,597 71,595.5 72,595.5 72,594.4 73,594.4 73,594.8 74,594.8 74,595 75,595 75,591.1 76,591.1 76,596.5 77,596.5 77,594.9 78,594.9 78,596.7 79,596.7 79,594.2 80,594.2 80,596 81,596 81,590.2 82,590.2 82,595.3 83,595.3 83,595.6 84,595.6 84,593.5 85,593.5 85,596 86,596 86,593.3 87,593.3 87,595.6 88,595.6 88,596.8 89,596.8 89,593.4 90,593.4 90,597.1 91,597.1 91,595.8 92,595.8 92,596.4 93,596.4 93,597.5 94,597.5 94,597 95,597 95,597.2 96,597.2 96,597.4 97,597.4 97,596.8 98,596.8 98,595.9 99,595.9 99,596.1 100,596.1 100,596.9 101,596.9 101,593.6 102,593.6 102,596.1 103,596.1 103,594.2 104,594.2 104,593.8 105,593.8 105,595.7 106,595.7 106,593.9 107,593.9 107,593.7 108,593.7 108,596.3 109,596.3 109,591.4 110,591.4 110,595.6 111,595.6 111,595.2 112,595.2 112,592.3 113,592.3 113,595.5 114,595.5 114,597 114.1,597 114.1,651" fill="#4a78ff"/>
<polygon points="160.9,651 160.9,597 161,597 161,595.5 162,595.5 162,592.9 163,592.9 163,592.1 164,592.1 164,593.4 165,593.4 165,594.1 166,594.1 166,593.7 167,593.7 167,594.2 168,594.2 168,590.3 169,590.3 169,594.1 170,594.1 170,593.1 171,593.1 171,594 172,594 172,592.7 173,592.7 173,594.6 174,594.6 174,593.5 175,593.5 175,591.9 176,591.9 176,593.1 177,593.1 177,595.4 178,595.4 178,595.8 179,595.8 179,594.3 180,594.3 180,591 181,591 181,592.5 182,592.5 182,592.9 183,592.9 183,593.4 184,593.4 184,592.9 185,592.9 185,594.4 186,594.4 186,594 187,594 187,594.4 188,594.4 188,590.8 189,590.8 189,594 190,594 190,593.7 191,593.7 191,592.1 192,592.1 192,594.4 193,594.4 193,594.4 194,594.4 194,594.3 195,594.3 195,594.7 196,594.7 196,595.4 197,595.4 197,595.8 198,595.8 198,593.8 199,593.8 199,595.5 200,595.5 200,597 201,597 201,651" fill="#4a78ff"/>
<polygon points="242.1,651 242.1,597 243,597 243,595.5 244,595.5 244,593.7 245,593.7 245,592.3 246,592.3 246,593.9 247,593.9 247,594.5 248,594.5 248,595.1 249,595.1 249,594.8 250,594.8 250,594 251,594 251,593.1 252,593.1 252,594.5 253,594.5 253,595.5 254,595.5 254,594.7 255,594.7 255,594.9 256,594.9 256,594.7 257,594.7 257,590.5 258,590.5 258,594.4 259,594.4 259,594.9 260,594.9 260,595 261,595 261,594.7 262,594.7 262,592.6 263,592.6 263,594.7 264,594.7 264,594.8 265,594.8 265,594.9 266,594.9 266,594.8 267,594.8 267,593 268,593 268,595.2 269,595.2 269,594.8 270,594.8 270,595.8 271,595.8 271,594.4 272,594.4 272,594.9 273,594.9 273,594.1 274,594.1 274,593.2 275,593.2 275,593.4 276,593.4 276,590.7 277,590.7 277,595.5 278,595.5 278,597 278.1,597 278.1,651" fill="#4a78ff"/>
<polygon points="316.8,651 316.8,597 317,597 317,595.5 318,595.5 318,593.9 319,593.9 319,594.4 320,594.4 320,593.8 321,593.8 321,594 322,594 322,588.2 323,588.2 323,591.1 324,591.1 324,592.3 325,592.3 325,594.5 326,594.5 326,595.4 327,595.4 327,593.8 328,593.8 328,594.9 329,594.9 329,593.4 330,593.4 330,593.1 331,593.1 331,594.5 332,594.5 332,593.6 333,593.6 333,593.7 334,593.7 334,593 335,593 335,594.4 336,594.4 336,594 337,594 337,591.9 338,591.9 338,596 339,596 339,596.2 340,596.2 340,593.7 341,593.7 341,595.4 342,595.4 342,592.7 343,592.7 343,590.4 344,590.4 344,594.1 345,594.1 345,594.1 346,594.1 346,592.6 347,592.6 347,594 348,594 348,593.9 349,593.9 349,595.5 350,595.5 350,597 350.1,597 350.1,651" fill="#4a78ff"/>
<polygon points="381.1,651 381.1,597 382,597 382,595.5 383,595.5 383,593.5 384,593.5 384,590.8 385,590.8 385,590 386,590 386,588.6 387,588.6 387,590.6 388,590.6 388,591.1 389,591.1 389,592.4 390,592.4 390,592.2 391,592.2 391,593.9 392,593.9 392,592.7 393,592.7 393,595 394,595 394,595 395,595 395,594.2 396,594.2 396,594.1 397,594.1 397,590.6 398,590.6 398,591.8 399,591.8 399,593.3 400,593.3 400,593.1 401,593.1 401,593.8 402,593.8 402,593.5 403,593.5 403,595.5 404,595.5 404,597 405,597 405,651" fill="#4a78ff"/>
<polygon points="433.8,651 433.8,597 434,597 434,595.5 435,595.5 435,593.9 436,593.9 436,593.6 437,593.6 437,591.8 438,591.8 438,585.8 439,585.8 439,590.9 440,590.9 440,592.4 441,592.4 441,593 442,593 442,593.2 443,593.2 443,590.3 444,590.3 444,594.8 445,594.8 445,592.7 446,592.7 446,593 447,593 447,593.9 448,593.9 448,593.5 449,593.5 449,593.6 450,593.6 450,592.6 451,592.6 451,590.5 452,590.5 452,591.3 453,591.3 453,592 454,592 454,592 455,592 455,592.9 456,592.9 456,592.3 457,592.3 457,592.9 458,592.9 458,592.7 459,592.7 459,595.5 460,595.5 460,595.5 461,595.5 461,597 461.9,597 461.9,651" fill="#4a78ff"/>
<polygon points="489.2,651 489.2,597 490,597 490,595.5 491,595.5 491,594.7 492,594.7 492,596.1 493,596.1 493,592.6 494,592.6 494,594.3 495,594.3 495,595.8 496,595.8 496,595.4 497,595.4 497,597 498,597 498,595.6 499,595.6 499,595.9 500,595.9 500,594.6 501,594.6 501,594.6 502,594.6 502,594 503,594 503,592.5 504,592.5 504,593.4 505,593.4 505,591.5 506,591.5 506,591.8 507,591.8 507,593.9 508,593.9 508,595.5 509,595.5 509,597 509.8,597 509.8,651" fill="#4a78ff"/>
<polygon points="528,651 528,597 529,597 529,595.5 530,595.5 530,590 531,590 531,588.9 532,588.9 532,593.5 533,593.5 533,592.1 534,592.1 534,592.5 535,592.5 535,594.2 536,594.2 536,594.4 537,594.4 537,590 538,590 538,589.8 539,589.8 539,590.4 540,590.4 540,591 541,591 541,592.1 542,592.1 542,593.9 543,593.9 543,595.5 544,595.5 544,597 544.8,597 544.8,651" fill="#4a78ff"/>
<polygon points="561.4,651 561.4,597 562,597 562,595.5 563,595.5 563,592.1 564,592.1 564,593.4 565,593.4 565,594.1 566,594.1 566,594.3 567,594.3 567,595.6 568,595.6 568,595 569,595 569,594.5 570,594.5 570,595.3 571,595.3 571,592.3 572,592.3 572,595.5 573,595.5 573,595.7 574,595.7 574,596.3 575,596.3 575,595.5 576,595.5 576,597 577,597 577,651" fill="#4a78ff"/>
<polygon points="593.2,651 593.2,597 594,597 594,595.5 595,595.5 595,595.1 596,595.1 596,593 597,593 597,595.3 598,595.3 598,593.7 599,593.7 599,593.6 600,593.6 600,595.6 601,595.6 601,595.4 602,595.4 602,595.3 603,595.3 603,594.4 604,594.4 604,590.3 605,590.3 605,593 606,593 606,595.5 607,595.5 607,597 607.1,597 607.1,651" fill="#4a78ff"/>
<polygon points="619.2,651 619.2,597 620,597 620,595.5 621,595.5 621,592.8 622,592.8 622,594 623,594 623,593 624,593 624,590.3 625,590.3 625,595.5 626,595.5 626,597 627,597 627,651" fill="#4a78ff"/>
<polygon points="634.9,651 634.9,597 635,597 635,595.5 636,595.5 636,596.7 637,596.7 637,595.6 638,595.6 638,595.7 639,595.7 639,596.3 640,596.3 640,595.5 641,595.5 641,595 642,595 642,595.9 643,595.9 643,590.3 644,590.3 644,589.5 645,589.5 645,590.5 646,590.5 646,595.8 647,595.8 647,595.1 648,595.1 648,596.4 649,596.4 649,594.8 650,594.8 650,593.6 651,593.6 651,592.3 652,592.3 652,592.7 653,592.7 653,593 654,593 654,595.5 655,595.5 655,597 655.5,597 655.5,651" fill="#4a78ff"/>
<polygon points="114.1,651 114.1,597 115,597 115,595.5 116,595.5 116,594.1 117,594.1 117,595.1 118,595.1 118,593.7 119,593.7 119,593.8 120,593.8 120,592.3 121,592.3 121,593.7 122,593.7 122,592.8 123,592.8 123,595.1 124,595.1 124,594.4 125,594.4 125,593.6 126,593.6 126,594.5 127,594.5 127,593.7 128,593.7 128,594.6 129,594.6 129,595.9 130,595.9 130,594.5 131,594.5 131,594.6 132,594.6 132,592.6 133,592.6 133,596.9 134,596.9 134,593.4 135,593.4 135,594.9 136,594.9 136,595.5 137,595.5 137,595.2 138,595.2 138,593.4 139,593.4 139,592.6 140,592.6 140,593.7 141,593.7 141,593.5 142,593.5 142,593.7 143,593.7 143,595.2 144,595.2 144,594.9 145,594.9 145,594.9 146,594.9 146,592.9 147,592.9 147,595.5 148,595.5 148,595.2 149,595.2 149,596.1 150,596.1 150,595.8 151,595.8 151,594.5 152,594.5 152,595.1 153,595.1 153,595.3 154,595.3 154,589 155,589 155,591.1 156,591.1 156,595.7 157,595.7 157,594.3 158,594.3 158,594.7 159,594.7 159,595.5 160,595.5 160,597 160.9,597 160.9,651" fill="#114d8a"/>
<polygon points="201,651 201,597 202,597 202,595.5 203,595.5 203,592.4 204,592.4 204,594.3 205,594.3 205,593.6 206,593.6 206,596 207,596 207,595.7 208,595.7 208,595.4 209,595.4 209,595.6 210,595.6 210,594.3 211,594.3 211,593.4 212,593.4 212,592.2 213,592.2 213,592.7 214,592.7 214,589.1 215,589.1 215,593.6 216,593.6 216,593.7 217,593.7 217,592.8 218,592.8 218,593.9 219,593.9 219,593.6 220,593.6 220,593.9 221,593.9 221,591.8 222,591.8 222,592.6 223,592.6 223,591 224,591 224,593.6 225,593.6 225,591.6 226,591.6 226,594.4 227,594.4 227,595.2 228,595.2 228,595.5 229,595.5 229,592.2 230,592.2 230,595.3 231,595.3 231,593.7 232,593.7 232,594 233,594 233,594.1 234,594.1 234,595.1 235,595.1 235,594.4 236,594.4 236,593.1 237,593.1 237,593.7 238,593.7 238,594.9 239,594.9 239,594.3 240,594.3 240,593.6 241,593.6 241,595.5 242,595.5 242,597 242.1,597 242.1,651" fill="#114d8a"/>
<polygon points="278.1,651 278.1,597 279,597 279,595.5 280,595.5 280,594.1 281,594.1 281,593.7 282,593.7 282,594.1 283,594.1 283,596.4 284,596.4 284,593 285,593 285,596.3 286,596.3 286,595.1 287,595.1 287,593.8 288,593.8 288,590.6 289,590.6 289,594.6 290,594.6 290,593.2 291,593.2 291,592.4 292,592.4 292,591.9 293,591.9 293,592.9 294,592.9 294,593 295,593 295,593.7 296,593.7 296,592.5 297,592.5 297,594.8 298,594.8 298,594.3 299,594.3 299,593.7 300,593.7 300,589.6 301,589.6 301,593.8 302,593.8 302,593.5 303,593.5 303,595.2 304,595.2 304,592.6 305,592.6 305,594.3 306,594.3 306,593.7 307,593.7 307,592.6 308,592.6 308,594.1 309,594.1 309,594.4 310,594.4 310,593 311,593 311,594 312,594 312,593.8 313,593.8 313,593.3 314,593.3 314,593.4 315,593.4 315,595.5 316,595.5 316,597 316.8,597 316.8,651" fill="#114d8a"/>
<polygon points="350.1,651 350.1,597 351,597 351,595.5 352,595.5 352,594 353,594 353,594 354,594 354,592.8 355,592.8 355,594.2 356,594.2 356,592 357,592 357,595.1 358,595.1 358,593.3 359,593.3 359,596.1 360,596.1 360,596.1 361,596.1 361,593.7 362,593.7 362,595.8 363,595.8 363,593.2 364,593.2 364,592.8 365,592.8 365,593.6 366,593.6 366,593 367,593 367,593.7 368,593.7 368,594.1 369,594.1 369,592.5 370,592.5 370,595.4 371,595.4 371,592.8 372,592.8 372,592.9 373,592.9 373,594.4 374,594.4 374,594.5 375,594.5 375,594.6 376,594.6 376,597 377,597 377,596.6 378,596.6 378,596.6 379,596.6 379,594 380,594 380,595.5 381,595.5 381,597 381.1,597 381.1,651" fill="#114d8a"/>
<polygon points="405,651 405,597 406,597 406,595.5 407,595.5 407,591.1 408,591.1 408,592.5 409,592.5 409,592.4 410,592.4 410,591.5 411,591.5 411,592.8 412,592.8 412,590.7 413,590.7 413,591.1 414,591.1 414,593.2 415,593.2 415,588.7 416,588.7 416,591.3 417,591.3 417,590.8 418,590.8 418,594.6 419,594.6 419,594 420,594 420,593 421,593 421,590.8 422,590.8 422,592.9 423,592.9 423,594.1 424,594.1 424,592.9 425,592.9 425,594.2 426,594.2 426,593.7 427,593.7 427,595.3 428,595.3 428,594.5 429,594.5 429,594.2 430,594.2 430,594 431,594 431,593.1 432,593.1 432,595.5 433,595.5 433,597 433.8,597 433.8,651" fill="#114d8a"/>
<polygon points="461.9,651 461.9,597 462,597 462,595.5 463,595.5 463,593.8 464,593.8 464,593.8 465,593.8 465,594.9 466,594.9 466,593.2 467,593.2 467,593.3 468,593.3 468,594.8 469,594.8 469,595.7 470,595.7 470,596.1 471,596.1 471,595.6 472,595.6 472,596.5 473,596.5 473,593.2 474,593.2 474,590.9 475,590.9 475,595.4 476,595.4 476,594 477,594 477,594.4 478,594.4 478,595.5 479,595.5 479,596 480,596 480,594.6 481,594.6 481,595.7 482,595.7 482,594.3 483,594.3 483,594.7 484,594.7 484,594.7 485,594.7 485,593.7 486,593.7 486,594.6 487,594.6 487,595.4 488,595.4 488,595.5 489,595.5 489,597 489.2,597 489.2,651" fill="#114d8a"/>
<polygon points="509.8,651 509.8,597 510,597 510,595.5 511,595.5 511,595.4 512,595.4 512,594.4 513,594.4 513,595 514,595 514,593.7 515,593.7 515,593.6 516,593.6 516,592.5 517,592.5 517,591.1 518,591.1 518,590.2 519,590.2 519,593.9 520,593.9 520,592.4 521,592.4 521,594.2 522,594.2 522,593 523,593 523,594.8 524,594.8 524,594.1 525,594.1 525,591.6 526,591.6 526,595.5 527,595.5 527,597 528,597 528,651" fill="#114d8a"/>
<polygon points="544.8,651 544.8,597 545,597 545,595.5 546,595.5 546,595 547,595 547,592.6 548,592.6 548,594.3 549,594.3 549,594.6 550,594.6 550,594.6 551,594.6 551,593.5 552,593.5 552,593 553,593 553,593.7 554,593.7 554,593.4 555,593.4 555,594.2 556,594.2 556,593.6 557,593.6 557,592 558,592 558,595.1 559,595.1 559,594.4 560,594.4 560,595.5 561,595.5 561,597 561.4,597 561.4,651" fill="#114d8a"/>
<polygon points="577,651 577,597 578,597 578,595.5 579,595.5 579,595 580,595 580,589.6 581,589.6 581,595.5 582,595.5 582,595.8 583,595.8 583,595.9 584,595.9 584,595.3 585,595.3 585,594.1 586,594.1 586,594.7 587,594.7 587,594.3 588,594.3 588,594.3 589,594.3 589,594.6 590,594.6 590,593.9 591,593.9 591,594.1 592,594.1 592,595.5 593,595.5 593,597 593.2,597 593.2,651" fill="#114d8a"/>
<polygon points="607.1,651 607.1,597 608,597 608,595.5 609,595.5 609,594.7 610,594.7 610,590.1 611,590.1 611,592.3 612,592.3 612,594.8 613,594.8 613,593.8 614,593.8 614,593.1 615,593.1 615,594.3 616,594.3 616,595.1 617,595.1 617,594.1 618,594.1 618,595.5 619,595.5 619,597 619.2,597 619.2,651" fill="#114d8a"/>
<polygon points="627,651 627,597 628,597 628,595.5 629,595.5 629,594.3 630,594.3 630,593.2 631,593.2 631,593.5 632,593.5 632,590 633,590 633,595.5 634,595.5 634,597 634.9,597 634.9,651" fill="#114d8a"/>
<path d="M71.5 598h0M74.5 598.6h0M75.5 597h0M78.5 602.5h0M79.5 598.4h0M81.5 591.8h0M85.5 598.1h0M87.5 598.9h0M88.5 602.3h0M90.5 601.5h0M92.5 601.3h0M93.5 604.5h0M94.5 601.2h0M96.5 604.2h0M97.5 601.9h0M98.5 602.1h0M101.5 598.7h0M102.5 598.1h0M106.5 597h0M107.5 595.6h0M108.5 603.3h0M109.5 596.5h0M114.5 600.2h0M117.5 600h0M132.5 596.1h0M133.5 598.9h0M137.5 599.6h0M143.5 598.4h0M144.5 600.1h0M145.5 599.3h0M146.5 598.2h0M148.5 599h0M149.5 599.9h0M150.5 601.1h0M156.5 597.4h0M158.5 596.3h0M159.5 599.3h0M160.5 602.1h0M160.5 600.7h0M161.5 601h0M164.5 598h0M166.5 599.5h0M167.5 597.1h0M168.5 595.9h0M169.5 598.7h0M174.5 595.2h0M177.5 598.1h0M178.5 597.5h0M179.5 598.8h0M181.5 599.4h0M183.5 597.4h0M184.5 596.4h0M187.5 600.5h0M188.5 593.5h0M192.5 600h0M194.5 598.3h0M198.5 600.4h0M200.5 603h0M205.5 599.9h0M207.5 597.5h0M208.5 598.4h0M209.5 600.2h0M212.5 597.4h0M218.5 597h0M219.5 595.5h0M220.5 596.2h0M222.5 595.7h0M223.5 593.5h0M225.5 594.1h0M226.5 601h0M227.5 598.3h0M229.5 594.4h0M231.5 596.8h0M233.5 599h0M235.5 598.6h0M239.5 599.1h0M243.5 601.7h0M245.5 595.1h0M246.5 598.4h0M248.5 600.7h0M249.5 600h0M251.5 596.6h0M255.5 596.5h0M258.5 600h0M260.5 600.1h0M261.5 599.5h0M266.5 597.4h0M267.5 599.7h0M275.5 595.5h0M276.5 593.7h0M277.5 597.1h0M278.5 602.4h0M279.5 597.6h0M280.5 598.8h0M282.5 597h0M286.5 597.1h0M295.5 598.4h0M297.5 598.5h0M300.5 592.8h0M305.5 597.6h0M306.5 596.6h0M307.5 597.5h0M309.5 600h0M310.5 598.7h0M311.5 599.4h0M312.5 596.1h0M316.5 603.5h0M316.5 599.7h0M317.5 602.3h0M322.5 592.7h0M323.5 594h0M325.5 601h0M326.5 601.4h0M330.5 597.6h0M331.5 598.1h0M332.5 597.1h0M333.5 599.1h0M335.5 596.9h0M336.5 600.1h0M338.5 598.3h0M340.5 598.5h0M342.5 599.6h0M347.5 595.7h0M350.5 600.5h0M350.5 598.5h0M352.5 599.8h0M355.5 600h0M358.5 599.2h0M360.5 599.9h0M361.5 598.2h0M363.5 599.2h0M365.5 596.6h0M368.5 598.2h0M369.5 595.2h0M370.5 601.8h0M374.5 596.7h0M375.5 597.1h0M376.5 598.7h0M378.5 599.4h0M379.5 599h0M381.5 599.4h0M383.5 597h0M384.5 595.8h0M385.5 593.7h0M387.5 592.1h0M389.5 594.6h0M390.5 596.8h0M391.5 595.7h0M393.5 601.7h0M396.5 600.5h0M397.5 595.5h0M400.5 599.9h0M402.5 600h0M404.5 602.4h0M408.5 599h0M412.5 596.1h0M414.5 595.7h0M415.5 594.3h0M418.5 598.7h0M420.5 598h0M421.5 593.3h0M422.5 598.6h0M423.5 601h0M426.5 596.2h0M427.5 601.3h0M428.5 599.9h0M429.5 598.2h0M430.5 600.6h0M431.5 599h0M433.5 600.4h0M434.5 598h0M435.5 598.2h0M437.5 598.6h0M439.5 594.9h0M441.5 597.4h0M442.5 594.7h0M446.5 598.8h0M454.5 595h0M457.5 596.9h0M459.5 597.6h0M461.5 598.8h0M463.5 595.9h0M475.5 597.2h0M479.5 597.8h0M480.5 599.7h0M482.5 597.3h0M483.5 601.1h0M487.5 601h0M488.5 601.3h0M489.5 602.2h0M490.5 599.7h0M492.5 598.3h0M493.5 599.5h0M494.5 600.8h0M496.5 599.1h0M500.5 599.7h0M504.5 598.2h0M505.5 595.3h0M508.5 597h0M509.5 600.7h0M510.5 599.4h0M511.5 597.3h0M514.5 596.2h0M516.5 595.4h0M517.5 594.9h0M519.5 596.2h0M521.5 596.7h0M523.5 601.6h0M524.5 597.3h0M525.5 595.3h0M528.5 600.9h0M530.5 596.2h0M531.5 595.3h0M533.5 594.9h0M534.5 594.8h0M535.5 596.6h0M537.5 592.7h0M539.5 593.7h0M542.5 598.2h0M549.5 599h0M553.5 600.3h0M554.5 597.7h0M555.5 598.7h0M556.5 599.8h0M561.5 600.6h0M562.5 600h0M564.5 598.6h0M565.5 595.8h0M566.5 598.8h0M569.5 599.8h0M570.5 600.4h0M571.5 599.3h0M573.5 598.8h0M575.5 598.4h0M577.5 601.7h0M581.5 599.1h0M587.5 599.4h0M589.5 599.6h0M591.5 597.5h0M592.5 600.3h0M594.5 601.3h0M600.5 598.1h0M601.5 601.5h0M603.5 598.1h0M607.5 599.1h0M608.5 599.9h0M609.5 599.2h0M610.5 592.3h0M612.5 597.5h0M618.5 601.8h0M619.5 603.4h0M619.5 602h0M623.5 599.2h0M624.5 596.6h0M627.5 599.4h0M628.5 599.7h0M629.5 598.6h0M630.5 599.9h0M632.5 592.3h0M634.5 600.4h0M638.5 600.7h0M639.5 597.9h0M640.5 601.7h0M642.5 597.5h0M648.5 600h0M649.5 601.7h0M652.5 595.2h0M653.5 599.6h0M654.5 601.9h0" stroke="#ffffff" stroke-width="1.1" stroke-linecap="round" fill="none"/>
<path d="M94.2 597.5h0M94.2 596.5h0M94.2 595.2h0M94.2 594.4h0M94.2 593.5h0M87.4 596.1h0M87.4 595.1h0M87.4 594.2h0M87.4 592.9h0M87.4 591.6h0M87.4 590.3h0M104.6 594.3h0M104.6 593.3h0M104.6 592.4h0M104.6 591.2h0M87.7 596.1h0M87.7 595h0M87.7 593.8h0M108.9 596.8h0M108.9 595.8h0M108.9 594.7h0M108.9 593.8h0M107.1 594.2h0M107.1 592.9h0M79.3 594.7h0M79.3 593.9h0M79.3 590.9h0M79.3 590h0M79.3 588.9h0M79.3 587.7h0M79.3 586.7h0M79.3 585.6h0M79.3 584.5h0M79.3 583.4h0M110.2 596.1h0M110.2 594.9h0M110.2 593.7h0M110.2 592.5h0M110.2 591.3h0M110.2 590.3h0M103.2 594.7h0M103.2 593.4h0M87.8 596.1h0M87.8 592.3h0M77.8 595.4h0M77.8 594.4h0M77.8 593.2h0M77.8 592.1h0M77.8 590.9h0M77.8 587.3h0M77.8 586.2h0M77.8 585.2h0M77.8 584.3h0M77.8 583.4h0M77.8 582.1h0M77.8 581.2h0M77.8 579.8h0M77.8 578.8h0M77.8 577.6h0M77.8 576.4h0M77.8 575.4h0M77.8 574.2h0M85.7 596.5h0M85.7 595.6h0M85.7 591.8h0M85.7 590.9h0M85.7 590h0M85.7 588.9h0M85.7 588h0M85.7 586.9h0M108.1 596.8h0M108.1 595.9h0M108.1 594.6h0M108.1 593.7h0M108.1 592.7h0M108.1 591.9h0M108.1 590.5h0M92.4 596.9h0M92.4 594.3h0M92.4 593.2h0M92.4 591.9h0M92.4 590.7h0M92.4 589.7h0M92.4 588.3h0M92.4 584.9h0M92.4 584h0M85.4 596.5h0M85.4 595.6h0M85.4 594.8h0M100.9 597.4h0M100.9 596.2h0M100.9 595.3h0M100.9 594.2h0M88.8 597.3h0M88.8 596.4h0M88.8 595.4h0M88.8 594.2h0M99.9 596.6h0M99.9 595.6h0M99.9 594.4h0M99.9 593.4h0M75.8 591.6h0M75.8 590.5h0M75.8 589.2h0M110 591.9h0M110 590.8h0M110 589.7h0M110 588.6h0M110 587.6h0M110 586.8h0M84.3 594h0M84.3 593.2h0M84.3 589.3h0M84.3 588.3h0M103.3 594.7h0M103.3 593.3h0M103.3 592.4h0M103.3 589.2h0M103.3 588h0M87 596.1h0M87 594.8h0M87 593.9h0M87 592.8h0M87 591.4h0M78.6 597.2h0M78.6 596h0M78.6 594.7h0M78.6 593.5h0M78.6 591.2h0M78.6 588.8h0M72.4 590.3h0M73.4 591h0M74.8 586.4h0M76.7 594.8h0M80.4 594.8h0M84.3 580.6h0M84.4 587.4h0M85.8 588.4h0M85.5 593.5h0M86.3 578.1h0M87.4 590.3h0M87.7 590.8h0M89.7 590.5h0M89.4 587.2h0M90.3 592.1h0M97.6 586.6h0M100.8 585.1h0M101.5 591.6h0M101.3 588.3h0M103.2 590.8h0M103.5 586.6h0M103.3 591.5h0M105.3 592.6h0M109.3 582.8h0M110.7 591.8h0M172.3 593.2h0M172.3 592.2h0M172.3 591.2h0M197.2 596.3h0M197.2 595.2h0M197.2 594.1h0M197.2 592.8h0M197.2 591.9h0M197 596.3h0M197 595.4h0M197 594.4h0M197 593.6h0M166.8 594.2h0M166.8 593.1h0M166.8 591.8h0M193.9 594.9h0M193.9 592.7h0M193.9 591.5h0M193.9 590.2h0M193.9 589h0M193.9 588.2h0M193.9 586.9h0M193.9 583.9h0M193.9 582.6h0M193.9 581.7h0M168 594.7h0M168 593.8h0M168 592.4h0M168 591.6h0M168 590.4h0M187.9 594.9h0M187.9 593.6h0M187.9 592.3h0M169.6 594.6h0M169.6 590.7h0M169.6 589.7h0M169.6 588.3h0M189.5 594.5h0M189.5 593.5h0M189.5 590.7h0M189.5 589.7h0M189.5 588.7h0M189.5 587.3h0M189.5 584h0M189.5 583.2h0M189.5 581.9h0M189.5 580.8h0M189.5 580h0M189.5 578.7h0M189.5 577.5h0M189.5 576.6h0M175 594h0M175 593h0M175 591.9h0M175 590.5h0M175 587.6h0M175 586.7h0M175 585.9h0M175 584.5h0M175 583.3h0M175 582.1h0M175 580.9h0M175 579.8h0M175 579h0M187.7 594.9h0M187.7 593.5h0M187.7 592.7h0M164.3 593.9h0M164.3 592.6h0M164.3 591.5h0M164.3 590.6h0M164.3 589.3h0M164.3 588.5h0M164.3 584.9h0M164.3 584h0M164.3 582.7h0M164.3 581.8h0M196.6 595.9h0M196.6 593.2h0M196.6 591.9h0M196.6 590.9h0M173 593.2h0M173 592.1h0M173 591.1h0M173 590.2h0M173 589.2h0M173 588h0M173 586.9h0M173 585.5h0M188.3 591.3h0M188.3 590.3h0M188.3 589.4h0M188.3 588.4h0M186.9 594.5h0M186.9 593.5h0M186.9 592.3h0M186.9 590.9h0M183.5 593.9h0M183.5 592.8h0M183.5 590.4h0M183.5 589.4h0M164 593.9h0M164 590.1h0M187.5 594.9h0M187.5 594h0M187.5 593.2h0M192.8 594.9h0M192.8 591.8h0M192.8 590.9h0M192.8 589.8h0M192.8 588.8h0M192.8 587.6h0M192.8 585h0M192.8 584h0M192.8 581.6h0M192.8 580.4h0M192.8 579.5h0M192.8 578.5h0M192.8 577.6h0M192.8 575.3h0M192.8 574.5h0M178.2 596.3h0M178.2 595.4h0M178.2 594.4h0M178.2 593.6h0M178.2 592.4h0M192.7 594.9h0M192.7 593.8h0M192.7 592.4h0M192.7 589.7h0M161.4 589.5h0M161.5 593.4h0M162.6 591.6h0M164.7 581.9h0M167.6 586.3h0M167.3 590.1h0M168.7 577.5h0M168.5 585.6h0M171.5 586.8h0M172.6 586.4h0M177.3 590.1h0M181.3 590.6h0M181.8 590.6h0M182.2 581.3h0M182.2 588.8h0M186.3 587.1h0M187.4 581.2h0M187.6 588.6h0M188.4 583.5h0M190.4 579h0M190.2 583h0M193.6 592.8h0M194.7 582.4h0M194.5 590.9h0M196.7 592.1h0M197.4 593.5h0M200.6 585.3h0M266.7 595.3h0M266.7 594.1h0M266.7 593.1h0M266.7 592.1h0M266.1 595.3h0M266.1 594.1h0M266.1 593.3h0M266.1 592.4h0M266.1 591.3h0M266.1 590.4h0M266.1 589.5h0M273.7 594.6h0M273.7 593.5h0M273.7 592.6h0M273.7 591.2h0M273.7 590h0M273.7 588.8h0M273.7 587.4h0M273.7 586.1h0M273.7 585.2h0M273.7 584.1h0M273.7 582.9h0M273.7 581.8h0M273.7 581h0M268 593.5h0M268 592.3h0M268 591.4h0M268 588.2h0M268 587h0M268 584.8h0M272.1 595.4h0M272.1 594.4h0M272.1 593.6h0M272.1 592.7h0M272.1 591.9h0M262.3 593.1h0M262.3 589.2h0M271.2 594.9h0M271.2 594h0M271.2 592.6h0M271.2 589.2h0M271.2 588.1h0M271.2 587.2h0M256.7 595.2h0M256.7 594.3h0M256.7 591h0M256.7 589.9h0M256.7 586.9h0M256.7 585.9h0M265.5 595.4h0M265.5 594.5h0M265.5 593.2h0M265.5 592h0M268.6 595.7h0M268.6 594.6h0M268.6 591.5h0M268.6 590.3h0M247.9 595h0M247.9 593.9h0M247.9 592.8h0M247.9 592h0M247.9 590.9h0M247.9 589.8h0M247.9 589h0M247.9 587.9h0M247.9 585.4h0M247.9 584.2h0M265.2 595.4h0M265.2 594.2h0M265.2 593.4h0M253.2 596h0M253.2 594.7h0M253.2 593.9h0M253.2 593.1h0M268.6 595.7h0M268.6 594.5h0M268.6 593.2h0M268.6 592.3h0M246.7 594.4h0M246.7 593.4h0M246.7 592.3h0M246.7 591.2h0M246.7 588.2h0M246.7 586.8h0M246.7 585.9h0M246.2 594.4h0M246.2 593.2h0M246.2 592.2h0M255.1 595.4h0M255.1 594.3h0M255.1 593.4h0M255.1 592.3h0M255.3 595.4h0M255.3 594h0M255.3 593h0M245.4 592.8h0M245.4 591.9h0M245.4 591.1h0M245.4 590.1h0M244.2 589.5h0M245.5 583.4h0M250.6 585.9h0M251.6 579.5h0M251.5 592h0M251.5 577.4h0M252.6 584.4h0M253.4 593.9h0M254.7 576.9h0M254.3 588.6h0M259.7 592.5h0M259.6 586.8h0M263.7 592.9h0M263.7 589.5h0M266.7 593.6h0M270.3 591.9h0M270.3 593h0M271.7 593h0M271.7 589.1h0M273.5 592.7h0M274.6 585.8h0M277.5 594h0M335.3 594.9h0M335.3 593.8h0M335.3 592.5h0M335.3 591.3h0M335.3 590.4h0M335.3 589.4h0M335.3 588.5h0M335.3 587.2h0M338.2 596.5h0M320.7 594.3h0M320.7 593.2h0M320.1 594.3h0M320.1 593.2h0M320.1 592.1h0M320.1 591.3h0M320.1 590.2h0M323.4 591.6h0M323.4 590.4h0M323.4 589.2h0M323.4 588.4h0M323.4 587.6h0M323.4 586.4h0M323.4 585.6h0M323.4 584.4h0M323.4 582h0M329.5 593.9h0M329.5 592.7h0M329.5 591.9h0M335.1 594.9h0M335.1 594.1h0M335.1 591.1h0M335.1 589.9h0M335.1 588.6h0M335.1 587.6h0M335.1 586.4h0M323.4 591.6h0M323.4 590.7h0M323.4 589.5h0M323.4 588.6h0M323.4 587.7h0M323.4 586.9h0M330 593.9h0M330 592.8h0M330 591.9h0M330 590.6h0M323 588.7h0M323 586h0M323 583.4h0M323 582.4h0M339.6 596.7h0M339.6 595.6h0M339.6 594.4h0M344.7 594.6h0M344.7 593.2h0M344.7 592.4h0M344.7 591.6h0M344.7 590.4h0M344.7 589.2h0M344.7 588.4h0M344.7 587.3h0M332.5 594.1h0M332.5 592.7h0M342.9 593.2h0M342.9 592.1h0M342.9 590.7h0M342.9 589.6h0M342.9 588.2h0M342.9 587.2h0M342.9 586.1h0M342.9 584.8h0M322.9 588.7h0M322.9 587.7h0M322.9 586.7h0M322.9 585.9h0M322.9 584.5h0M322.9 583.3h0M322.9 582.3h0M322.9 581.5h0M322.9 580.5h0M322.9 579.6h0M322.9 578.3h0M322.9 575.7h0M322.9 574.9h0M344.5 594.6h0M344.5 593.4h0M344.5 592.6h0M340.2 594.2h0M340.2 593.4h0M340.2 592.3h0M320.3 594.3h0M320.3 593h0M320.3 591.6h0M320.3 590.3h0M320.3 588.9h0M320.3 588.1h0M320.3 586.8h0M316.2 595.6h0M316.5 585.7h0M318.6 592.5h0M320.6 588.7h0M320.6 585.3h0M321.4 591.7h0M325.7 586.3h0M327.6 590.3h0M328.3 590.4h0M328.4 588.2h0M328.3 585.5h0M328.4 588.4h0M328.7 584.7h0M330.6 582.4h0M332.7 584.7h0M333.6 591.9h0M335.6 593.1h0M337.7 589.4h0M338.2 591.7h0M339.6 591h0M339.2 591.5h0M340.5 575.3h0M341.6 588.4h0M341.3 592.6h0M341.4 592h0M341.7 590.6h0M342.3 587.4h0M344.7 591.9h0M345.5 581.4h0M346.7 589.4h0M347.6 581.3h0M350.4 582.8h0M350.2 594.8h0M400.2 593.6h0M400.2 592.4h0M400.2 591.2h0M400.2 590.2h0M386.4 589.1h0M386.4 587.9h0M386.4 586.7h0M400.7 593.6h0M400.7 592.2h0M400.7 590.8h0M400.7 589.5h0M400.7 585.7h0M400.7 584.7h0M400.7 583.8h0M400.7 582.5h0M402.4 594h0M402.4 593h0M402.4 591.7h0M402.4 590.7h0M402.4 589.3h0M402.4 588.1h0M402.4 587.2h0M396.6 594.6h0M396.6 593.3h0M396.6 592.1h0M396.6 591.2h0M396.6 589.9h0M396.6 588.9h0M396.6 587.5h0M396.6 586.3h0M396.6 585.5h0M396.6 584.2h0M396.6 583.3h0M392.1 593.2h0M392.1 592.4h0M392.1 589.5h0M399.6 593.8h0M399.6 592.7h0M399.6 591.4h0M399.6 590.5h0M399.6 589.6h0M399.6 588.6h0M399.6 587.3h0M395.6 594.7h0M395.6 593.5h0M395.6 592.5h0M395.6 591.2h0M395.6 589.9h0M395.6 588.8h0M401.9 594.3h0M401.9 593.4h0M401.9 592h0M401.9 590.7h0M401.9 589.4h0M401.9 588.1h0M401.9 587.3h0M401.9 586.3h0M401.9 583.5h0M401.9 582.3h0M401.9 581.4h0M401.9 580h0M395.6 594.7h0M392.2 593.2h0M392.2 591.8h0M392.2 590.7h0M392.2 589.8h0M383.7 594h0M383.7 592.9h0M383.7 590h0M383.7 589.1h0M383.7 588.1h0M383.7 586.8h0M384.6 591.3h0M384.6 590.3h0M384.6 589.4h0M384.6 588.6h0M384.6 587.6h0M384.6 586.5h0M384.6 585.4h0M384.6 584.1h0M385.7 588.9h0M389.2 590.3h0M390.4 590.8h0M392.5 590.9h0M392.4 589.3h0M393.5 581h0M394.6 582.8h0M396.5 589.3h0M398.6 588.7h0M399.6 589.8h0M399.2 589h0M400.6 587.9h0M402.4 571.7h0M404.3 584.7h0M446.2 593.5h0M446.2 592.2h0M446.2 589.4h0M446.2 586h0M446.2 584.7h0M452.8 591.8h0M452.8 590.9h0M452.8 590h0M449.2 594.1h0M449.2 593.1h0M449.2 591.8h0M449.2 591h0M449.2 590.1h0M449.2 588.7h0M449.2 587.8h0M449.2 586.7h0M452.3 591.8h0M452.3 588.9h0M439.5 591.4h0M439.5 590.1h0M439.5 586.8h0M439.5 585.8h0M439.5 584.9h0M439.5 583.8h0M439.5 581.5h0M439.5 580.5h0M439.5 579.4h0M439.5 578.1h0M439.5 574.2h0M438.4 586.3h0M438.4 585.4h0M438.4 584.5h0M438.4 583.7h0M438.4 582.6h0M438.4 581.8h0M437.5 592.3h0M437.5 590.9h0M437.5 589.5h0M437.5 588.2h0M437.5 587.1h0M443.8 590.8h0M436.8 594.1h0M436.8 592.9h0M436.8 592.1h0M436.8 591h0M436.8 590h0M436.8 588.7h0M436.8 587.5h0M436.8 586.4h0M451.3 591h0M453.1 592.5h0M453.1 591.3h0M453.1 590.4h0M453.1 589.2h0M453.1 588.2h0M454.2 592.5h0M454.2 589.1h0M454.2 587.8h0M454.2 586.8h0M454.2 585.9h0M454.2 584.6h0M445.6 593.2h0M445.6 592h0M445.6 590.6h0M445.6 589.6h0M445.6 588.6h0M445.6 587.5h0M445.6 586.2h0M445.6 585h0M445.6 584h0M455.8 593.4h0M455.8 592.6h0M455.8 589.3h0M455.8 588.3h0M450.2 593.1h0M450.2 592h0M450.2 590.7h0M450.2 589.5h0M433.6 593.5h0M434.5 593.8h0M440.4 589.9h0M440.4 587.8h0M442.6 588.6h0M442.3 590.9h0M451.3 584.7h0M452.2 588.2h0M454.5 588.4h0M455.5 588.8h0M457.7 587.7h0M458.6 589.5h0M460.5 588.5h0M495.5 596.3h0M495.5 595.4h0M495.5 594.3h0M495.5 593.2h0M495.5 592.3h0M494.8 594.8h0M494.8 594h0M494.8 592.7h0M494.8 591.3h0M494.8 590.1h0M494.8 589.1h0M506 592h0M506 590.8h0M506 589.9h0M499.3 596.4h0M499.3 595.3h0M501.5 595.1h0M501.5 593.8h0M501.5 593h0M501.5 592.1h0M501.5 591.1h0M501.5 590h0M501.5 586.2h0M501.5 585.3h0M501.5 584.5h0M501.5 583.3h0M494.2 594.8h0M494.2 593.7h0M494.2 592.6h0M505.9 592h0M505.9 591h0M505.9 589.8h0M505.9 588.5h0M505.9 587.6h0M505.9 586.4h0M494.8 594.8h0M494.8 593.7h0M494.8 590.9h0M494.8 589.8h0M506.3 592.3h0M506.3 591.5h0M506.3 589.3h0M506.3 587.9h0M507.2 594.4h0M507.2 593.2h0M507.2 592h0M507.2 590.9h0M507.2 589.7h0M507.2 588.4h0M495.6 596.3h0M495.6 595h0M495.6 594.1h0M495.6 592.8h0M495.6 591.8h0M495.6 590.9h0M495.6 589.9h0M495.6 588.8h0M491.5 590.2h0M492.3 594.6h0M493.8 579.4h0M494.6 589.2h0M498.3 589h0M498.5 590.3h0M498.2 591.9h0M501.4 587.1h0M502.7 578.9h0M503.3 585.5h0M505.5 584.6h0M505.6 580.1h0M508.3 594.5h0M509.8 595.8h0M509.8 592.8h0M542.2 594.4h0M531.8 589.4h0M531.8 586.3h0M531.8 585.1h0M531.8 582.3h0M531.8 581.3h0M531.8 578.6h0M531.8 577.8h0M531.8 576.9h0M531.8 575.8h0M531.8 574.9h0M531.8 574h0M531.8 573.1h0M531.8 571.8h0M541.4 592.6h0M541.4 591.3h0M541.4 590.1h0M541.4 589.3h0M541.4 588.4h0M534.7 593h0M534.7 591.7h0M534.7 590.6h0M534.7 589.4h0M534.7 588.2h0M534.7 585.5h0M534.7 584.5h0M534.7 583.6h0M534.2 593h0M534.2 591.9h0M534.2 588.3h0M534.2 587.3h0M534.2 586.1h0M534.2 584.8h0M534.2 583.8h0M541.5 592.6h0M541.5 591.2h0M541.5 592.6h0M541.5 589.8h0M541.5 588.7h0M541.5 587.9h0M541.5 586.9h0M541.5 586.1h0M541.5 585.2h0M541.5 583.9h0M541.5 582.8h0M539.5 590.9h0M539.5 589.8h0M539.5 588.7h0M539.5 587.7h0M539.5 586.7h0M532.2 594h0M532.2 592.8h0M532.2 591.7h0M528.2 593.1h0M528.3 595.7h0M532.4 586.8h0M534.6 589.4h0M534.4 589.3h0M534.7 588.2h0M539.4 588.7h0M539.4 577.1h0M541.6 590.9h0M541.2 578.1h0M541.7 590.7h0M542.4 589.2h0M542.6 591.9h0M543.7 593.7h0M544.8 592h0M569.1 595h0M569.1 593.8h0M569.1 592.7h0M569.1 591.4h0M569.1 590.4h0M569.1 589h0M569.1 587.8h0M572.5 596h0M572.5 594.9h0M572.5 593.6h0M572.5 592.5h0M572.5 591.3h0M572.5 590.2h0M567.6 596.1h0M567.6 594.9h0M567.6 594h0M567.6 592.9h0M570.1 595.8h0M570.1 594.8h0M570.1 593.5h0M570.1 592.6h0M566.9 594.8h0M566.9 593.9h0M566.9 593.1h0M566.9 590.8h0M566.9 589.9h0M566.9 589h0M566.9 587.6h0M570.8 595.8h0M570.8 594.8h0M570.8 593.5h0M569.3 595h0M569.3 594.2h0M569.3 592.8h0M565 593.9h0M565 592.9h0M565 591.7h0M565 590.8h0M565 589.5h0M565 588.1h0M565 586.8h0M565 585.8h0M565 582.1h0M565 578.7h0M565 575.2h0M565 574h0M565 573.1h0M561.5 580.8h0M562.3 593.4h0M564.5 589.7h0M565.5 579.3h0M567.6 593.5h0M568.3 588.3h0M569.6 589.5h0M570.5 589.5h0M571.3 586.3h0M571.6 580.1h0M571.8 580h0M572.5 584.2h0M573.6 589.3h0M573.5 580.8h0M574.6 593.5h0M598.8 594.2h0M598.8 593h0M598.8 589.9h0M598.8 588.8h0M598.8 587.6h0M600.3 596.1h0M600.3 595.2h0M600.3 594.1h0M600.3 592.8h0M600.3 591.7h0M598.4 594.2h0M598.4 592.9h0M598.4 591.9h0M598.4 591.1h0M599 594.2h0M599 592.8h0M599 591.8h0M599 590.6h0M602.2 595.8h0M602.2 595h0M602.2 594.1h0M602.2 593h0M602.2 592h0M602.2 590.7h0M602.2 589.4h0M602.2 588h0M597.8 595.8h0M597.8 595h0M597.8 594.1h0M597.8 593.2h0M597.8 591.9h0M597.8 591h0M597.8 589.9h0M597.8 586.2h0M597.6 595.8h0M597.6 594.8h0M597.6 593.4h0M597.6 592.1h0M593.5 595.2h0M595.7 577.3h0M595.4 587.2h0M597.5 594.1h0M600.6 591.7h0M602.6 590.4h0M605.5 589.4h0M605.7 588.3h0M607.7 595h0M623.2 593.5h0M623.2 592.4h0M623.2 591.6h0M623.2 590.4h0M623.2 587.6h0M622.5 594.5h0M622.5 593.4h0M622.5 592.5h0M622.5 591.3h0M622.5 587.7h0M622.5 586.8h0M622.5 585.9h0M622.5 585.1h0M622.5 582.7h0M622 593.3h0M622 592.4h0M622 588.6h0M622 587.6h0M622 586.5h0M622 585.6h0M622 584.4h0M622 583.4h0M622 580.4h0M622 579.3h0M622 578h0M622 576.7h0M622 573.6h0M622 572.7h0M621.8 593.3h0M621.8 591h0M621.8 590.1h0M622.4 580.7h0M622.7 586.3h0M623.4 589.6h0M625.3 592.8h0M651.3 592.8h0M651.3 591.8h0M651.3 590.6h0M651.3 589.2h0M646.1 596.3h0M646.1 594.9h0M646.1 593.7h0M641.4 595.5h0M641.4 594.5h0M641.4 593.4h0M641.4 592.5h0M639 596.8h0M639 595.6h0M648.1 596.9h0M648.1 595.8h0M648.1 594.9h0M648.1 594.1h0M648.1 592.9h0M648.1 592h0M643.6 590.8h0M643.6 589.5h0M643.6 588.6h0M643.6 587.5h0M643.6 586.1h0M643.6 584.7h0M643.6 583.5h0M643.6 580.1h0M643.6 579.2h0M643.6 577.8h0M643.6 576.6h0M643.6 575.4h0M643.6 574h0M642 595.5h0M642 594.3h0M642 593.4h0M642 592.4h0M643.1 590.8h0M643.1 589.6h0M640.8 596h0M640.8 594.9h0M640.8 593.6h0M649.8 595.3h0M649.8 594.2h0M649.8 593h0M640.9 596h0M640.9 594.8h0M640.9 593.9h0M640.9 592.9h0M640.9 591.6h0M640.9 589.3h0M634.7 595.3h0M637.5 582.5h0M637.4 594.4h0M640.4 578.1h0M644.6 587.1h0M644.4 587.6h0M646.2 582.9h0M646.7 594.4h0M647.5 589.7h0M647.3 591.3h0M648.6 595.4h0M649.7 586.9h0M649.5 587.5h0M649.4 591.6h0M651.5 590h0M651.3 589.7h0M652.7 581.8h0M162.6 595h0M162.6 594h0M162.6 593h0M162.6 592h0M162.6 591h0M164.1 595h0M164.1 594h0M164.1 593h0M164.1 592h0M164.1 591h0M166.4 595h0M166.4 594h0M166.4 591.5h0M166.4 590.5h0M185.7 595h0M185.7 594h0M185.7 593h0M192.1 595h0M192.1 594h0M182.4 595h0M182.4 594h0M189.3 595h0M189.3 594h0M189.3 593h0M183.8 595h0M183.3 595h0M183.3 594h0M183.3 593h0M188.6 595h0M188.6 592.6h0M196.1 595h0M196.1 594h0M191 595h0M248.1 595h0M239.5 595h0M245.6 595h0M240.6 595h0M239.7 595h0M239.1 595h0M246.7 595h0M246.7 594h0M246.7 593h0M246.7 592h0M246.7 591h0M241.2 595h0M241.2 594h0M241.2 593h0M241.2 592h0M241.2 591h0M241.2 590h0M241.2 589h0M241.2 588h0M241.4 595h0M241.4 594h0M241.4 593h0M241.4 592h0M241.4 591h0M241.4 590h0M241.4 589h0M241.4 588h0M241.4 585.9h0M241.4 584.9h0M241.4 583.9h0M455.9 595h0M455.9 594h0M455.9 593h0M455.9 589.8h0M461.3 595h0M461.3 594h0M461.3 592h0M461.3 591h0M453.9 595h0M453.9 594h0M453.9 593h0M453.9 592h0M453.9 591h0M453.9 590h0M453.9 589h0M453.9 588h0M460.4 595h0M460.4 594h0M460.4 593h0M460.4 592h0M460.4 591h0M460.4 590h0M460.4 587.9h0M460.4 586.9h0M460.4 585.9h0M460.4 584.9h0M536.8 595h0M536.8 594h0M536.8 593h0M539.8 595h0M539.8 594h0M539.8 593h0M539.8 592h0M539.8 591h0M530.1 595h0M530.1 594h0M530.1 592h0M539 595h0M539 594h0M539 593h0M539 592h0M539 591h0M538.6 595h0M538.6 594h0M538.6 593h0M561.7 595h0M561.7 594h0M561.7 590.7h0M561.7 589.7h0M567.8 595h0M567.8 594h0M567.8 591.3h0M567.8 590.3h0M569.6 595h0M569.6 594h0M569.6 593h0M569.6 592h0M569.6 591h0M569.6 590h0M569.6 589h0M185 572.4h0M188 572.4h0M177 580h0M569.3 576h0M93.3 569.9h0M88 573h0M83.5 576.5h0M95.5 578h0M88 577.5h0" stroke="#4a78ff" stroke-width="2.1" stroke-linecap="round" fill="none"/>
<path d="M125.5 594.1h0M125.5 593.2h0M125.5 592.3h0M125.5 591h0M125.5 590.1h0M129 595.1h0M129 594h0M129 592.7h0M116.7 594.6h0M116.7 593.4h0M132.7 593.1h0M132.7 591.9h0M130.6 595h0M130.6 593.8h0M130.6 592.6h0M130.6 591.3h0M130.6 588.8h0M130.6 587.8h0M130.6 586.6h0M130.6 585.8h0M130.6 584.5h0M116.9 594.6h0M116.9 593.4h0M116.9 589.6h0M116.9 587.1h0M116.9 586.1h0M142.6 594.2h0M142.6 593.3h0M142.6 592.1h0M142.6 590.9h0M142.6 589.9h0M142.6 588.7h0M123.6 595.6h0M123.6 594.5h0M123.6 593.5h0M119 594.3h0M119 592.9h0M119 591.6h0M119 590.5h0M119 589.1h0M119 588.1h0M119 586.9h0M119 583.5h0M119 580.6h0M119 579.5h0M119 578.3h0M119 575.5h0M151.1 595h0M151.1 593.7h0M120.3 592.8h0M120.3 591.9h0M136.4 596h0M136.4 595h0M136.4 594h0M157.1 594.8h0M157.1 593.7h0M157.1 592.8h0M129.2 596.4h0M129.2 595.2h0M129.2 594.4h0M129.2 593.1h0M129.2 591.7h0M129.2 590.4h0M129.2 587.4h0M129.2 586.3h0M129.2 582.7h0M129.2 581.8h0M131.7 595.1h0M131.7 594.1h0M131.7 593.1h0M131.7 592.2h0M131.7 591.1h0M131.7 590.1h0M131.7 586.4h0M153.4 595.8h0M153.4 594.5h0M153.4 593.4h0M153.4 592.1h0M152.7 595.6h0M152.7 594.4h0M152.7 592.1h0M152.7 591.2h0M152.7 590h0M137.1 595.7h0M137.1 594.5h0M120.2 592.8h0M120.2 592h0M120.2 590.8h0M120.2 590h0M120.2 589.1h0M120.2 588.3h0M142.5 594.2h0M142.5 593h0M142.5 591.8h0M136.7 596h0M136.7 594.9h0M136.7 593.9h0M136.7 592.9h0M151.3 595h0M151.3 593.9h0M151.3 592.6h0M151.3 591.7h0M151.3 590.7h0M151.3 589.6h0M151.3 588.5h0M153.5 595.8h0M153.5 594.9h0M153.5 593.7h0M153.5 592.5h0M153.5 591.4h0M139.2 593.1h0M139.2 591.9h0M139.2 590.5h0M139.2 589.6h0M139.2 588.6h0M139.2 587.6h0M139.2 586.8h0M139.2 585.8h0M134 593.9h0M134 592.6h0M134 591.4h0M134 590.3h0M134 589.4h0M134 588.5h0M134 587.3h0M134 585.9h0M134 584.7h0M134 583.7h0M115.6 592.2h0M116.5 592.9h0M117.2 593.6h0M117.5 593.5h0M119.5 585.8h0M121.6 591.8h0M121.6 590.5h0M124.7 590.2h0M125.2 591.2h0M125.3 591.4h0M125.6 581.7h0M126.5 583.2h0M127.5 591.4h0M127.5 591.9h0M128.6 587.1h0M128.6 584.7h0M129.6 593.8h0M130.8 590.4h0M130.5 584.7h0M131.8 589.8h0M131.6 588.3h0M133.3 590.4h0M136.3 591.4h0M138.5 587.7h0M140.3 581.2h0M142.5 591.7h0M143.7 588.6h0M143.7 592h0M144.8 589.7h0M144.3 593.4h0M145.7 589h0M146.3 571.7h0M147.3 588.4h0M148.7 593h0M149.5 593.6h0M149.7 590.5h0M151.4 584h0M152.2 593.5h0M153.8 593.3h0M153.5 587.5h0M154.7 586.6h0M155.3 588.8h0M155.5 580.3h0M158.6 591.9h0M159.5 593.7h0M160.7 593.1h0M227.8 595.7h0M227.8 594.4h0M229.2 592.7h0M229.2 591.7h0M229.2 590.6h0M217.4 593.3h0M217.4 592.3h0M217.4 591.4h0M217.4 590.2h0M226.2 594.9h0M226.2 593.7h0M226.2 592.4h0M226.2 591.1h0M226.2 590.2h0M216.9 594.2h0M232.1 594.5h0M232.1 593.4h0M232.1 592.3h0M232.1 591.4h0M232.1 590.1h0M230.2 595.8h0M230.2 592.9h0M236.7 593.6h0M236.7 592.3h0M236.7 591.3h0M213.1 593.2h0M213.1 592.2h0M213.1 590.8h0M235.8 594.9h0M235.8 594h0M235.8 593.1h0M235.8 592h0M235.8 589.6h0M235.8 588.8h0M235.8 587.5h0M235.8 586.3h0M214 589.6h0M214 588.5h0M214 587.5h0M214 583.7h0M223.5 591.5h0M223.5 590.5h0M223.5 589.4h0M224.1 594.1h0M224.1 591.3h0M224.1 590.5h0M203.8 592.9h0M203.8 591.7h0M203.8 590.7h0M203.8 589.9h0M203.8 588.5h0M203.8 587.6h0M203.8 586.6h0M203.8 585.4h0M203.8 584.5h0M203.8 583.3h0M219.1 594.1h0M219.1 593.2h0M219.1 589.8h0M219.1 589h0M219.1 587.7h0M223.2 591.5h0M223.2 590.5h0M223.2 589.5h0M223.2 588.5h0M223.2 587.2h0M223.2 586h0M223.2 585.2h0M223.2 583.8h0M223.2 582.8h0M204.1 594.8h0M204.1 594h0M204.1 592.9h0M238.7 595.4h0M238.7 594.5h0M238.7 591.9h0M238.7 590.6h0M238.7 589.6h0M238.7 587.1h0M238.7 586.1h0M238.7 584.9h0M223.1 591.5h0M223.1 590.1h0M231.6 594.2h0M231.6 593.4h0M231.6 592.4h0M231.6 591h0M227.2 595.7h0M227.2 594.9h0M227.2 591.5h0M227.2 590.3h0M227.2 589.4h0M227.2 588.1h0M227.2 586.9h0M227.2 585.8h0M227.2 584.6h0M227.2 583.3h0M227.2 582.3h0M237.3 594.2h0M237.3 592.9h0M237.3 591.5h0M237.3 590.6h0M203.6 589.9h0M206.3 594.4h0M206.3 594.2h0M207.4 590.2h0M207.6 590.7h0M207.6 592.9h0M208.8 589.3h0M209.5 593.6h0M211.6 591.1h0M215.8 591h0M215.4 588.4h0M216.5 592.4h0M217.7 583.9h0M218.6 585.1h0M218.5 591.9h0M221.3 590.6h0M222.4 591.5h0M223.7 581.1h0M223.4 587.4h0M223.5 585.7h0M224.7 589.8h0M225.2 589.6h0M227.5 590.3h0M227.6 591.5h0M229.6 587.2h0M229.4 585.2h0M231.7 592.2h0M231.4 592.2h0M238.4 583.3h0M241.5 592.1h0M241.7 591h0M242.4 595.9h0M310.7 593.5h0M310.7 592.2h0M310.7 591.2h0M310.7 590.1h0M300.5 590.1h0M300.5 588.8h0M301 590.1h0M301 588.8h0M308.2 594.6h0M308.2 593.6h0M308.2 592.5h0M308.2 591.2h0M305.7 594.8h0M305.7 593.7h0M305.7 592.6h0M305.7 591.2h0M305.7 590h0M305.7 588.8h0M305.7 587.9h0M305.7 586.9h0M305.7 585.6h0M289.8 595.1h0M289.8 593.9h0M282.7 594.6h0M282.7 593.5h0M282.7 592.3h0M307.8 593.1h0M307.8 592.1h0M307.8 591.1h0M307.8 590h0M307.8 588.7h0M307.8 585.3h0M310.7 593.5h0M289.1 595.1h0M289.1 593.7h0M289.1 592.7h0M289.1 591.6h0M289.1 590.2h0M289.1 589.2h0M289.1 587.8h0M289.1 586.7h0M289.1 585.5h0M283 594.6h0M283 593.3h0M283 590.6h0M283 589.4h0M283 588.3h0M283 587.3h0M283 586.1h0M300.9 590.1h0M300.9 588.8h0M300.9 588h0M300.9 587h0M300.9 585.7h0M307.2 593.1h0M307.2 592.2h0M307.2 591.3h0M305.4 594.8h0M305.4 593.8h0M305.4 591.3h0M305.4 590.4h0M295.8 594.2h0M295.8 592.8h0M295.8 591.7h0M295.8 590.6h0M302.1 594h0M311.2 594.5h0M311.2 593.5h0M311.2 592.2h0M311.2 590.8h0M313.6 593.8h0M313.6 592.5h0M281 594.6h0M281 593.2h0M281 592.4h0M281 591.4h0M281 590h0M292.5 592.4h0M292.5 589.3h0M292.5 588.4h0M292.5 587.5h0M295.9 594.2h0M295.9 593.3h0M295.9 592.2h0M280.6 590.2h0M281.3 575h0M282.6 590.1h0M283.4 589.1h0M285.3 591h0M286.4 583.7h0M286.5 593h0M287.2 591.9h0M287.7 592.6h0M289.4 584.8h0M291.8 590.5h0M292.5 590.2h0M292.3 587.3h0M292.7 589.9h0M294.6 583.3h0M295.5 590.8h0M296.7 590.5h0M298.4 592.6h0M300.7 581.8h0M300.2 587.7h0M302.4 588.2h0M302.7 589.9h0M303.3 593.7h0M305.4 591.9h0M305.3 589.3h0M306.7 591.8h0M307.4 586.3h0M307.4 588.4h0M313.7 587.5h0M314.8 585.6h0M316.4 595.4h0M356.9 592.5h0M356.9 591.2h0M356.9 590.4h0M355.9 594.7h0M355.9 593.5h0M355.9 592.7h0M366.6 593.5h0M366.6 591h0M362.6 596.3h0M362.6 595.2h0M362.6 593.9h0M362.6 592.6h0M362.6 591.7h0M365.2 594.1h0M365.2 592.8h0M365.2 588.9h0M365.2 587.7h0M365.2 586.6h0M352.9 594.5h0M352.9 593.2h0M352.9 592.1h0M370.2 595.9h0M370.2 594.8h0M370.2 593.7h0M370.2 592.8h0M370.2 592h0M370.2 591.1h0M370.2 589.8h0M370.5 595.9h0M370.5 594.7h0M370.5 593.4h0M370.5 592.1h0M377.9 597.1h0M377.9 596.2h0M377.9 594.9h0M377.9 592.6h0M377.9 590h0M377.9 587.5h0M369.8 593h0M369.8 591.9h0M369.8 589.7h0M369.8 588.7h0M369.8 587.5h0M373 594.9h0M373 593.7h0M377.2 597.1h0M377.2 594.2h0M377.2 592.9h0M356.3 592.5h0M356.3 591.5h0M377.9 597.1h0M377.9 595.8h0M377.9 594.8h0M377.9 593.6h0M371.1 593.3h0M371.1 592h0M371.1 590.8h0M365.9 594.1h0M365.9 593.3h0M365.9 592.4h0M365.9 591.1h0M363.5 593.7h0M363.5 592.8h0M363.5 589.1h0M350.7 595.3h0M352.4 589.4h0M356.6 585.7h0M358.4 588.6h0M358.6 582.6h0M359.4 591.6h0M360.8 590.7h0M362.6 593.8h0M363.4 588.5h0M363.4 588.8h0M363.8 578.3h0M363.2 582.9h0M368.5 588.4h0M369.6 585.6h0M375.4 590.9h0M377.4 594.5h0M377.5 593.3h0M377.7 591.3h0M377.4 593.8h0M377.4 588.7h0M380.6 590.3h0M380.3 592.9h0M408.5 593h0M408.5 592.2h0M408.5 591.1h0M408.5 589.7h0M417.3 591.3h0M417.3 590.1h0M417.3 588.9h0M418.8 595.1h0M418.8 593.8h0M418.8 592.6h0M424.4 593.4h0M424.4 592.3h0M424.4 591.3h0M426.9 594.2h0M426.9 592.9h0M426.9 592.1h0M426.9 591.3h0M426.9 590.3h0M426.9 589.3h0M426.9 588h0M426.9 587.1h0M426.9 586.3h0M426.9 584.9h0M426.9 583.9h0M426.9 582.6h0M426.9 579.6h0M408.8 593h0M408.8 591.7h0M408.8 590.7h0M408.8 589.4h0M408.8 588.3h0M408.8 586.9h0M408.8 585.6h0M416.7 591.8h0M416.7 590.6h0M422 593.4h0M422 592.5h0M422 590.1h0M422 589.2h0M414.8 593.7h0M414.8 592.6h0M418.7 595.1h0M418.7 594.3h0M418.7 593.2h0M427.6 595.8h0M427.6 594.7h0M427.6 593.5h0M427.6 592.6h0M427.6 591.4h0M423.7 594.6h0M423.7 593.3h0M423.7 592.1h0M423.7 591h0M423.7 589.6h0M414.7 593.7h0M414.7 592.5h0M414.7 591.5h0M409 592.9h0M409 589.4h0M421.6 591.3h0M421.6 590.4h0M421.6 589.1h0M421.6 587.8h0M405.6 594.1h0M406.7 593.1h0M407.3 585.6h0M409.5 587.5h0M411.8 579.5h0M412.7 586.2h0M412.5 586.2h0M412.5 589.5h0M417.3 583.5h0M418.5 587.2h0M418.6 589.7h0M420.8 587.8h0M421.8 582.9h0M421.2 584.8h0M422.5 591.3h0M425.2 590h0M425.8 591.4h0M425.5 591.2h0M425.6 591.2h0M426.4 592.1h0M427.4 587.4h0M433.3 589h0M468.7 595.3h0M468.7 594h0M468.7 592.8h0M468.7 591.6h0M483 594.8h0M483 593.7h0M483 592.9h0M483 591.6h0M483 590.3h0M483 589.4h0M483 588h0M480.8 595.1h0M480.8 593.9h0M480.8 593.1h0M480.8 592.3h0M480.8 591.1h0M480.8 590h0M469.6 596.2h0M469.6 595.4h0M480.4 595.1h0M480.4 594.2h0M480.4 593h0M480.4 591.6h0M467.6 593.8h0M467.6 592.7h0M486.1 595.1h0M486.1 594.3h0M486.1 593.2h0M485.8 594.2h0M485.8 593.2h0M485.8 591.9h0M477.2 594.9h0M477.2 593.6h0M477.2 592.4h0M477.2 591.4h0M483.4 595.2h0M483.4 594.4h0M483.4 593.2h0M469.8 596.2h0M469.8 595h0M469.8 591.9h0M469.8 590.8h0M469.2 596.2h0M469.2 595.2h0M469.2 594h0M469.2 593.1h0M481.6 596.2h0M481.6 593.2h0M484.6 595.2h0M484.6 593h0M481.6 596.2h0M481.6 595.4h0M481.6 594h0M481.6 593.1h0M481.6 592h0M461.6 590.5h0M461.5 594.6h0M461.8 595.8h0M462.8 594.5h0M465.5 588.9h0M470.7 594.7h0M470.8 589.4h0M472.6 593.3h0M472.3 589.8h0M473.2 588.8h0M474.4 585.1h0M474.7 588.1h0M478.3 593.6h0M480.7 588.8h0M480.7 580.6h0M481.6 591.9h0M481.7 583.6h0M482.4 592.2h0M482.6 579.1h0M484.5 580h0M487.4 585.2h0M489.6 593.6h0M524 594.6h0M524 593.4h0M524 591.2h0M524 587.9h0M524 586.9h0M524 586.1h0M524 585h0M524 584h0M524 583h0M519.6 594.4h0M519.6 593.5h0M519.6 592.3h0M519.6 591.4h0M519.6 590.2h0M519.6 589.3h0M519.6 588.4h0M519.6 584.7h0M513 594.9h0M513 594.1h0M513 592.9h0M513 591.9h0M513.5 595.5h0M513.5 594.3h0M513.5 593.1h0M513.5 591.8h0M513.5 590.8h0M513.5 587.4h0M513.5 586.6h0M513.5 585.7h0M513.5 584.8h0M522.2 593.5h0M522.2 592.6h0M522.2 591.5h0M522.2 590.4h0M522.2 589.6h0M522.2 588.7h0M522.2 587.8h0M515.1 594.1h0M515.1 593.2h0M518.3 590.7h0M518.3 589.8h0M518.3 588.7h0M518.3 587.8h0M518.3 586.7h0M518.3 585.5h0M518.7 590.7h0M518.7 589.5h0M518.7 586h0M518.7 585.1h0M522.2 593.5h0M522.2 592.1h0M522.2 591.1h0M525.3 592.1h0M525.3 590.9h0M525.3 590h0M525.3 588.6h0M510.7 589.6h0M511.4 593h0M511.5 590.4h0M511.2 592.3h0M511.6 590.9h0M513.4 584.8h0M514.5 591.8h0M515.5 584.3h0M515.3 585.4h0M517.5 578.6h0M517.4 589.7h0M519.4 592.7h0M519.4 585.1h0M520.7 585.6h0M520.7 586.9h0M524.5 584.2h0M552.4 593.5h0M552.4 592.1h0M552.4 591.2h0M552.4 590.4h0M552.4 589.2h0M552.4 588.2h0M552.4 587.2h0M556 594.7h0M556 593.4h0M556 592.6h0M548.8 594.8h0M548.8 593.7h0M548.8 592.8h0M548.8 591.6h0M548.8 590.3h0M553.2 594.2h0M553.2 593h0M553.2 594.2h0M553.2 593.1h0M553.2 592.1h0M553.2 590.8h0M553.2 589.5h0M553.2 588.7h0M558.7 595.6h0M558.7 594.5h0M558.7 593.2h0M558.7 592.1h0M558.7 590.9h0M558.7 590h0M558.7 589.1h0M558.7 588h0M558.7 587h0M558.7 586h0M558.7 585h0M558.7 584.1h0M558.7 582.9h0M547.8 593.1h0M547.8 592.2h0M547.8 591.3h0M547.8 590.3h0M550.2 595.1h0M550.2 593.8h0M550.2 592.5h0M557.1 592.5h0M557.1 591.4h0M557.1 590.4h0M557.1 589.3h0M557.1 588.2h0M557.1 587.1h0M557.1 585.7h0M557.1 583.5h0M544.6 595.4h0M546.6 593.6h0M547.2 587.4h0M548.4 586.1h0M554.5 587h0M557.4 587.9h0M558.6 592.9h0M559.4 582.9h0M589.4 595.1h0M589.4 593.9h0M589.4 592.9h0M590.6 594.4h0M590.6 592.1h0M585 595.8h0M585 593h0M585 592.1h0M585 591.3h0M585 590.2h0M585 589.1h0M585 586.6h0M585 585.8h0M585 584.9h0M585 583.6h0M585 582.7h0M585 581.5h0M585.9 594.6h0M585.9 592h0M585.9 591h0M585.9 589.7h0M585.9 588.7h0M585.9 587.6h0M584.1 595.8h0M584.1 595h0M584.1 593.7h0M588.7 594.8h0M588.7 593.8h0M588.7 592.6h0M588.7 591.5h0M588.7 590.4h0M588.7 589.4h0M584.7 595.8h0M588.4 594.8h0M588.4 593.7h0M588.4 592.7h0M588.4 591.5h0M588.4 590.1h0M588.4 589h0M579.7 593.3h0M580.5 587.4h0M580.7 585.6h0M581.7 594.4h0M581.6 586.1h0M582.5 580.6h0M586.3 593.4h0M586.4 591.8h0M588.3 587.6h0M588.6 586.7h0M590.7 591.5h0M613.1 594.3h0M613.1 593.4h0M613.1 592.4h0M613.1 591.5h0M613.1 590.6h0M613.9 594.3h0M613.9 593.2h0M613.9 592.1h0M611.9 592.8h0M611.9 591.6h0M611.9 590.8h0M611.9 589.9h0M611.9 588.9h0M611.9 587.7h0M611.9 584h0M611.9 583h0M611.9 579.6h0M611.9 578.3h0M611.9 577.3h0M611.9 576h0M611.4 592.8h0M611.4 591.5h0M611.4 590.3h0M611.4 589.5h0M611.6 592.8h0M611.6 591.8h0M611.6 590.7h0M611.6 589.6h0M611.6 588.7h0M616.6 595.6h0M616.6 594.4h0M608.7 584.2h0M610.6 589h0M615.7 587h0M616.5 589.9h0M616.5 590.8h0M617.3 590.4h0M617.5 583.3h0M632.1 590.5h0M632.1 589.5h0M632.1 588.2h0M629.8 594.8h0M629.8 593.7h0M629.8 592.8h0M631.3 594h0M631.3 593h0M631.3 592.2h0M631.3 591h0M631.3 589.9h0M631.3 588.5h0M631.3 587.4h0M631.5 594h0M631.5 593h0M628.8 582.7h0M628.7 592.4h0M629.5 592.2h0M630.6 591h0M630.8 577.8h0M631.5 586.8h0M633.6 592.5h0M634.4 585.1h0M531.4 595h0M531.4 594h0M531.4 593h0M531.4 592h0M531.4 591h0M531.4 590h0M531.4 589h0M524.8 595h0M524.8 594h0M524.8 593h0M524.8 592h0M524.8 591h0M524.8 590h0M524.8 589h0M524.8 588h0M524.8 587h0M524.8 586h0M530.8 595h0M530.8 594h0M530.8 591.8h0M530.8 590.8h0M530.8 588.6h0M532.8 595h0M532.8 594h0M532.8 593h0M532.8 592h0M532.8 591h0M532.8 590h0M532.8 589h0M475.8 595h0M475.8 594h0M475.8 593h0M475.8 592h0M476.7 595h0M476.7 594h0M476.7 593h0M476.7 592h0M485.9 595h0M485.9 594h0M485.9 593h0M485.9 592h0M478 595h0M478 594h0" stroke="#114d8a" stroke-width="2.1" stroke-linecap="round" fill="none"/>
<path d="M167.9 542.4h0M167.9 547.4h0M167.9 548.4h0M167.9 549.4h0M167.9 550.4h0M167.9 555.8h0M167.9 561.2h0M167.9 562.2h0M167.9 570.8h0M167.9 572.8h0M167.9 573.8h0M167.9 580.1h0M167.9 581.1h0M167.9 582.1h0M167.9 583.1h0M167.9 584.1h0M167.9 585.1h0M167.9 586.1h0M167.9 587.1h0M167.9 588.1h0M167.9 589.1h0M167.9 590.1h0M167.9 591.1h0M167.9 592.1h0M167.9 595h0M457.9 550.2h0M457.9 551.2h0M457.9 552.2h0M457.9 553.2h0M457.9 554.2h0M457.9 555.2h0M457.9 556.2h0M457.9 557.2h0M457.9 558.2h0M457.9 559.2h0M457.9 560.2h0M457.9 561.2h0M457.9 562.2h0M457.9 563.2h0M457.9 564.2h0M457.9 565.2h0M457.9 566.2h0M457.9 567.2h0M457.9 568.2h0M457.9 569.2h0M457.9 570.2h0M457.9 571.2h0M457.9 572.2h0M457.9 573.2h0M457.9 574.2h0M457.9 575.2h0M457.9 576.2h0M457.9 577.2h0M457.9 578.2h0M457.9 579.2h0M457.9 580.2h0M457.9 581.2h0M457.9 582.2h0M457.9 583.2h0M457.9 584.2h0M457.9 585.2h0M457.9 586.2h0M457.9 587.2h0M457.9 588.2h0M457.9 589.2h0M457.9 590.2h0M457.9 591.2h0M457.9 592.2h0M457.9 593.2h0M457.9 594.2h0M564.6 556.8h0M564.6 557.8h0M564.6 558.8h0M564.6 559.8h0M564.6 560.8h0M564.6 561.8h0M564.6 562.8h0M564.6 563.8h0M564.6 564.8h0M564.6 565.8h0M564.6 567.3h0M564.6 568.3h0M564.6 569.3h0M564.6 570.3h0M564.6 571.3h0M564.6 572.3h0M564.6 575.8h0M564.6 580.3h0M564.6 583.9h0M564.6 586.6h0M564.6 587.6h0M564.6 588.6h0M564.6 589.6h0M564.6 593.5h0M564.6 594.5h0" stroke="#4a78ff" stroke-width="2.2" stroke-linecap="round" fill="none"/>
<path d="M187.7 576.9h0M187.7 577.9h0M187.7 578.9h0M187.7 579.9h0M187.7 580.9h0M187.7 581.9h0M187.7 582.9h0M187.7 583.9h0M187.7 584.9h0M187.7 585.9h0M187.7 586.9h0M187.7 587.9h0M187.7 588.9h0M187.7 589.9h0M187.7 590.9h0M187.7 591.9h0M187.7 592.9h0M187.7 593.9h0M187.7 594.9h0M193.9 576.2h0M193.9 577.2h0M193.9 578.2h0M193.9 579.2h0M193.9 580.2h0M193.9 581.2h0M193.9 582.2h0M193.9 583.2h0M193.9 584.2h0M193.9 585.2h0M193.9 586.2h0M193.9 587.2h0M193.9 588.2h0M193.9 589.2h0M193.9 590.2h0M193.9 591.2h0M193.9 592.2h0M193.9 594.9h0M535.1 571.6h0M535.1 572.6h0M535.1 573.6h0M535.1 574.6h0M535.1 575.6h0M535.1 579.4h0M535.1 580.4h0M535.1 581.4h0M535.1 582.4h0M535.1 583.4h0M535.1 584.4h0M535.1 585.4h0M535.1 586.4h0M535.1 587.4h0M535.1 589.7h0M535.1 590.7h0M535.1 591.7h0M535.1 594h0" stroke="#4a78ff" stroke-width="2" stroke-linecap="round" fill="none"/>
<path d="M243.7 488.1h0M243.7 491.9h0M243.7 492.9h0M243.7 493.9h0M243.7 494.9h0M243.7 495.9h0M243.7 499h0M243.7 500h0M243.7 501h0M243.7 502h0M243.7 504.6h0M243.7 506.8h0M243.7 509.2h0M243.7 510.2h0M243.7 513.1h0M243.7 515.8h0M243.7 516.8h0M243.7 517.8h0" stroke="#4a78ff" stroke-width="2.1" stroke-linecap="round" fill="none"/>
<path d="M243.7 529.1h0M243.7 530.1h0M243.7 532.5h0M243.7 533.5h0M243.7 534.5h0M243.7 535.5h0M243.7 536.5h0M243.7 537.5h0M243.7 538.5h0M243.7 539.5h0M243.7 543.8h0M243.7 544.8h0M243.7 545.8h0M243.7 546.8h0M243.7 547.8h0M243.7 548.8h0M243.7 549.8h0M243.7 550.8h0M243.7 554.1h0M243.7 555.1h0M243.7 556.1h0M243.7 557.1h0M243.7 558.1h0M243.7 559.1h0M243.7 562.7h0M243.7 563.7h0M243.7 564.7h0M243.7 565.7h0M243.7 566.7h0M243.7 567.7h0M243.7 568.7h0M243.7 569.7h0M243.7 570.7h0M243.7 571.7h0M243.7 572.7h0M243.7 573.7h0M243.7 574.7h0M243.7 575.7h0M243.7 576.7h0M243.7 577.7h0M243.7 578.7h0M243.7 579.7h0M243.7 580.7h0M243.7 581.7h0M243.7 582.7h0M243.7 583.7h0M243.7 584.7h0M243.7 585.7h0M243.7 586.7h0M243.7 587.7h0M243.7 588.7h0M243.7 589.7h0M243.7 590.7h0M243.7 591.7h0M243.7 592.7h0M243.7 593.7h0M243.7 594.7h0" stroke="#4a78ff" stroke-width="2.4" stroke-linecap="round" fill="none"/>
<path d="M527.6 530.3h0M527.6 531.3h0M527.6 532.3h0M527.6 533.3h0M527.6 534.3h0M527.6 535.3h0M527.6 537.7h0M527.6 538.7h0M527.6 539.7h0M527.6 540.7h0M527.6 543.2h0M527.6 544.2h0M527.6 545.2h0M527.6 546.2h0M527.6 547.2h0M527.6 548.2h0M527.6 549.2h0M527.6 550.2h0M527.6 551.2h0M527.6 553.7h0M527.6 554.7h0M527.6 555.7h0M527.6 556.7h0M527.6 560.8h0M527.6 561.8h0M527.6 562.8h0M527.6 563.8h0M527.6 564.8h0M527.6 565.8h0M527.6 568.5h0M527.6 569.5h0M527.6 570.5h0M527.6 571.5h0M527.6 576.8h0M527.6 577.8h0M527.6 578.8h0M527.6 579.8h0M527.6 580.8h0M527.6 581.8h0M527.6 585h0M527.6 586h0M527.6 587h0M527.6 588h0M527.6 589h0M527.6 590h0M527.6 591h0M527.6 592h0M527.6 593h0M527.6 594h0" stroke="#114d8a" stroke-width="2.2" stroke-linecap="round" fill="none"/>
<path d="M481 576.7h0M481 577.7h0M481 578.7h0M481 579.7h0M481 580.7h0M481 581.7h0M481 585.9h0M481 586.9h0M481 587.9h0M481 588.9h0M481 589.9h0M481 590.9h0M481 591.9h0M481 592.9h0M481 593.9h0M481 594.9h0" stroke="#114d8a" stroke-width="2" stroke-linecap="round" fill="none"/>
<line x1="42.8" y1="479.6" x2="42.8" y2="657.5" stroke="#9a9a9a" stroke-width="1.4"/>
<line x1="38" y1="487.1" x2="42.5" y2="487.1" stroke="#a8a8a8" stroke-width="1"/>
<text x="33.3" y="490.3" font-size="10" fill="#262626" text-anchor="end">50</text>
<line x1="38" y1="515.6" x2="42.5" y2="515.6" stroke="#a8a8a8" stroke-width="1"/>
<text x="33.3" y="518.8" font-size="10" fill="#262626" text-anchor="end">25</text>
<line x1="38" y1="553.6" x2="42.5" y2="553.6" stroke="#a8a8a8" stroke-width="1"/>
<text x="33.3" y="556.8" font-size="10" fill="#262626" text-anchor="end">10</text>
<line x1="38" y1="581.2" x2="42.5" y2="581.2" stroke="#a8a8a8" stroke-width="1"/>
<text x="33.3" y="584.4" font-size="10" fill="#262626" text-anchor="end">5</text>
<text transform="translate(13.1 568.7) rotate(-90)" x="0" y="0" font-size="11" fill="#262626" text-anchor="middle" textLength="74" lengthAdjust="spacingAndGlyphs">&#8211;log<tspan font-size="7.5" dy="2.5">10</tspan><tspan dy="-2.5"> (</tspan><tspan font-style="italic">P</tspan> value)</text>
<text x="91.3" y="662.2" font-size="9" fill="#5a86ff" text-anchor="middle">1</text>
<text x="136.4" y="662.2" font-size="9" fill="#2a5a8e" text-anchor="middle">2</text>
<text x="181.9" y="662.2" font-size="9" fill="#5a86ff" text-anchor="middle">3</text>
<text x="220.8" y="662.2" font-size="9" fill="#2a5a8e" text-anchor="middle">4</text>
<text x="261.7" y="662.2" font-size="9" fill="#5a86ff" text-anchor="middle">5</text>
<text x="296.4" y="662.2" font-size="9" fill="#2a5a8e" text-anchor="middle">6</text>
<text x="333.5" y="662.2" font-size="9" fill="#5a86ff" text-anchor="middle">7</text>
<text x="366.4" y="662.2" font-size="9" fill="#2a5a8e" text-anchor="middle">8</text>
<text x="393.4" y="662.2" font-size="9" fill="#5a86ff" text-anchor="middle">9</text>
<text x="418.4" y="662.2" font-size="9" fill="#2a5a8e" text-anchor="middle">10</text>
<text x="446.7" y="662.2" font-size="9" fill="#5a86ff" text-anchor="middle">11</text>
<text x="475" y="662.2" font-size="9" fill="#2a5a8e" text-anchor="middle">12</text>
<text x="500.6" y="662.2" font-size="9" fill="#5a86ff" text-anchor="middle">13</text>
<text x="519.7" y="662.2" font-size="9" fill="#2a5a8e" text-anchor="middle">14</text>
<text x="536.3" y="662.2" font-size="9" fill="#5a86ff" text-anchor="middle">15</text>
<text x="553.5" y="662.2" font-size="9" fill="#2a5a8e" text-anchor="middle">16</text>
<text x="568.9" y="662.2" font-size="9" fill="#5a86ff" text-anchor="middle">17</text>
<text x="585" y="662.2" font-size="9" fill="#2a5a8e" text-anchor="middle">18</text>
<text x="600.6" y="662.2" font-size="9" fill="#5a86ff" text-anchor="middle">19</text>
<text x="612.8" y="662.2" font-size="9" fill="#2a5a8e" text-anchor="middle">20</text>
<text x="623" y="662.2" font-size="9" fill="#5a86ff" text-anchor="middle">21</text>
<text x="632.4" y="662.2" font-size="9" fill="#2a5a8e" text-anchor="middle">22</text>
<text x="644.8" y="662.2" font-size="9" fill="#5a86ff" text-anchor="middle">X</text>
<text x="363.1" y="678.4" font-size="11" fill="#262626" text-anchor="middle" textLength="67.4" lengthAdjust="spacingAndGlyphs">Chromosome</text>
<text x="231.6" y="486.8" font-size="10" fill="#29aae3" text-anchor="start" font-style="italic" textLength="23.3" lengthAdjust="spacingAndGlyphs">TERT</text>
<text x="153.9" y="531.9" font-size="10" fill="#29aae3" text-anchor="start" font-style="italic" textLength="25.3" lengthAdjust="spacingAndGlyphs">THRB</text>
<text x="492.6" y="525.5" font-size="10" fill="#ec1c2a" text-anchor="start" font-style="italic" textLength="27.9" lengthAdjust="spacingAndGlyphs">TCL1B</text>
<text x="520.5" y="525.5" font-size="10" fill="#262626" text-anchor="start" font-style="italic" textLength="2.5" lengthAdjust="spacingAndGlyphs">,</text>
<text x="523.5" y="525.5" font-size="10" fill="#29aae3" text-anchor="start" font-style="italic" textLength="29.3" lengthAdjust="spacingAndGlyphs">TCL1A</text>
<text x="449.2" y="546" font-size="10" fill="#29aae3" text-anchor="start" font-style="italic" textLength="20.9" lengthAdjust="spacingAndGlyphs">ATM</text>
<text x="534.1" y="553.6" font-size="10" fill="#7a3cae" text-anchor="start" font-style="italic" textLength="72.4" lengthAdjust="spacingAndGlyphs">UBE2G1,SPNS3</text>
<text x="-0.3" y="702.3" font-size="15.5" fill="#000" text-anchor="start" font-weight="bold" stroke="#000" stroke-width="0.35">d</text>
<text x="19.3" y="701.6" font-size="12" fill="#262626" textLength="215.4" lengthAdjust="spacingAndGlyphs">Cross-ancestry meta-analysis, <tspan font-style="italic">ASXL1</tspan>-CH</text>
<line x1="43.3" y1="792.6" x2="683.2" y2="792.6" stroke="#ffb4b4" stroke-width="1.4"/>
<polygon points="70,881 70,843.5 71,843.5 71,842 72,842 72,840 73,840 73,841 74,841 74,835.8 75,835.8 75,839.2 76,839.2 76,839.4 77,839.4 77,839.5 78,839.5 78,840.3 79,840.3 79,840.5 80,840.5 80,839.1 81,839.1 81,840.7 82,840.7 82,840.5 83,840.5 83,839.4 84,839.4 84,839.4 85,839.4 85,840.7 86,840.7 86,839.8 87,839.8 87,836.7 88,836.7 88,840.3 89,840.3 89,840 90,840 90,834.8 91,834.8 91,840 92,840 92,840.3 93,840.3 93,840.8 94,840.8 94,839.5 95,839.5 95,839.6 96,839.6 96,838.7 97,838.7 97,839.3 98,839.3 98,839.5 99,839.5 99,838.6 100,838.6 100,839.3 101,839.3 101,839.8 102,839.8 102,841.3 103,841.3 103,841 104,841 104,841.4 105,841.4 105,837.8 106,837.8 106,840 107,840 107,839.7 108,839.7 108,840 109,840 109,839.3 110,839.3 110,840.9 111,840.9 111,840.5 112,840.5 112,840.2 113,840.2 113,842 114,842 114,843.5 114.1,843.5 114.1,881" fill="#4a78ff"/>
<polygon points="160.9,881 160.9,843.5 161,843.5 161,842 162,842 162,838.1 163,838.1 163,841.9 164,841.9 164,841.1 165,841.1 165,839.7 166,839.7 166,841.8 167,841.8 167,840.3 168,840.3 168,840.7 169,840.7 169,839.6 170,839.6 170,839.4 171,839.4 171,838.7 172,838.7 172,840.3 173,840.3 173,839.9 174,839.9 174,839.6 175,839.6 175,839.6 176,839.6 176,840.8 177,840.8 177,840.7 178,840.7 178,839.8 179,839.8 179,841.1 180,841.1 180,842.1 181,842.1 181,841.4 182,841.4 182,842.4 183,842.4 183,840.6 184,840.6 184,840.8 185,840.8 185,840.6 186,840.6 186,840.6 187,840.6 187,840.4 188,840.4 188,839.2 189,839.2 189,839.1 190,839.1 190,839.7 191,839.7 191,837.6 192,837.6 192,840.3 193,840.3 193,841.7 194,841.7 194,836.9 195,836.9 195,840.7 196,840.7 196,840.7 197,840.7 197,839.6 198,839.6 198,840.3 199,840.3 199,842 200,842 200,843.5 201,843.5 201,881" fill="#4a78ff"/>
<polygon points="242.1,881 242.1,843.5 243,843.5 243,842 244,842 244,840.8 245,840.8 245,841.9 246,841.9 246,840.8 247,840.8 247,841.7 248,841.7 248,837.3 249,837.3 249,842.6 250,842.6 250,842.5 251,842.5 251,842.7 252,842.7 252,843.6 253,843.6 253,840.7 254,840.7 254,842.2 255,842.2 255,842.5 256,842.5 256,842.8 257,842.8 257,841.1 258,841.1 258,837.8 259,837.8 259,838.7 260,838.7 260,840.9 261,840.9 261,839.4 262,839.4 262,837.5 263,837.5 263,841.1 264,841.1 264,840.9 265,840.9 265,841.3 266,841.3 266,842.1 267,842.1 267,841.1 268,841.1 268,837.3 269,837.3 269,840.7 270,840.7 270,840.8 271,840.8 271,839.2 272,839.2 272,839.5 273,839.5 273,838.7 274,838.7 274,838.1 275,838.1 275,839 276,839 276,838 277,838 277,842 278,842 278,843.5 278.1,843.5 278.1,881" fill="#4a78ff"/>
<polygon points="316.8,881 316.8,843.5 317,843.5 317,842 318,842 318,840.9 319,840.9 319,838.9 320,838.9 320,838.8 321,838.8 321,840.1 322,840.1 322,840.8 323,840.8 323,834.6 324,834.6 324,841.7 325,841.7 325,840.6 326,840.6 326,840.7 327,840.7 327,841.5 328,841.5 328,841.5 329,841.5 329,842.1 330,842.1 330,842 331,842 331,840.2 332,840.2 332,842.1 333,842.1 333,843 334,843 334,841.4 335,841.4 335,840.6 336,840.6 336,839.5 337,839.5 337,839.9 338,839.9 338,839.8 339,839.8 339,841 340,841 340,840.3 341,840.3 341,841.9 342,841.9 342,841.6 343,841.6 343,840.9 344,840.9 344,841.7 345,841.7 345,842.2 346,842.2 346,842.9 347,842.9 347,842.9 348,842.9 348,842.8 349,842.8 349,842 350,842 350,843.5 350.1,843.5 350.1,881" fill="#4a78ff"/>
<polygon points="381.1,881 381.1,843.5 382,843.5 382,842 383,842 383,838.6 384,838.6 384,839.8 385,839.8 385,839.6 386,839.6 386,840.9 387,840.9 387,840.9 388,840.9 388,840.2 389,840.2 389,841.4 390,841.4 390,841.9 391,841.9 391,841.7 392,841.7 392,841.2 393,841.2 393,840.7 394,840.7 394,840.3 395,840.3 395,838.4 396,838.4 396,838.4 397,838.4 397,839.8 398,839.8 398,838.7 399,838.7 399,841.1 400,841.1 400,841.3 401,841.3 401,839.4 402,839.4 402,840.2 403,840.2 403,842 404,842 404,843.5 405,843.5 405,881" fill="#4a78ff"/>
<polygon points="433.8,881 433.8,843.5 434,843.5 434,842.6 435,842.6 435,835 436,835 436,840 437,840 437,840.4 438,840.4 438,840.9 439,840.9 439,841.6 440,841.6 440,843.2 441,843.2 441,839.6 442,839.6 442,843.2 443,843.2 443,843.3 444,843.3 444,842.5 445,842.5 445,841.7 446,841.7 446,840 447,840 447,841.5 448,841.5 448,838.9 449,838.9 449,837.9 450,837.9 450,840.3 451,840.3 451,841.5 452,841.5 452,840.2 453,840.2 453,842.2 454,842.2 454,839.9 455,839.9 455,841.6 456,841.6 456,840.2 457,840.2 457,842.5 458,842.5 458,841.3 459,841.3 459,842.6 460,842.6 460,842 461,842 461,843.5 461.9,843.5 461.9,881" fill="#4a78ff"/>
<polygon points="489.2,881 489.2,843.5 490,843.5 490,842 491,842 491,842.7 492,842.7 492,840.8 493,840.8 493,838.3 494,838.3 494,843.5 495,843.5 495,841.7 496,841.7 496,841.5 497,841.5 497,838.7 498,838.7 498,835.5 499,835.5 499,839.5 500,839.5 500,839.9 501,839.9 501,840.7 502,840.7 502,840.2 503,840.2 503,840.3 504,840.3 504,838.2 505,838.2 505,839.9 506,839.9 506,835.7 507,835.7 507,840.2 508,840.2 508,842 509,842 509,843.5 509.8,843.5 509.8,881" fill="#4a78ff"/>
<polygon points="528,881 528,843.5 529,843.5 529,842 530,842 530,840.3 531,840.3 531,840.3 532,840.3 532,836 533,836 533,840.1 534,840.1 534,841.1 535,841.1 535,840.5 536,840.5 536,840 537,840 537,840.8 538,840.8 538,842.3 539,842.3 539,841.9 540,841.9 540,841.3 541,841.3 541,839.3 542,839.3 542,842 543,842 543,842 544,842 544,843.5 544.8,843.5 544.8,881" fill="#4a78ff"/>
<polygon points="561.4,881 561.4,843.5 562,843.5 562,842 563,842 563,841.9 564,841.9 564,842 565,842 565,841.6 566,841.6 566,840.9 567,840.9 567,840.5 568,840.5 568,840.5 569,840.5 569,841.6 570,841.6 570,841.1 571,841.1 571,841.6 572,841.6 572,839.3 573,839.3 573,841.8 574,841.8 574,838.8 575,838.8 575,842 576,842 576,843.5 577,843.5 577,881" fill="#4a78ff"/>
<polygon points="593.2,881 593.2,843.5 594,843.5 594,842 595,842 595,842.4 596,842.4 596,838.9 597,838.9 597,841.5 598,841.5 598,841 599,841 599,840.6 600,840.6 600,840.5 601,840.5 601,840.9 602,840.9 602,841.4 603,841.4 603,840.5 604,840.5 604,842 605,842 605,842.9 606,842.9 606,842 607,842 607,843.5 607.1,843.5 607.1,881" fill="#4a78ff"/>
<polygon points="619.2,881 619.2,843.5 620,843.5 620,842 621,842 621,840.3 622,840.3 622,838.5 623,838.5 623,835.9 624,835.9 624,840.3 625,840.3 625,842 626,842 626,843.5 627,843.5 627,881" fill="#4a78ff"/>
<polygon points="634.9,881 634.9,843.5 635,843.5 635,842 636,842 636,841.2 637,841.2 637,841.7 638,841.7 638,836 639,836 639,838.6 640,838.6 640,836.5 641,836.5 641,837.6 642,837.6 642,836.9 643,836.9 643,838.6 644,838.6 644,840.4 645,840.4 645,841.2 646,841.2 646,841.5 647,841.5 647,840.9 648,840.9 648,840.6 649,840.6 649,840.4 650,840.4 650,840 651,840 651,838.4 652,838.4 652,841.2 653,841.2 653,840.9 654,840.9 654,842 655,842 655,843.5 655.5,843.5 655.5,881" fill="#4a78ff"/>
<polygon points="114.1,881 114.1,843.5 115,843.5 115,842 116,842 116,841.6 117,841.6 117,839.5 118,839.5 118,840.5 119,840.5 119,841 120,841 120,837.4 121,837.4 121,839.6 122,839.6 122,839 123,839 123,838 124,838 124,838.5 125,838.5 125,836.7 126,836.7 126,838.6 127,838.6 127,840.4 128,840.4 128,838.8 129,838.8 129,842.9 130,842.9 130,841.1 131,841.1 131,842.3 132,842.3 132,843 133,843 133,838.9 134,838.9 134,839.7 135,839.7 135,841.4 136,841.4 136,841.7 137,841.7 137,840.2 138,840.2 138,841.3 139,841.3 139,840.3 140,840.3 140,840.8 141,840.8 141,838.2 142,838.2 142,839.1 143,839.1 143,839 144,839 144,836.4 145,836.4 145,839.6 146,839.6 146,837.7 147,837.7 147,839.7 148,839.7 148,838.3 149,838.3 149,840.5 150,840.5 150,841.8 151,841.8 151,838 152,838 152,840.1 153,840.1 153,840.9 154,840.9 154,839.5 155,839.5 155,841.3 156,841.3 156,838.5 157,838.5 157,840.5 158,840.5 158,841.6 159,841.6 159,842 160,842 160,843.5 160.9,843.5 160.9,881" fill="#114d8a"/>
<polygon points="201,881 201,843.5 202,843.5 202,842.1 203,842.1 203,842.9 204,842.9 204,841 205,841 205,842 206,842 206,841.8 207,841.8 207,842.1 208,842.1 208,840.3 209,840.3 209,839.6 210,839.6 210,838.4 211,838.4 211,841.3 212,841.3 212,843.1 213,843.1 213,842.3 214,842.3 214,838.2 215,838.2 215,841.9 216,841.9 216,841.4 217,841.4 217,841.1 218,841.1 218,839.3 219,839.3 219,841.1 220,841.1 220,840.4 221,840.4 221,839.6 222,839.6 222,840.1 223,840.1 223,839.5 224,839.5 224,839.9 225,839.9 225,841 226,841 226,834.8 227,834.8 227,838.8 228,838.8 228,839.3 229,839.3 229,837.4 230,837.4 230,837.6 231,837.6 231,837.3 232,837.3 232,840.1 233,840.1 233,839.6 234,839.6 234,840.7 235,840.7 235,840.1 236,840.1 236,839.3 237,839.3 237,839.9 238,839.9 238,839.6 239,839.6 239,840.6 240,840.6 240,840.9 241,840.9 241,842 242,842 242,843.5 242.1,843.5 242.1,881" fill="#114d8a"/>
<polygon points="278.1,881 278.1,843.5 279,843.5 279,842 280,842 280,841.9 281,841.9 281,842.1 282,842.1 282,841.1 283,841.1 283,840.1 284,840.1 284,840.1 285,840.1 285,838.5 286,838.5 286,838.9 287,838.9 287,841.1 288,841.1 288,841.6 289,841.6 289,837.7 290,837.7 290,839.8 291,839.8 291,840.9 292,840.9 292,840 293,840 293,839 294,839 294,840.4 295,840.4 295,839 296,839 296,840.8 297,840.8 297,839.9 298,839.9 298,840.6 299,840.6 299,838 300,838 300,840.1 301,840.1 301,840.6 302,840.6 302,835.6 303,835.6 303,841.6 304,841.6 304,841.1 305,841.1 305,838.7 306,838.7 306,839.9 307,839.9 307,840.3 308,840.3 308,839.7 309,839.7 309,841.1 310,841.1 310,841.7 311,841.7 311,839.6 312,839.6 312,841.4 313,841.4 313,839.2 314,839.2 314,841.3 315,841.3 315,842 316,842 316,843.5 316.8,843.5 316.8,881" fill="#114d8a"/>
<polygon points="350.1,881 350.1,843.5 351,843.5 351,843.2 352,843.2 352,836.8 353,836.8 353,840.7 354,840.7 354,841.9 355,841.9 355,842.3 356,842.3 356,841.6 357,841.6 357,842.1 358,842.1 358,840.7 359,840.7 359,840.6 360,840.6 360,838.5 361,838.5 361,841.4 362,841.4 362,841.4 363,841.4 363,841 364,841 364,841.1 365,841.1 365,839.3 366,839.3 366,836.8 367,836.8 367,841.5 368,841.5 368,840.2 369,840.2 369,841.2 370,841.2 370,840.4 371,840.4 371,841 372,841 372,841 373,841 373,836.9 374,836.9 374,841.7 375,841.7 375,840.4 376,840.4 376,841 377,841 377,839.3 378,839.3 378,839.3 379,839.3 379,840.1 380,840.1 380,842 381,842 381,843.5 381.1,843.5 381.1,881" fill="#114d8a"/>
<polygon points="405,881 405,843.5 406,843.5 406,842 407,842 407,840.3 408,840.3 408,839.9 409,839.9 409,837.5 410,837.5 410,838.7 411,838.7 411,842 412,842 412,841.7 413,841.7 413,842 414,842 414,841.2 415,841.2 415,839.9 416,839.9 416,841.1 417,841.1 417,840.3 418,840.3 418,841.4 419,841.4 419,839.4 420,839.4 420,839.3 421,839.3 421,841.2 422,841.2 422,837.7 423,837.7 423,840.4 424,840.4 424,841.9 425,841.9 425,840.5 426,840.5 426,839.5 427,839.5 427,839.5 428,839.5 428,836 429,836 429,839 430,839 430,840.2 431,840.2 431,839.5 432,839.5 432,842 433,842 433,843.5 433.8,843.5 433.8,881" fill="#114d8a"/>
<polygon points="461.9,881 461.9,843.5 462,843.5 462,842 463,842 463,842.8 464,842.8 464,841.7 465,841.7 465,842.4 466,842.4 466,841.6 467,841.6 467,842 468,842 468,840.8 469,840.8 469,840 470,840 470,838.9 471,838.9 471,838.8 472,838.8 472,840.4 473,840.4 473,840.8 474,840.8 474,840.3 475,840.3 475,841.2 476,841.2 476,842.2 477,842.2 477,840.6 478,840.6 478,837.5 479,837.5 479,838.2 480,838.2 480,839.4 481,839.4 481,837.7 482,837.7 482,839.7 483,839.7 483,836.2 484,836.2 484,838.9 485,838.9 485,840.5 486,840.5 486,839.9 487,839.9 487,838.9 488,838.9 488,842 489,842 489,843.5 489.2,843.5 489.2,881" fill="#114d8a"/>
<polygon points="509.8,881 509.8,843.5 510,843.5 510,842 511,842 511,837.6 512,837.6 512,836.5 513,836.5 513,832.6 514,832.6 514,836.3 515,836.3 515,837.7 516,837.7 516,839.6 517,839.6 517,840 518,840 518,838.4 519,838.4 519,840.2 520,840.2 520,839.1 521,839.1 521,840.2 522,840.2 522,837.3 523,837.3 523,840.6 524,840.6 524,841.1 525,841.1 525,841.1 526,841.1 526,842 527,842 527,843.5 528,843.5 528,881" fill="#114d8a"/>
<polygon points="544.8,881 544.8,843.5 545,843.5 545,842 546,842 546,843.1 547,843.1 547,843.6 548,843.6 548,844 549,844 549,843.6 550,843.6 550,843.5 551,843.5 551,840.9 552,840.9 552,842.2 553,842.2 553,841 554,841 554,841.2 555,841.2 555,839.6 556,839.6 556,841.1 557,841.1 557,842 558,842 558,840.9 559,840.9 559,841.5 560,841.5 560,842 561,842 561,843.5 561.4,843.5 561.4,881" fill="#114d8a"/>
<polygon points="577,881 577,843.5 578,843.5 578,842 579,842 579,840.6 580,840.6 580,841.1 581,841.1 581,839.7 582,839.7 582,839.6 583,839.6 583,842.8 584,842.8 584,841 585,841 585,843.6 586,843.6 586,843.1 587,843.1 587,841.6 588,841.6 588,840.9 589,840.9 589,842.9 590,842.9 590,841.5 591,841.5 591,842.8 592,842.8 592,842 593,842 593,843.5 593.2,843.5 593.2,881" fill="#114d8a"/>
<polygon points="607.1,881 607.1,843.5 608,843.5 608,842 609,842 609,838.5 610,838.5 610,840.6 611,840.6 611,839.4 612,839.4 612,839.2 613,839.2 613,837.3 614,837.3 614,838.2 615,838.2 615,839.3 616,839.3 616,840.5 617,840.5 617,841.3 618,841.3 618,842 619,842 619,843.5 619.2,843.5 619.2,881" fill="#114d8a"/>
<polygon points="627,881 627,843.5 628,843.5 628,842.7 629,842.7 629,843.1 630,843.1 630,843 631,843 631,843.9 632,843.9 632,842 633,842 633,842.3 634,842.3 634,843.5 634.9,843.5 634.9,881" fill="#114d8a"/>
<path d="M74.5 838.8h0M75.5 842.3h0M77.5 841.3h0M78.5 847.8h0M81.5 843.6h0M82.5 842.8h0M88.5 844.7h0M89.5 845.1h0M90.5 841.3h0M91.5 848.5h0M92.5 843.2h0M95.5 847.9h0M97.5 846.7h0M99.5 841.8h0M101.5 846.6h0M103.5 845.9h0M105.5 845h0M106.5 844.7h0M110.5 849.7h0M111.5 844.9h0M113.5 844.7h0M114.5 849.1h0M114.5 850.3h0M116.5 848.1h0M118.5 845.6h0M120.5 845.8h0M122.5 846.1h0M123.5 842.1h0M124.5 841.6h0M125.5 843.3h0M128.5 840.6h0M129.5 846.6h0M133.5 842.1h0M135.5 846.7h0M136.5 845.3h0M138.5 848.9h0M139.5 848.8h0M140.5 848.3h0M143.5 843.4h0M144.5 845.1h0M147.5 842.2h0M149.5 842.4h0M150.5 844h0M152.5 847.6h0M153.5 844.8h0M154.5 848.2h0M155.5 843h0M156.5 844.7h0M157.5 847.3h0M158.5 846.8h0M159.5 843.6h0M160.5 847.2h0M163.5 844.1h0M164.5 845.1h0M165.5 841.7h0M166.5 845.1h0M168.5 844.2h0M169.5 842.7h0M170.5 846.8h0M171.5 846.3h0M173.5 841.7h0M175.5 842.2h0M179.5 846.6h0M180.5 847.8h0M182.5 847.9h0M183.5 843.5h0M185.5 849.2h0M186.5 842.8h0M187.5 842.1h0M188.5 845h0M190.5 843h0M192.5 842.8h0M194.5 841.9h0M195.5 843.7h0M196.5 844.3h0M198.5 844.2h0M199.5 843.8h0M201.5 846.2h0M202.5 849.5h0M204.5 846.7h0M210.5 845.8h0M212.5 844.6h0M217.5 846.3h0M218.5 844.5h0M219.5 848.1h0M220.5 846.5h0M221.5 847.1h0M223.5 848h0M225.5 847.8h0M227.5 840.9h0M228.5 843h0M231.5 841.8h0M233.5 847.7h0M234.5 847.5h0M235.5 842h0M237.5 843.1h0M238.5 845.8h0M239.5 845.1h0M240.5 846.2h0M241.5 845.7h0M242.5 849.1h0M243.5 847.8h0M245.5 849.8h0M246.5 846h0M248.5 840.2h0M250.5 848.5h0M251.5 849.1h0M252.5 850.5h0M253.5 849h0M255.5 847.4h0M257.5 843.7h0M258.5 842.4h0M261.5 843.4h0M264.5 847.5h0M265.5 846.3h0M266.5 846.2h0M267.5 845.6h0M268.5 839.1h0M269.5 849.4h0M271.5 846.5h0M272.5 846.4h0M274.5 846.4h0M275.5 845h0M277.5 847.5h0M278.5 851h0M279.5 849h0M280.5 844.2h0M281.5 846.5h0M282.5 843.9h0M283.5 847.6h0M284.5 841.8h0M286.5 843.4h0M289.5 839.6h0M291.5 844.7h0M292.5 846.7h0M295.5 847.3h0M296.5 842.5h0M298.5 843.1h0M300.5 848.7h0M304.5 847.4h0M305.5 847.1h0M306.5 842.4h0M307.5 845.8h0M311.5 843.9h0M312.5 843.9h0M313.5 846.5h0M315.5 847.9h0M318.5 848.8h0M320.5 843.6h0M321.5 845.6h0M322.5 845.3h0M323.5 840.6h0M324.5 843.7h0M325.5 843.8h0M329.5 845h0M332.5 846h0M333.5 846.4h0M334.5 846.8h0M337.5 847.4h0M338.5 847.1h0M340.5 845.2h0M344.5 844.5h0M345.5 845.4h0M347.5 845.6h0M350.5 852.5h0M351.5 850.2h0M354.5 843.5h0M355.5 844.2h0M358.5 842.5h0M359.5 849h0M361.5 843.5h0M362.5 843.2h0M365.5 843.4h0M366.5 840.2h0M368.5 848.1h0M370.5 842.4h0M371.5 845.4h0M372.5 847.2h0M373.5 841.3h0M376.5 848.3h0M377.5 847h0M378.5 842.7h0M380.5 845.2h0M381.5 850h0M381.5 851.6h0M382.5 843.6h0M387.5 844.6h0M388.5 842.8h0M389.5 849.7h0M391.5 849.3h0M392.5 849.3h0M393.5 849h0M395.5 842.1h0M397.5 841.6h0M399.5 847.5h0M401.5 841.8h0M402.5 846.6h0M403.5 848.6h0M404.5 847.4h0M405.5 849.6h0M407.5 843.6h0M408.5 841.6h0M409.5 841.3h0M410.5 843.7h0M411.5 847.4h0M412.5 846.9h0M414.5 843.9h0M415.5 846.2h0M416.5 846h0M418.5 847.6h0M419.5 842.3h0M420.5 843.5h0M421.5 849.2h0M423.5 849.3h0M424.5 847.5h0M425.5 847.4h0M426.5 847.8h0M427.5 845.7h0M428.5 840.8h0M429.5 847.5h0M430.5 848.8h0M431.5 845.2h0M432.5 849.7h0M433.5 849h0M436.5 844.3h0M437.5 849h0M439.5 843.6h0M440.5 846.9h0M441.5 845.2h0M442.5 848.2h0M444.5 845.2h0M445.5 845.9h0M446.5 843h0M447.5 848.3h0M448.5 843.8h0M450.5 844.8h0M454.5 843.2h0M455.5 845.7h0M456.5 849h0M458.5 845.3h0M460.5 843.7h0M461.5 846.8h0M462.5 848.1h0M463.5 845.6h0M464.5 844h0M465.5 847.8h0M466.5 845.3h0M467.5 850.8h0M469.5 842.5h0M470.5 844h0M472.5 848.5h0M473.5 844.6h0M476.5 847.9h0M477.5 847.1h0M478.5 843.8h0M479.5 841.9h0M482.5 847.3h0M483.5 843.4h0M485.5 846.5h0M487.5 842.7h0M489.5 848.7h0M489.5 847.5h0M494.5 846.8h0M495.5 847.6h0M497.5 844.4h0M500.5 847h0M501.5 843.8h0M502.5 846h0M503.5 843.8h0M504.5 842.5h0M505.5 846.5h0M506.5 838h0M507.5 848.4h0M508.5 849.9h0M509.5 847.4h0M510.5 850.3h0M512.5 845.5h0M515.5 842.2h0M520.5 847.7h0M525.5 845.7h0M526.5 844.3h0M529.5 848.8h0M531.5 844.7h0M532.5 843.5h0M534.5 847.2h0M535.5 842.3h0M536.5 842.2h0M537.5 847h0M538.5 851.3h0M539.5 849.5h0M540.5 846.7h0M541.5 843.6h0M542.5 843.6h0M544.5 852h0M544.5 852.4h0M545.5 844.5h0M546.5 845h0M547.5 846.1h0M548.5 846.2h0M549.5 848.8h0M551.5 848.4h0M552.5 846.6h0M554.5 847.8h0M555.5 847.3h0M557.5 845.7h0M558.5 842.7h0M561.5 847h0M561.5 847.6h0M562.5 849.7h0M563.5 850.5h0M564.5 846.8h0M566.5 848.6h0M568.5 845.9h0M570.5 846.7h0M576.5 845.3h0M578.5 850.2h0M580.5 844.8h0M581.5 844.6h0M583.5 847.8h0M585.5 847.6h0M587.5 847.6h0M588.5 847.3h0M589.5 850.5h0M592.5 843.5h0M593.5 849.6h0M594.5 846.4h0M595.5 846.2h0M597.5 848.6h0M598.5 847.3h0M600.5 843.7h0M602.5 843h0M603.5 848.8h0M604.5 846.6h0M605.5 849.3h0M607.5 846.3h0M607.5 849.5h0M609.5 845.1h0M610.5 844.8h0M613.5 840h0M614.5 842.5h0M616.5 847.7h0M617.5 846.6h0M624.5 844.6h0M625.5 845.6h0M626.5 849.6h0M627.5 845.3h0M628.5 846.3h0M631.5 851.6h0M633.5 848.6h0M634.5 848.9h0M636.5 848.7h0M638.5 842.5h0M639.5 842.4h0M640.5 843.7h0M641.5 844.5h0M643.5 845h0M644.5 845.1h0M646.5 846.4h0M647.5 848.7h0M648.5 847.6h0M649.5 849.2h0M651.5 840.5h0M652.5 849.4h0M653.5 846.6h0" stroke="#ffffff" stroke-width="1.1" stroke-linecap="round" fill="none"/>
<path d="M76.9 839.9h0M76.9 838.7h0M76.9 837.6h0M76.9 835.1h0M76.9 834.1h0M87.3 837.2h0M88.7 840.8h0M88.7 839.6h0M88.7 836.9h0M88.7 835.5h0M88.7 834.4h0M88.7 833.4h0M88.7 832.2h0M88.7 831.1h0M88.7 830.2h0M88.7 828.8h0M88.7 827.8h0M88.7 826.5h0M88.7 822.9h0M81.9 841.2h0M81.9 839.9h0M81.9 838.7h0M101.9 840.3h0M101.9 839.2h0M101.9 838.4h0M101.9 837.2h0M103.2 841.5h0M103.2 840.5h0M103.2 839.5h0M103.2 838.3h0M103.2 837.1h0M103.2 835.7h0M103.2 834.9h0M103.2 834h0M103.2 832.6h0M103.2 831.3h0M103.2 827.3h0M84.2 839.9h0M101.7 840.3h0M77.7 840h0M77.7 838.8h0M77.7 837.5h0M77.7 836.6h0M108.3 840.5h0M108.3 839.6h0M108.3 838.7h0M108.3 837.7h0M108.3 836.9h0M108.3 835.9h0M108.3 834.6h0M92.5 840.8h0M92.5 839.5h0M109.3 839.8h0M97 839.2h0M97 835.5h0M97 831.6h0M97 829.4h0M97 825.7h0M111.4 841h0M111.4 839.6h0M90.1 835.3h0M90.1 832.9h0M90.1 830.1h0M90.1 828.9h0M90.1 827.8h0M90.1 827h0M90.1 825.6h0M107 840.5h0M107 836.9h0M107 835.7h0M107 834.5h0M107 832.2h0M107 829.7h0M107 828.5h0M107 827.2h0M107 825.9h0M109.9 839.8h0M109.9 838.8h0M109.9 835.8h0M80.6 839.6h0M80.6 838.7h0M80.6 837.3h0M108.8 840.5h0M108.8 837.4h0M108.8 836.4h0M108.8 835.4h0M108.8 834.2h0M108.8 833.2h0M108.8 832.3h0M92.1 840.8h0M92.1 839.9h0M92.1 839.1h0M92.1 837.9h0M92.1 835.4h0M92.1 834.3h0M92.1 833.2h0M92.1 830.6h0M78.4 840.8h0M78.4 839.7h0M78.4 838.5h0M108.2 840.5h0M108.2 839.2h0M108.2 835.2h0M108.2 833.9h0M94.3 840h0M94.3 837.4h0M94.3 836.5h0M72.6 840.5h0M72.6 839.6h0M72.6 838.5h0M72.6 837.6h0M71.7 840.6h0M72.6 831.7h0M72.6 835.5h0M73.4 838.1h0M73.8 834.3h0M75.4 835.1h0M75.7 829.5h0M76.4 826.8h0M76.3 834.7h0M76.7 836.6h0M77.8 837.3h0M78.5 837.5h0M79.5 837.3h0M80.7 831.9h0M80.7 837.6h0M81.6 837.7h0M82.6 834.8h0M82.5 835.2h0M83.6 833.5h0M84.6 837.9h0M84.4 836.9h0M85.6 836.3h0M85.4 835.2h0M87.6 830.6h0M88.3 836.6h0M93.8 831.3h0M93.3 838.5h0M94.2 829.5h0M94.6 837.9h0M95.6 838.3h0M95.6 827.3h0M95.7 834.6h0M96.3 833.9h0M96.2 835.5h0M96.8 832.1h0M97.5 829h0M98.7 834.3h0M99.6 836.6h0M100.4 824.5h0M101.4 838.4h0M101.8 835.9h0M101.5 838.1h0M103.7 827.4h0M103.4 839.8h0M104.3 840.4h0M104.3 838h0M105.6 835.3h0M105.4 836.1h0M106.6 831.2h0M106.6 835.5h0M106.3 837.9h0M106.2 822.9h0M107.4 823.4h0M109.3 835.4h0M109.3 835.8h0M109.5 827.4h0M109.3 837.4h0M110.5 833.2h0M110.2 830.7h0M110.2 824.1h0M111.7 836.6h0M112.4 833.1h0M113.6 827.6h0M113.5 836.9h0M114.3 839.1h0M114.6 840.9h0M114.3 841.3h0M114.7 839.9h0M168.5 841.2h0M168.5 840.4h0M168.5 838h0M168.5 834.1h0M168.5 831.3h0M173.6 840.4h0M173.6 839.3h0M173.6 838h0M191.2 838.1h0M191.2 837.2h0M191.2 836.4h0M191.2 835.2h0M191.2 831.6h0M191.2 830.5h0M191.2 829.7h0M191.2 828.3h0M189.9 839.6h0M189.9 838.3h0M165.7 840.2h0M165.7 839.1h0M165.7 835.9h0M165.7 834.9h0M165.7 834.1h0M165.7 833.2h0M165.7 832.2h0M165.7 831.3h0M165.7 830.5h0M165.7 829.4h0M165.7 828.3h0M164.4 841.6h0M164.4 840.7h0M186.5 841.1h0M186.5 837.5h0M183 841.1h0M183 838.2h0M183 837h0M194.9 837.4h0M194.9 836.2h0M194.9 835.2h0M194.9 834.1h0M194.9 831.4h0M183.2 841.1h0M183.2 839.8h0M183.2 838.7h0M183.2 835.9h0M183.2 834.7h0M170.4 839.9h0M170.4 838.8h0M170.4 837.4h0M170.4 836h0M170.4 834.9h0M170.4 834h0M164.5 841.6h0M164.5 840.4h0M164.5 839.4h0M164.5 838.1h0M164.5 834.6h0M164.5 832.4h0M164.5 831.2h0M187.7 840.9h0M187.7 839.5h0M187.7 838.7h0M187.7 837.4h0M187.7 836.3h0M177.7 841.2h0M177.7 840.1h0M193.9 842.2h0M193.9 840.8h0M193.9 839.6h0M193.9 838.4h0M193.9 837.4h0M193.9 836.5h0M193.9 835.7h0M193.9 834.6h0M193.9 833.4h0M193.9 829.6h0M185.5 841.1h0M185.5 840.3h0M185.5 836.5h0M185.5 835.4h0M185.5 834.4h0M185.5 833h0M185.5 832.2h0M185.5 831.1h0M173.5 840.4h0M173.5 839.2h0M173.5 837.8h0M172.7 840.8h0M172.7 839.4h0M172.7 838.4h0M177.3 841.2h0M177.3 838.6h0M174.7 840.1h0M174.7 839h0M174.7 838.2h0M174.7 836.8h0M174.7 833.7h0M174.7 832.4h0M174.7 831.4h0M174.7 828.7h0M176.8 841.3h0M176.8 838.6h0M176.8 837.5h0M176.8 836.1h0M176.8 833h0M176.8 830h0M176.8 829.2h0M181.6 841.9h0M181.6 841.1h0M181.6 840.2h0M181.6 839.2h0M181.6 836.3h0M181.6 835h0M181.6 833.6h0M160.6 840.1h0M161.7 819.5h0M162.3 835.4h0M162.5 833.4h0M163.3 838.3h0M163.8 839.8h0M164.3 830h0M164.3 836.7h0M165.4 837.4h0M168.2 836.2h0M170.3 836.6h0M170.8 829.9h0M171.6 827h0M173.7 835.9h0M173.3 835.5h0M173.4 838.7h0M174.2 837.9h0M174.2 829.9h0M174.2 836.8h0M175.7 832.1h0M176.4 836h0M177.6 831.7h0M177.5 837.2h0M178.3 835h0M179.3 835.5h0M179.7 837.3h0M180.7 829.1h0M180.7 834.1h0M180.8 831.7h0M181.5 836.6h0M181.7 838.1h0M182.2 832.4h0M182.4 841.3h0M183.5 833.7h0M183.4 838.6h0M183.6 832.5h0M184.4 838.9h0M184.6 832.5h0M184.5 833.8h0M184.4 839.5h0M185.4 837.6h0M185.5 827.4h0M186.4 821.1h0M187.6 835h0M187.2 825.2h0M189.4 832.4h0M190.6 837.3h0M190.6 838.1h0M190.5 828.8h0M191.4 832h0M192.7 811.2h0M192.5 832.3h0M192.3 836.5h0M194.6 832.5h0M194.6 833.8h0M195.5 833.6h0M195.2 839.2h0M196.5 835.8h0M196.4 817.5h0M196.6 837.7h0M197.4 834.7h0M198.3 825.6h0M198.8 834.3h0M198.2 833.7h0M198.3 831.2h0M198.3 838.5h0M199.4 831.7h0M200.5 840.3h0M248.8 837.8h0M248.8 834.6h0M248.8 833.7h0M260.7 841.4h0M260.7 840h0M260.7 838.6h0M260.7 837.3h0M247.5 842.2h0M247.5 840.9h0M247.5 840.1h0M247.5 839.1h0M274.9 838.6h0M270.5 841.3h0M270.5 840.5h0M270.5 837.4h0M260.4 841.4h0M260.4 840.1h0M260.1 841.4h0M260.1 840.5h0M260.1 839.7h0M260.1 838.4h0M260.1 837.5h0M260.1 836.6h0M260.1 835.2h0M260.1 834.2h0M245.9 842.4h0M245.9 841.3h0M245.9 839.1h0M245.6 842.4h0M245.6 841.3h0M245.6 840.3h0M245.6 839h0M245.6 837.8h0M245.6 836.5h0M245.6 835.2h0M245.6 834.2h0M245.6 833h0M245.9 842.4h0M245.9 841.1h0M253.8 841.2h0M253.8 839.9h0M253.8 836.7h0M253.8 835.5h0M253.8 834.3h0M253.8 833.4h0M253.8 832.5h0M261.1 839.9h0M261.1 838.9h0M261.1 837.6h0M249.8 843.1h0M249.8 841.9h0M250.8 843h0M250.8 840.8h0M250.8 839.5h0M250.8 837.1h0M250.8 833.7h0M250.8 832.7h0M256.8 843.3h0M256.8 841.9h0M256.8 840.8h0M252.9 844.1h0M252.9 843.1h0M252.9 844.1h0M252.9 841.3h0M252.9 840.4h0M248 837.8h0M248 836.5h0M248 835.4h0M248 834.5h0M247.3 842.2h0M247.3 841.2h0M242.6 827.6h0M243.6 836h0M243.7 824.1h0M244.7 818.6h0M244.4 839.4h0M246.3 839.7h0M246.3 833.4h0M247.8 837.5h0M248.6 835.5h0M248.8 829.4h0M249.6 841.6h0M250.3 836.7h0M250.5 834h0M250.2 835.8h0M250.8 836.2h0M250.4 839.3h0M251.4 838.7h0M251.6 840h0M253.4 838.1h0M253.7 836h0M254.8 825.4h0M256.7 833.1h0M256.2 834.9h0M258.6 836.5h0M258.3 833.2h0M259.6 833h0M259.8 836.2h0M260.7 828.5h0M260.2 838.5h0M260.4 836.1h0M261.3 838h0M261.7 837.6h0M262.6 836.3h0M263.8 839.7h0M264.7 837.6h0M265.6 838h0M266.2 835.5h0M267.7 819.2h0M267.5 835h0M267.7 837.5h0M267.4 825.5h0M268.7 833.5h0M269.3 838.7h0M269.8 834h0M270.7 838.3h0M273.4 837.1h0M273.5 837.3h0M274.3 822.4h0M274.2 827.1h0M276.7 836.5h0M276.3 825h0M276.7 821.8h0M276.3 834h0M277.6 839.4h0M329.3 842.6h0M329.3 839.9h0M329.3 839h0M329.3 837.9h0M329.3 835.5h0M329.3 834.2h0M329.3 830.4h0M329.3 829h0M329.3 828h0M329.3 826.9h0M329.3 824.5h0M329.3 820.8h0M327.4 842h0M327.4 839.8h0M327.4 838.4h0M333.7 843.5h0M333.7 842.6h0M333.7 841.3h0M331.1 840.7h0M331.1 838.1h0M331.1 837.2h0M331.1 836.2h0M331.1 832.3h0M341.5 842.4h0M341.5 839.4h0M341.5 838.3h0M345.4 842.7h0M345.4 841.7h0M320.2 839.3h0M320.2 836.3h0M320.2 835.4h0M320.2 834.6h0M323.5 835.1h0M323.5 834h0M323.5 833.1h0M323.5 832.2h0M323.5 830.9h0M323.5 829.8h0M338.3 840.3h0M338.3 839.3h0M338.3 838h0M338.3 836.7h0M338.3 835.8h0M342 842.4h0M342 841.2h0M342 837.4h0M322.1 841.3h0M322.1 840.4h0M322.1 839.4h0M342.9 842.1h0M342.9 840.7h0M319.8 839.4h0M319.8 838.5h0M319.8 837.3h0M319.8 836.2h0M319.8 835.3h0M319.8 834.3h0M345.3 842.7h0M345.3 841.7h0M345.3 840.7h0M331.8 840.7h0M331.8 837.7h0M328.8 842h0M328.8 840.9h0M341.8 842.4h0M341.8 841.4h0M341.8 840h0M332.6 842.6h0M332.6 841.3h0M316.4 839.3h0M316.2 838.1h0M317.3 822.8h0M317.6 836.2h0M318.3 833.8h0M318.7 834.7h0M320.2 827.2h0M320.7 837.2h0M321.4 838.1h0M322.3 838.2h0M323.3 831.4h0M323.8 832.4h0M324.5 831.2h0M324.6 836.9h0M324.5 839.1h0M325.6 832.3h0M328.4 838.7h0M329.5 833.6h0M331.2 838h0M331.3 831.9h0M332.7 833.8h0M333.3 839.7h0M334.7 840h0M334.5 833.2h0M334.2 835.2h0M334.7 814.3h0M335.8 833.9h0M337.3 838.9h0M338.5 835.5h0M339.3 838.3h0M341.3 838h0M341.5 840.5h0M341.4 836.3h0M343.4 838.3h0M343.8 839.8h0M344.4 837.2h0M344.7 830.7h0M345.2 831.3h0M349.5 836.5h0M393.9 841.2h0M388.9 840.7h0M388.9 839.8h0M384 839.1h0M384 836.1h0M384 834.9h0M384 834h0M384 832.8h0M384 829.1h0M384 828h0M384 827.2h0M390.9 842.4h0M390.9 840h0M390.9 838.8h0M400.1 841.8h0M400.1 840.5h0M388.4 840.7h0M388.4 839.7h0M400.2 841.8h0M400.2 838.6h0M400.2 837.2h0M387.6 841.4h0M387.6 840.5h0M391.5 842.2h0M391.5 840.8h0M391.5 839.8h0M388.5 840.7h0M397.6 840.3h0M397.6 839.5h0M397.6 838.1h0M390.8 842.4h0M390.8 841.4h0M390.8 838h0M400.2 841.8h0M382.3 835.7h0M383.3 819.4h0M384.4 837.6h0M384.6 828.9h0M384.4 827.4h0M385.6 836.5h0M387.7 821.9h0M387.3 838h0M388.7 830.4h0M388.3 825.2h0M388.8 833.4h0M388.4 832h0M389.6 837.6h0M389.6 823.4h0M390.8 834.4h0M390.7 836.7h0M390.7 833.5h0M391.7 839.6h0M393.4 830.4h0M393.6 837.9h0M393.2 834.1h0M393.5 837.4h0M395.3 835.2h0M395.6 834.8h0M395.4 837.3h0M395.2 827.4h0M395.3 831.2h0M396.2 835.3h0M397.3 829.4h0M398.3 830.3h0M398.3 831.7h0M399.4 832.4h0M399.5 836.4h0M399.4 836.8h0M401.4 829.8h0M403.5 834.1h0M403.5 839.9h0M404.7 842h0M404.2 841.6h0M404.4 841.7h0M445.2 842.2h0M445.2 840.9h0M445.2 840h0M445.2 838.9h0M455.9 842.1h0M455.9 841.1h0M455.9 840.1h0M455.9 838.9h0M457.9 843h0M457.9 841.8h0M457.9 840.8h0M457.9 839.8h0M445 842.2h0M449.1 838.4h0M449.1 837.2h0M449.1 836.2h0M449.1 834.8h0M449.1 832.4h0M449.1 831.1h0M449.1 830.3h0M442.4 843.7h0M442.4 842.3h0M442.4 841h0M442.4 840.1h0M442.4 838.9h0M448.8 839.4h0M448.8 838.2h0M448.8 836.9h0M448.8 836.1h0M453.2 842.7h0M453.2 841.4h0M443.8 843.8h0M443.8 841h0M443.8 840.1h0M440.3 843.7h0M440.3 842.6h0M440.3 838.8h0M458.5 841.8h0M458.5 838.8h0M458.5 837.9h0M449.7 838.4h0M449.7 837.2h0M449.7 833.8h0M449.7 831.5h0M451.7 842h0M451.7 840.7h0M451.7 839.7h0M451.7 838.6h0M451.7 837.5h0M451.7 836.4h0M451.7 835.2h0M451.7 833.9h0M437 840.9h0M437 840h0M437 838.9h0M436.4 840.5h0M433.3 822h0M433.3 831.5h0M434.4 837.4h0M435.4 832.5h0M435.4 829.5h0M436.6 827.8h0M436.4 828.6h0M436.7 835.8h0M436.3 837.9h0M437.2 836.9h0M438.2 833.2h0M438.4 839.7h0M438.7 836.7h0M438.6 835.7h0M440.4 836h0M440.8 836.7h0M441.7 836.4h0M442.3 839.2h0M442.4 830.7h0M443.3 837.7h0M443.3 826.3h0M444.7 831.6h0M446.6 838.1h0M446.7 824.9h0M447.7 822.2h0M447.5 834.5h0M447.7 839.3h0M447.4 834.5h0M449.6 835.5h0M449.7 832.3h0M450.3 833.3h0M450.4 833.2h0M452.5 836.9h0M452.2 832h0M453.2 837.9h0M453.4 820.1h0M454.4 837.8h0M454.7 820.1h0M455.3 838.7h0M455.5 834.5h0M456.7 836h0M457.6 835.8h0M457.4 837.6h0M457.7 830.2h0M458.4 836.5h0M458.7 833h0M459.4 838.1h0M459.6 838.8h0M460.5 834.3h0M460.4 840.2h0M461.7 842.2h0M495.2 842.2h0M495.2 841.3h0M492.3 841.3h0M492.3 839.9h0M492.3 838.5h0M506 840.4h0M506 839.3h0M506 838.3h0M496.1 842h0M496.1 840.7h0M496.1 839.6h0M503.3 840.8h0M503.3 838.5h0M503.3 837.3h0M503.3 835h0M503.3 832.6h0M503.3 830.1h0M503.3 828.8h0M500 840.4h0M500 839.2h0M500 838.1h0M500 836.8h0M506.3 836.2h0M506.3 835.2h0M506.3 834.1h0M506.3 833.2h0M506.3 831.9h0M495.5 842.2h0M495.5 841.1h0M495.3 842.2h0M495.3 839.4h0M495.3 838.3h0M505.8 840.4h0M505.8 839.1h0M505.8 838.3h0M498.3 836h0M498.3 834.9h0M498.3 833.7h0M489.7 840.2h0M489.8 838.7h0M489.4 832.7h0M490.5 840.7h0M491.4 833.3h0M492.2 833h0M493.6 829.3h0M494.6 839h0M496.2 839.1h0M496.2 831h0M496.3 833.1h0M497.4 834.6h0M498.7 822.3h0M498.6 822.8h0M498.5 822.5h0M499.7 830.1h0M500.4 836.6h0M500.3 836.6h0M501.6 835.7h0M501.5 829.4h0M501.7 838.8h0M501.8 829.4h0M501.4 822h0M502.3 823.6h0M502.3 833.4h0M502.4 838.4h0M503.4 839.2h0M503.8 835.6h0M504.3 829.9h0M504.5 829.6h0M506.4 812.6h0M507.2 826.2h0M507.2 831.4h0M507.5 838.5h0M507.3 837.4h0M509.7 841.4h0M509.6 838.6h0M509.7 831.7h0M509.3 841.2h0M535.9 841h0M535.9 840.2h0M535.9 836.9h0M535.9 835.9h0M539.4 842.4h0M539.4 841.2h0M539.4 840.3h0M539.4 837.5h0M539.4 836.6h0M539.4 835.4h0M539.3 842.4h0M539.3 840.2h0M537.7 841.3h0M537.7 840.4h0M537.7 839.1h0M537.7 838.2h0M534.8 841.6h0M534.8 840.4h0M534.8 839h0M536.3 840.5h0M536.3 839.2h0M542.3 842.5h0M542.3 841.3h0M542.3 840.3h0M539.1 842.4h0M539.1 839.7h0M541.2 839.8h0M541.2 838.9h0M541.2 838h0M541.2 835.4h0M541.2 833.1h0M541.2 829.4h0M541.2 828.2h0M528.2 838.6h0M531.7 839.2h0M532.5 823.6h0M532.5 825.9h0M532.6 828.7h0M533.3 838h0M534.7 823.7h0M534.5 837.7h0M535.2 832h0M536.4 834.5h0M536.7 834.8h0M537.6 836.2h0M537.5 831.7h0M538.5 838.3h0M540.8 834.2h0M540.7 835.3h0M541.4 829.6h0M541.4 835.8h0M543.6 840.5h0M543.8 838h0M543.4 840.6h0M543.6 837.2h0M543.2 833.5h0M543.3 836.8h0M543.5 838.8h0M543.4 835.7h0M543.4 837.7h0M567.1 841h0M567.1 840h0M567.1 837.3h0M567.1 836.2h0M567.1 835h0M567.1 834.1h0M567.1 831.3h0M571.9 842.1h0M571.9 840.7h0M571.9 838.1h0M568.5 841h0M571.2 842.1h0M571.2 840.8h0M571.2 839.7h0M571.2 838.7h0M571.2 835.8h0M571.2 831.9h0M569.1 842.1h0M569.1 839.8h0M564.2 842.5h0M566.1 841.4h0M566.1 840.1h0M566.1 839.1h0M570.4 841.6h0M570.4 839.3h0M561.6 839.1h0M562.4 836.7h0M563.8 835h0M563.3 839.8h0M563.6 837.2h0M563.3 839.8h0M563.4 837.8h0M564.5 835.9h0M564.5 839h0M565.4 837.6h0M565.5 832.6h0M565.4 834h0M565.7 833.3h0M566.3 835.4h0M566.6 839.8h0M566.7 839.7h0M567.7 837h0M567.6 834.2h0M567.4 832.5h0M567.6 835.1h0M568.6 831.1h0M569.7 836.8h0M570.6 837h0M570.5 834.2h0M571.2 832.3h0M572.7 825.9h0M573.3 840.5h0M573.4 830.5h0M575.3 838.1h0M576.4 841.6h0M576.4 833.2h0M576.5 841.4h0M576.3 836.9h0M604.6 842.5h0M604.6 841.5h0M604.6 840.2h0M604.6 839h0M604.6 838.2h0M604.6 837h0M604.6 835.8h0M598.5 841.5h0M598.5 840.2h0M598.5 839.1h0M598.5 838.2h0M598.5 837h0M602.3 841.9h0M602.3 840.8h0M602.3 839.6h0M602.3 838.5h0M602.3 837.7h0M604.3 842.5h0M604 842.5h0M604 841.5h0M604 840.5h0M604 836.5h0M598 842h0M598 841.1h0M598 840.2h0M598 838.8h0M598 836.3h0M598 835.3h0M598 834.3h0M602.8 841.9h0M593.2 838.2h0M593.7 841.8h0M593.7 836.5h0M594.3 837.3h0M594.3 840.1h0M596.5 834.1h0M597.4 838.7h0M597.4 839h0M597.7 840.1h0M598.5 825.1h0M600.6 835.9h0M600.6 838.8h0M600.3 836.4h0M600.8 838.7h0M601.4 809.2h0M601.7 836.2h0M602.5 835.1h0M602.2 837.9h0M604.7 831.4h0M604.4 836.4h0M605.6 839.2h0M605.3 829.5h0M605.5 834.9h0M607.4 834h0M607.6 823h0M607.5 837.7h0M607.4 832.1h0M624.5 840.8h0M624.5 837.5h0M624.5 834.9h0M624.5 833.6h0M624.5 832.8h0M621.9 840.8h0M621.9 839.6h0M621.9 838.3h0M621.9 837h0M623.5 836.4h0M623.5 834.1h0M622.7 839h0M622.7 835.2h0M620.6 839h0M621.7 837.5h0M621.3 817.6h0M624.4 838.7h0M624.3 836.3h0M625.4 832.4h0M643.7 839.1h0M643.7 835.7h0M643.7 834.8h0M646.6 842h0M646.6 840.8h0M646.6 839.9h0M651.5 838.9h0M651.5 835.5h0M639.9 839.1h0M639.9 838h0M639.9 837.2h0M644.4 840.9h0M644.4 840h0M644.4 839.2h0M644.8 840.9h0M644.8 838.2h0M644.8 837.2h0M648.6 841.1h0M648.6 839.8h0M648.6 837.4h0M648.6 836.3h0M638.1 836.5h0M638.1 833.6h0M638.1 831.3h0M638.1 830.3h0M638.1 829.3h0M638.1 828.1h0M638.1 827h0M638.1 825.8h0M638.1 824.5h0M649.9 840.9h0M649.9 840.1h0M649.9 838.8h0M649.9 837.6h0M649.9 836.4h0M649.9 835.5h0M652.6 841.7h0M652.6 840.7h0M652.6 839.3h0M652.6 838.1h0M640.4 837h0M640.4 835.8h0M640.4 832.1h0M640.4 829h0M634.4 835.4h0M635.3 832.3h0M636.6 836.3h0M636.7 838.3h0M637.6 838.4h0M637.3 831.7h0M639.5 837.4h0M640.7 830.5h0M640.4 834.8h0M640.7 831.6h0M641.3 828.4h0M641.6 829.8h0M642.8 833.6h0M645.3 834.2h0M646.6 837.8h0M647.4 833.1h0M648.6 832.6h0M648.3 838.2h0M648.5 839h0M649.2 823.8h0M649.7 836.2h0M650.2 821.2h0M651.7 832.7h0M651.5 826.6h0M651.6 835.5h0M651.5 824.2h0M652.7 838h0M654.5 839.1h0M654.5 830.9h0M654.5 839.9h0M655.4 837.4h0M330.6 841.5h0M330.6 840.5h0M330.6 839.5h0M330.6 838.5h0M330.6 837.5h0M330.6 836.5h0M324.8 841.5h0M324.8 840.5h0M324.8 839.5h0M324.8 838.5h0M324.8 837.5h0M324.8 836.5h0M324.8 835.5h0M324.8 834.5h0M326.1 841.5h0M326.1 840.5h0M326.1 838h0M326.1 837h0M326.1 836h0M325.3 841.5h0M325.3 840.5h0M325.3 839.5h0M325.3 837.1h0M325.3 836.1h0M324.4 841.5h0M324.4 840.5h0M324.4 839.5h0M324.4 838.5h0M324.4 835.3h0M539.9 841.5h0M539.9 840.5h0M539.9 839.5h0M539.9 837.5h0M539.9 836.5h0M538.6 841.5h0M538.6 840.5h0M538.6 839.5h0M538.5 841.5h0M538.5 840.5h0M538.5 837.5h0M538.5 836.5h0M538.5 835.5h0M537.6 841.5h0M537.6 840.5h0M537.6 839.5h0M537.6 838.5h0M537.6 836.4h0M539.4 841.5h0M539.4 840.5h0M537.7 841.5h0M537.7 840.5h0M537.7 839.5h0M537.7 836.6h0M537.7 835.6h0M537.7 834.6h0M348.5 841.5h0M348.5 840.5h0M348.5 839.5h0M341.8 841.5h0M341.8 840.5h0M341.8 839.5h0M342.6 841.5h0M342.6 840.5h0M323 816h0M323.5 819h0M321 821h0" stroke="#4a78ff" stroke-width="2.1" stroke-linecap="round" fill="none"/>
<path d="M151.1 838.5h0M151.1 837.3h0M151.1 836.3h0M144.9 836.9h0M144.9 836h0M144.9 835.1h0M144.9 833.9h0M148.3 838.8h0M148.3 837.7h0M148.3 836.5h0M148.3 835.5h0M148.3 834.4h0M148.3 833.6h0M148.3 831h0M150.9 842.3h0M150.9 839.6h0M155 841.8h0M155 840.5h0M155 839.6h0M131.7 842.8h0M131.7 841.7h0M142.1 839.6h0M142.1 838.6h0M142.1 836.4h0M142.1 832.7h0M142.1 829.7h0M142.1 826.3h0M146.1 838.2h0M146.1 835.5h0M152.3 840.6h0M152.3 839.4h0M145.8 840.1h0M145.8 836.5h0M140 841.3h0M140 837.8h0M140 836.9h0M140 833.8h0M140 832.9h0M140 832h0M140 831.1h0M140 827.8h0M140 827h0M140 825.9h0M140 824.8h0M153.1 841.4h0M135 840.2h0M135 838.9h0M135 835.4h0M135 834.5h0M135 833.2h0M156.4 839h0M156.4 838.1h0M135.5 841.9h0M135.5 840.6h0M135.5 839.2h0M156.1 839h0M156.1 837.7h0M156.1 836.8h0M156.1 836h0M149 838.8h0M149 837.9h0M149 836.7h0M149 835.8h0M144.1 836.9h0M152.3 840.6h0M152.3 838h0M135 841.9h0M141.2 838.7h0M141.2 837.3h0M141.2 834.3h0M130.9 841.6h0M121.4 840.1h0M121.4 839.2h0M121.4 838.3h0M126.2 839.1h0M126.2 835.7h0M126.2 834.9h0M126.2 832.3h0M126.2 831.2h0M120.5 837.9h0M120.5 836.5h0M120.5 835.5h0M120.5 834.3h0M114.3 829.7h0M114.3 836.4h0M114.4 837h0M114.6 838.7h0M115.3 840.9h0M115.3 825.4h0M115.7 840.5h0M116.2 826.9h0M116.5 826.2h0M117.5 836.5h0M118.7 834h0M119.5 837.6h0M119.6 830.9h0M120.8 835.5h0M120.6 829h0M121.4 832.9h0M121.4 837.1h0M123.4 836.5h0M123.4 822.8h0M125.2 834h0M126.7 831.7h0M126.5 837.4h0M126.6 833.7h0M126.4 837.6h0M128.6 836.8h0M129.4 839.5h0M129.5 824.6h0M131.5 837.6h0M132.7 839.9h0M132.5 836.6h0M132.3 839.6h0M133.3 832.1h0M136.8 819.2h0M136.7 837.6h0M136.5 838h0M137.6 836.4h0M138.5 833.8h0M140.5 837.9h0M140.7 836.7h0M140.8 838.7h0M141.5 834.2h0M142.5 833h0M143.5 837.5h0M144.5 834h0M144.5 831.6h0M145.2 835.2h0M146.2 828h0M146.7 825.2h0M146.2 828.3h0M147.2 833.9h0M147.7 830.8h0M148.6 835.7h0M150.4 840.4h0M153.8 835.3h0M154.4 837h0M154.8 837h0M154.4 832.1h0M154.5 812.1h0M154.4 829.9h0M155.6 835.6h0M156.5 834h0M158.5 835.8h0M158.3 835h0M160.7 830h0M211.1 841.8h0M206.9 842.3h0M206.9 839h0M206.9 837.6h0M227.5 839.3h0M227.5 838.4h0M232.5 840.6h0M232.5 839.3h0M211.9 841.8h0M211.9 839.3h0M211.9 838.2h0M211.9 837.2h0M211.9 836h0M222.7 840.6h0M222.7 839.5h0M222.7 838.4h0M222.7 837.1h0M222.7 836.3h0M223.4 840h0M223.4 839h0M223.4 837.6h0M216.4 841.9h0M216.4 841.1h0M216.4 839.7h0M216.4 836.7h0M206.8 842.3h0M206.8 841.3h0M206.8 839h0M206.8 835.5h0M206.8 834.6h0M206.8 833.7h0M206.3 842.3h0M206.3 841h0M206.3 840.1h0M206.3 839h0M206.3 837.8h0M212.8 843.6h0M205.7 842.5h0M230.5 838.1h0M230.5 836.9h0M230.5 835.6h0M230.5 834.7h0M226 835.3h0M226 831.5h0M226 828.9h0M226 827.6h0M226 826.4h0M216.7 841.9h0M216.7 840.7h0M216.7 839.8h0M216.7 838.9h0M216.7 837.8h0M216.7 835.2h0M216.7 834.1h0M216.7 831.3h0M216.7 830.1h0M213.5 842.8h0M213.5 841.8h0M213.5 840.8h0M225.8 841.5h0M227.4 839.3h0M227.4 838.3h0M227.4 837.4h0M207.2 842.6h0M207.2 841.8h0M207.2 840.7h0M207.2 839.4h0M207.2 838.4h0M207.2 834.6h0M218.5 839.8h0M218.5 838.4h0M218.5 837.5h0M218.5 836.6h0M218.5 833.4h0M218.5 832h0M215.3 842.4h0M215.3 841.2h0M215.3 838.9h0M215.3 838.1h0M215.3 835.1h0M235.2 840.6h0M235.2 837.3h0M235.2 836.2h0M235.2 833.4h0M202.4 840h0M204.6 835.9h0M204.4 835.6h0M205.6 837.2h0M205.8 823.8h0M206.3 829.2h0M206.2 837h0M206.3 834.9h0M208.6 836.4h0M208.5 835.3h0M208.7 838.4h0M208.7 818.3h0M208.5 827.9h0M208.6 838h0M209.2 828.7h0M209.6 837.4h0M209.4 830.5h0M210.7 836.6h0M211.8 830.8h0M212.2 838.3h0M213.7 831.3h0M213.4 832.8h0M213.5 839.1h0M213.8 836h0M214.6 834.9h0M214.7 830h0M216.5 836.6h0M216.6 840.1h0M217.6 835h0M217.8 838.4h0M217.4 834.9h0M218.8 829.5h0M219.2 825.8h0M219.7 839.1h0M219.5 836.5h0M220.3 835.8h0M220.4 833.1h0M220.2 833.1h0M221.7 834.3h0M221.7 837.8h0M222.4 834.6h0M222.5 837.9h0M222.5 833.4h0M223.6 836.6h0M223.6 827.4h0M223.4 821.2h0M223.7 835.5h0M223.8 836.7h0M224.4 838.2h0M226.7 831.1h0M226.5 827h0M226.3 825.3h0M227.3 836.1h0M228.7 837.6h0M229.5 834.7h0M229.8 835.5h0M229.6 834.2h0M229.5 828.8h0M230.3 834.7h0M231.2 823h0M231.5 813.5h0M233.8 837.1h0M233.5 829.8h0M233.2 823.7h0M234.5 830.3h0M234.3 832.6h0M235.7 817.6h0M236.2 834.8h0M237.7 825.7h0M238.7 834.1h0M239.5 838.6h0M240.6 832.3h0M241.7 840h0M241.3 821.8h0M241.4 839.6h0M286.1 839.4h0M286.1 838.3h0M313.7 839.7h0M313.7 838.5h0M313.7 837.4h0M313.7 836.1h0M313.7 832.2h0M313.7 831.4h0M313.7 830.3h0M281.8 842.6h0M281.8 841.5h0M281.8 840.6h0M281.8 839.4h0M281.8 838.4h0M281.8 837.1h0M281.8 836.2h0M281.8 834.9h0M281.8 834.1h0M288.4 842.1h0M288.4 839.1h0M288.4 838.1h0M288.4 837.3h0M288.4 835h0M288.4 832h0M310.1 842.2h0M310.1 841.4h0M311.4 840.1h0M311.4 838.9h0M311.4 837.8h0M311.4 836.6h0M304.4 841.6h0M304.4 840.5h0M304.4 838.2h0M304.4 835.3h0M304.4 831.6h0M282.5 841.6h0M282.5 837.8h0M282.5 835h0M282.5 833.9h0M309.8 841.6h0M309.8 840.6h0M309.8 837.4h0M309.8 836.4h0M309.8 835.4h0M309.8 834.4h0M313.6 839.7h0M313.6 836.7h0M313.6 835.4h0M288.8 842.1h0M288.8 841.3h0M288.8 840.2h0M311 842.2h0M311 841.1h0M311 840h0M291.7 841.4h0M291.7 840.6h0M291.7 839.7h0M291.7 838.8h0M293.8 839.5h0M293.8 838.2h0M293.8 836.9h0M301.8 841.1h0M301.8 837.3h0M301.8 836.4h0M301.8 835.1h0M301.8 833.7h0M299.9 838.5h0M299.9 837.2h0M286.5 839.4h0M286.5 835.8h0M286.5 834.9h0M288.7 842.1h0M285.8 839h0M285.8 837.8h0M301.9 841.1h0M301.9 838.2h0M301.9 836.9h0M301.9 836h0M292.2 840.5h0M292.2 839.3h0M292.2 838.2h0M278.5 842h0M278.8 832.3h0M279.8 837h0M279.5 839.8h0M280.7 840.8h0M280.5 836.7h0M281.2 817.7h0M282.7 838.5h0M282.5 835.8h0M283.4 832.1h0M284.8 817.7h0M284.8 838.8h0M286.5 834.2h0M287.8 837.8h0M287.7 833.9h0M287.7 834h0M287.7 838.5h0M287.7 836h0M288.4 836.5h0M290.6 834.6h0M291.8 838.7h0M292.7 838.2h0M292.6 830.4h0M294.7 832.6h0M295.4 826.8h0M295.4 837.7h0M295.5 834.5h0M296.6 837.7h0M297.3 838.1h0M297.4 837.4h0M297.7 813.9h0M298.2 823.7h0M298.7 839.6h0M298.4 834.4h0M299.7 833.2h0M300.6 836.9h0M300.6 834.7h0M300.3 837.1h0M302.5 827.7h0M303.3 834.5h0M303.4 840h0M303.4 825.7h0M305.2 835.9h0M305.4 835.4h0M306.2 832.9h0M307.6 818.7h0M307.4 838.2h0M307.3 837.6h0M307.5 832.7h0M308.3 834.4h0M308.3 838.5h0M309.5 836.7h0M310.7 830.4h0M311.3 832.4h0M312.3 828.6h0M312.6 828.6h0M313.6 835.3h0M315.8 839.5h0M315.4 831.6h0M316.5 832.4h0M371.5 841.5h0M371.5 840.4h0M371.5 839.5h0M371.5 836.3h0M371.5 835.1h0M371.5 834h0M371.5 830.2h0M371.5 828.9h0M371.5 825.8h0M374 837.4h0M374 836.3h0M374 835h0M372.2 841.5h0M372.2 840.4h0M372.2 839.6h0M369.7 841.7h0M369.7 838.8h0M369.7 837.7h0M370.5 840.9h0M370.5 837.7h0M365.3 839.8h0M365.3 837.4h0M365.3 836h0M368.7 840.7h0M368.7 837h0M368.7 835.7h0M368.7 832.8h0M368.7 829.1h0M368.7 827.9h0M373.4 837.4h0M373.4 836.5h0M373.4 833.5h0M375 840.9h0M375 840h0M375 837h0M375 835.6h0M359.9 841.1h0M359.9 840.3h0M359.9 839.4h0M359.9 836.5h0M359.9 835.5h0M359.9 834.4h0M377.4 839.8h0M377.4 838.7h0M377.4 837.4h0M372.6 841.5h0M372.6 840.6h0M372.6 839.6h0M377.9 839.8h0M377.9 837h0M377.9 836h0M377.9 835h0M377.9 832.4h0M377.9 829.9h0M377.9 829h0M377.9 827.8h0M353.9 841.2h0M353.9 839h0M353.9 837.8h0M353.9 836.7h0M353.9 835.9h0M375.3 840.9h0M375.3 838.1h0M375.3 836.8h0M375.3 835.5h0M375.3 834.4h0M375.3 831.2h0M358.4 841.2h0M358.4 838.5h0M358.4 835.9h0M356 842.8h0M356 839.9h0M356 837.3h0M356 834.2h0M356 833.1h0M356 832.1h0M356 831.1h0M356 830.2h0M356 827.6h0M356 826.5h0M351.5 840.1h0M352.5 824.5h0M352.8 814.1h0M353.3 830.8h0M353.5 837.6h0M354.7 834.1h0M354.4 837h0M354.5 839.5h0M355.2 838.6h0M356.3 839.3h0M356.7 839.1h0M357.3 840h0M357.4 832.4h0M358.4 831.7h0M359.4 836.5h0M359.2 836.8h0M360.6 832.7h0M361.2 832h0M362.4 839.9h0M362.3 837.4h0M363.7 839.3h0M364.7 826.1h0M364.8 835.4h0M364.6 839.1h0M366.8 834.4h0M367.5 840h0M367.2 835.3h0M367.4 840.3h0M367.5 833.8h0M368.3 839.1h0M368.8 830.6h0M369.8 833.5h0M369.3 837.4h0M370.7 817h0M370.7 838.7h0M371.4 838h0M371.8 836h0M372.7 835.5h0M372.5 826.3h0M373.4 825.3h0M375.7 835.2h0M376.4 838.9h0M378.8 837h0M379.4 834.2h0M379.6 834.6h0M379.6 833.2h0M380.2 835.5h0M381.3 842.3h0M426.4 840h0M426.4 839.1h0M426.4 838.1h0M426.4 834.6h0M426.4 833.3h0M426.4 832.5h0M420.1 839.8h0M420.1 835.9h0M420.1 834.6h0M420.1 833.7h0M420.1 832.4h0M414 841.7h0M414 840.7h0M414 839.7h0M414 836.9h0M419.2 839.9h0M419.2 839.1h0M419.2 838h0M419.2 834h0M419.2 830.6h0M419.2 827.7h0M419.2 826.5h0M419.2 825.3h0M419.2 824.2h0M409.6 838h0M409.6 835.1h0M412.5 842.2h0M412.5 841.3h0M412.5 838.5h0M410.7 839.2h0M410.7 836.2h0M416.2 841.6h0M416.2 840.6h0M416.2 839.7h0M412.2 842.2h0M412.2 841.3h0M412.2 839.1h0M412.2 837.7h0M412.2 836.7h0M412.2 835.7h0M412.2 834.5h0M412.2 831.1h0M416.1 841.6h0M416.1 840.3h0M430.3 840.7h0M417.7 840.8h0M417.7 839.7h0M417.7 838.7h0M418.8 841.9h0M415.2 840.4h0M415.2 837.9h0M415.2 836.9h0M412.2 842.2h0M405.6 838.2h0M405.7 826.1h0M405.5 832h0M406.3 837h0M408.2 836.4h0M409.7 833.9h0M409.6 832.5h0M409.6 834.3h0M410.2 819.4h0M411.2 837.1h0M412.8 839.4h0M412.4 836.7h0M414.2 839.3h0M414.8 833.1h0M415.6 830h0M416.6 836.1h0M418.6 839.2h0M419.7 823.3h0M419.5 828.8h0M420.3 829.4h0M420.6 836.7h0M420.8 838h0M421.8 808.4h0M421.3 837.6h0M421.3 837.4h0M422.5 835.2h0M422.5 832.4h0M422.7 830.1h0M423.2 837.9h0M423.8 835.9h0M423.3 838.3h0M423.6 829.1h0M423.3 836h0M425.6 837.3h0M427.7 834.6h0M428.4 834.2h0M428.4 832.8h0M429.4 837.7h0M429.7 832.4h0M429.3 831.5h0M429.8 836.1h0M429.4 834.5h0M430.4 837.5h0M430.2 836.7h0M431.6 833.7h0M431.4 836.4h0M431.7 818.4h0M431.6 829.3h0M431.6 836.8h0M432.5 840.8h0M432.7 832.7h0M433.6 838h0M433.5 838.2h0M482 840.2h0M482 839.1h0M484.4 839.4h0M484.4 838.6h0M484.4 837.4h0M484.8 839.4h0M472.6 840.9h0M472.6 838h0M480.8 839.9h0M480.8 838.7h0M480.8 835.4h0M480.8 834.5h0M468.8 841.3h0M468.8 840.2h0M468.8 838.9h0M468.8 837.7h0M468.8 834.3h0M484.3 839.4h0M484.3 838.4h0M484.3 837.4h0M469.3 840.5h0M469.3 839.7h0M472.8 840.9h0M472.8 840.1h0M472.8 839h0M472.8 837.7h0M472.8 836.8h0M473.1 841.3h0M473.1 838.4h0M473.1 837.2h0M473.1 836h0M473.1 835.1h0M469.3 840.5h0M469.3 839.2h0M469.3 837.9h0M483.7 836.7h0M483.7 835.7h0M483.7 834.6h0M483.7 833.4h0M483.7 832.2h0M466.2 842.1h0M466.2 839h0M466.2 838.1h0M466.2 834.8h0M484.4 839.4h0M484.4 838.1h0M484.4 836.8h0M484.4 835.6h0M465.6 842.9h0M465.6 841.6h0M465.6 840.7h0M461.6 836.7h0M461.6 842.5h0M462.6 840.9h0M462.4 828.4h0M463.3 838.1h0M463.6 828h0M464.7 837.7h0M464.2 837.8h0M465.5 837.6h0M466.8 838.7h0M466.7 835.9h0M468.4 833h0M468.6 836.8h0M469.5 835h0M470.7 834h0M471.4 834.7h0M471.7 828.8h0M473.3 838.6h0M474.3 831.3h0M475.4 839.9h0M475.7 838.4h0M477.3 832.1h0M477.7 837.6h0M477.3 834.8h0M479.6 832.9h0M479.3 833.1h0M479.5 835.4h0M480.6 837.3h0M482.3 832.7h0M482.5 829.3h0M482.7 833h0M485.8 835h0M485.3 837.5h0M485.4 832.7h0M486.4 836.2h0M487.7 837.3h0M487.5 834.5h0M489.2 838.5h0M489.3 824.7h0M517.6 840.5h0M517.6 837.1h0M517.6 833.5h0M519.2 840.7h0M519.2 839.7h0M519.2 838.6h0M519.9 840.7h0M519.9 839.9h0M519.9 836.7h0M519.9 834.2h0M519.9 833h0M519.9 831.9h0M523.5 841.1h0M523.5 837.8h0M523.5 836.8h0M523.5 835.5h0M523.5 834.4h0M517.3 840.5h0M517.3 839.1h0M517.3 838.3h0M516.2 840.1h0M516.2 839h0M516.2 838.2h0M516.2 837.2h0M516.2 834.6h0M522.8 837.8h0M522.8 836.6h0M520.3 839.6h0M520.3 838.7h0M520.3 837.6h0M520.3 836.2h0M522.5 837.8h0M522.5 836.7h0M522.5 835.6h0M518.7 838.9h0M518.7 838.1h0M518.7 835.5h0M509.4 836.7h0M509.7 835.8h0M510.2 837.4h0M510.4 840.9h0M510.4 834.5h0M513.6 831.1h0M513.3 825.4h0M513.5 827.8h0M513.3 825.2h0M513.5 828.4h0M514.6 834.4h0M514.6 834.4h0M515.8 822.1h0M519.5 838.2h0M519.7 836.6h0M520.5 833.9h0M521.5 836.2h0M521.6 839.2h0M521.3 838.5h0M523.4 839.4h0M523.3 838.3h0M524.4 838.6h0M524.5 838.6h0M524.5 826.2h0M524.4 834.4h0M524.3 838.8h0M525.6 834.2h0M525.4 839.9h0M526.2 840.6h0M526.2 839.5h0M527.6 840.2h0M527.6 835h0M527.2 838.8h0M552.3 842.7h0M552.3 841.8h0M552.3 840.7h0M552.3 837.7h0M552.3 836.5h0M552.3 835.4h0M558.5 841.4h0M558.5 840.4h0M558.5 839.4h0M550 844h0M550 842.7h0M550 838.8h0M550 837.8h0M550 834.1h0M550 833.1h0M550 832h0M553.5 841.5h0M553.5 840.4h0M553.5 839h0M553.5 838.1h0M553.5 837.2h0M553.5 836.2h0M555.4 840.1h0M555.4 837.8h0M558.1 841.4h0M549.7 844.1h0M549.7 843h0M549.7 842h0M549.7 841.1h0M551.5 841.4h0M555.5 840.1h0M555.5 839.1h0M555.5 838.1h0M555.5 837.3h0M544.7 834.8h0M546.3 824.2h0M547.6 827.1h0M547.7 839.2h0M547.7 839.1h0M547.5 839.2h0M550.2 839.8h0M553.4 839.3h0M553.7 839.9h0M554.2 830.8h0M554.4 839h0M554.4 838.6h0M555.7 831.7h0M555.5 836.8h0M556.4 834.2h0M556.2 828.5h0M557.6 831.6h0M557.7 838.1h0M557.7 837.1h0M558.8 839.9h0M559.6 833.9h0M559.7 838.9h0M560.3 837.2h0M561.4 840.3h0M561.7 841.3h0M561.5 823.2h0M586.2 843.6h0M586.2 842.4h0M586.2 840h0M580.3 841.6h0M580.3 839.1h0M580.3 837.7h0M580.3 836.6h0M588.1 841.4h0M588.1 837.5h0M588.1 835.2h0M588.1 833.8h0M581.2 840.2h0M581.2 837.9h0M588.2 841.4h0M588.2 838.9h0M589.1 843.4h0M589.1 840.9h0M589.1 839.8h0M589.1 838.9h0M589.1 835.5h0M579.9 841.1h0M588.4 841.4h0M578.7 820.9h0M579.8 834.8h0M579.7 838.3h0M579.4 821.4h0M580.6 839.4h0M580.6 836.5h0M580.4 838.7h0M581.6 837.6h0M582.5 829h0M582.6 829.6h0M582.8 833.8h0M583.7 809.9h0M584.5 837h0M584.4 832.1h0M584.5 838.9h0M585.6 836h0M586.5 842h0M587.5 840.1h0M587.4 811.9h0M588.6 835.2h0M589.3 817.4h0M590.7 836.8h0M590.5 839.1h0M590.7 818.9h0M590.6 839h0M591.6 836.5h0M591.6 839.9h0M592.5 837.1h0M592.5 840.8h0M593.3 840.7h0M614.1 838.7h0M614 838.7h0M614 837.3h0M613.4 837.8h0M613.4 836.9h0M613.4 835.8h0M613.4 834.7h0M612.2 839.7h0M612.2 836h0M612.2 833.1h0M612.2 832h0M610.1 841.1h0M610.1 840h0M610.1 837.6h0M610.1 836.3h0M615.3 839.8h0M615.3 835.9h0M615.3 835h0M615.3 833.9h0M607.2 841.4h0M607.7 825.5h0M607.4 837.4h0M608.5 840.5h0M608.6 840.1h0M608.6 833.4h0M612.7 836.1h0M612.4 832.7h0M612.3 836.6h0M613.7 830.9h0M613.4 821.7h0M614.7 823.3h0M614.5 836.2h0M615.6 837.2h0M615.7 835.7h0M615.3 829.4h0M616.7 838.5h0M618.4 839.8h0M618.5 829.8h0M618.5 836.2h0M630.1 843.5h0M630.1 842.6h0M629.5 843.6h0M629.5 840.8h0M629.5 840h0M630.6 843.5h0M630.6 840.3h0M630.6 839.3h0M631.7 844.4h0M631.7 843.6h0M627.8 840.9h0M628.6 841h0M628.5 827.6h0M629.3 841h0M629.5 841.7h0M631.8 839h0M631.7 839.6h0M632.6 840.2h0M632.4 840.6h0M633.4 841.2h0M633.3 839.9h0M633.5 832.2h0M633.6 837.3h0M634.7 833.8h0M634.8 834.9h0M634.6 840.9h0M529.6 841.5h0M525.2 841.5h0M531.6 841.5h0M532.5 841.5h0M511.3 841.5h0M520.6 841.5h0M521.5 841.5h0M527 841.5h0M529.3 841.5h0M519.8 841.5h0M525.8 841.5h0M528.9 841.5h0M550.5 841.5h0M550.7 841.5h0M556.8 841.5h0M555.5 841.5h0M316.4 841.5h0M316.4 840.5h0M316.4 839.5h0M316.4 838.5h0M316.4 837.5h0M316.4 836.5h0M316.4 835.5h0M316.6 841.5h0M316.6 840.5h0M316.6 839.5h0M316.6 837.3h0M316.6 836.3h0M311 841.5h0M311 840.5h0M311 839.5h0M311 838.5h0M311 837.5h0M311 836.5h0M316 841.5h0M316 840.5h0M316 839.5h0M309 841.5h0M309 840.5h0M309 839.5h0M127.6 841.5h0M127.6 840.5h0M127.6 839.5h0M127.6 838.5h0M127.6 837.5h0M127.5 841.5h0M127.5 840.5h0M127.5 837.3h0M126.1 841.5h0M126.1 840.5h0M126.1 839.5h0M126.1 838.5h0M126.1 837.5h0M120.8 841.5h0M120.8 840.5h0M120.8 839.5h0M120.8 838.5h0M120.8 837.5h0M120.8 836.5h0M143.7 841.5h0M143.7 839.4h0M143.7 838.4h0M153.4 841.5h0M153.4 840.5h0M153.4 839.5h0M153.4 838.5h0M151.3 841.5h0M151.3 840.5h0M145.3 841.5h0M145.3 840.5h0M145.3 839.5h0M145.3 838.5h0M150.1 841.5h0M150.1 840.5h0M150.1 839.5h0M143.8 841.5h0M143.8 840.5h0M143.8 839.5h0M143.8 837.2h0M634 800.1h0M305.1 815.5h0M310.2 825h0M358 813.7h0M527.9 718.2h0M527.9 735h0M527.9 744.2h0M527.9 746.5h0M527.9 749h0M527.9 751.3h0M527.9 765h0" stroke="#114d8a" stroke-width="2.1" stroke-linecap="round" fill="none"/>
<path d="M328.8 778h0M328.8 779h0M328.8 780h0M328.8 781h0M328.8 782h0M328.8 783h0M328.8 784h0M328.8 785h0M328.8 786h0M328.8 787h0M328.8 788h0M328.8 789h0M328.8 790h0M328.8 791h0M328.8 796.3h0M328.8 797.3h0M328.8 800h0M328.8 801h0M328.8 805.4h0M328.8 808h0M328.8 810.7h0M328.8 813.6h0M328.8 820.5h0M328.8 821.5h0M328.8 822.5h0M328.8 823.5h0M328.8 824.5h0M328.8 825.5h0M328.8 826.5h0M328.8 827.5h0M328.8 828.5h0M328.8 829.5h0M328.8 830.5h0M328.8 831.5h0M328.8 832.5h0M328.8 833.5h0M328.8 834.5h0M328.8 835.5h0M328.8 836.5h0M328.8 837.5h0M328.8 838.5h0M328.8 839.5h0M328.8 840.5h0" stroke="#4a78ff" stroke-width="2.2" stroke-linecap="round" fill="none"/>
<path d="M535.5 799.1h0M535.5 800.1h0M535.5 801.1h0M535.5 802.1h0M535.5 803.1h0M535.5 804.1h0M535.5 805.1h0M535.5 806.1h0M535.5 807.1h0M535.5 808.1h0M535.5 809.1h0M535.5 810.1h0M535.5 811.1h0M535.5 812.1h0M535.5 813.1h0M535.5 814.1h0M535.5 815.1h0M535.5 816.1h0M535.5 817.1h0M535.5 818.1h0M535.5 819.1h0M535.5 820.1h0M535.5 821.1h0M535.5 822.1h0M535.5 823.1h0M535.5 824.1h0M535.5 825.1h0M535.5 826.1h0M535.5 827.1h0M535.5 828.1h0M535.5 829.1h0M535.5 830.1h0M535.5 831.1h0M535.5 832.1h0M535.5 833.1h0M535.5 834.1h0M535.5 835.1h0M535.5 836.1h0M535.5 837.1h0M535.5 838.1h0M535.5 839.1h0M535.5 840.1h0M535.5 841.1h0" stroke="#4a78ff" stroke-width="2.3" stroke-linecap="round" fill="none"/>
<path d="M527.6 784h0M527.6 785h0M527.6 786h0M527.6 787h0M527.6 797.2h0M527.6 800.3h0M527.6 801.3h0M527.6 809.1h0M527.6 810.1h0M527.6 811.1h0M527.6 812.1h0M527.6 813.1h0M527.6 814.1h0M527.6 815.1h0M527.6 818.8h0M527.6 819.8h0M527.6 820.8h0M527.6 821.8h0M527.6 822.8h0M527.6 823.8h0M527.6 824.8h0M527.6 827.7h0M527.6 828.7h0M527.6 829.7h0M527.6 830.7h0M527.6 831.7h0M527.6 834.8h0M527.6 835.8h0M527.6 838.7h0M527.6 839.7h0M527.6 840.7h0" stroke="#114d8a" stroke-width="2.2" stroke-linecap="round" fill="none"/>
<path d="M516.3 810.7h0M516.3 811.7h0M516.3 812.7h0M516.3 813.7h0M516.3 814.7h0M516.3 815.7h0M516.3 816.7h0M516.3 817.7h0M516.3 818.7h0M516.3 821.7h0M516.3 822.7h0M516.3 827.1h0M516.3 829.4h0M516.3 830.4h0M516.3 831.4h0M516.3 832.4h0M516.3 836.1h0M516.3 837.1h0M516.3 838.1h0M516.3 839.1h0M516.3 840.1h0M524 817.7h0M524 818.7h0M524 819.7h0M524 820.7h0M524 824.4h0M524 825.4h0M524 826.4h0M524 827.4h0M524 828.4h0M524 829.4h0M524 830.4h0M524 834.2h0M524 835.2h0M524 836.2h0M524 837.2h0M524 840.2h0M524 841.2h0M553.1 818.7h0M553.1 819.7h0M553.1 824h0M553.1 825h0M553.1 826h0M553.1 829.5h0M553.1 830.5h0M553.1 831.5h0M553.1 832.5h0M553.1 835.7h0M553.1 836.7h0M553.1 839.6h0M314.3 805.9h0M314.3 814.2h0M314.3 815.2h0M314.3 816.2h0M314.3 817.2h0M314.3 818.2h0M314.3 819.2h0M314.3 820.2h0M314.3 821.2h0M314.3 822.2h0M314.3 823.2h0M314.3 824.2h0M314.3 825.2h0M314.3 826.2h0M123.4 807.3h0M123.4 811.7h0M123.4 812.7h0M123.4 813.7h0M123.4 814.7h0M123.4 818.1h0M123.4 819.1h0M123.4 822.9h0M123.4 825.1h0M123.4 826.1h0M123.4 829.4h0M123.4 832.3h0M123.4 835.3h0M123.4 836.3h0M123.4 838.8h0M123.4 839.8h0M123.4 840.8h0M148.3 813.7h0M148.3 814.7h0M148.3 815.7h0M148.3 816.7h0M148.3 817.7h0M148.3 820.7h0M148.3 821.7h0M148.3 822.7h0M148.3 823.7h0M148.3 827.4h0M148.3 828.4h0M148.3 829.4h0M148.3 830.4h0M148.3 834.4h0M148.3 837.1h0M148.3 838.1h0M148.3 839.1h0M148.3 840.1h0M148.3 841.1h0" stroke="#114d8a" stroke-width="2" stroke-linecap="round" fill="none"/>
<path d="M345.9 819.5h0M345.9 823.6h0M345.9 824.6h0M345.9 826.9h0M345.9 827.9h0M345.9 828.9h0M345.9 829.9h0M345.9 830.9h0M345.9 831.9h0M345.9 832.9h0M345.9 833.9h0M345.9 837h0M345.9 838h0M345.9 839h0M345.9 840h0" stroke="#4a78ff" stroke-width="2" stroke-linecap="round" fill="none"/>
<line x1="42.8" y1="709.6" x2="42.8" y2="888" stroke="#9a9a9a" stroke-width="1.4"/>
<line x1="38" y1="759.8" x2="42.5" y2="759.8" stroke="#a8a8a8" stroke-width="1"/>
<text x="33.3" y="763" font-size="10" fill="#262626" text-anchor="end">10</text>
<line x1="38" y1="819.8" x2="42.5" y2="819.8" stroke="#a8a8a8" stroke-width="1"/>
<text x="33.3" y="823" font-size="10" fill="#262626" text-anchor="end">5</text>
<line x1="38" y1="879.4" x2="42.5" y2="879.4" stroke="#a8a8a8" stroke-width="1"/>
<text x="33.3" y="882.6" font-size="10" fill="#262626" text-anchor="end">0</text>
<text transform="translate(13.1 799.2) rotate(-90)" x="0" y="0" font-size="11" fill="#262626" text-anchor="middle" textLength="74" lengthAdjust="spacingAndGlyphs">&#8211;log<tspan font-size="7.5" dy="2.5">10</tspan><tspan dy="-2.5"> (</tspan><tspan font-style="italic">P</tspan> value)</text>
<text x="91.3" y="892.2" font-size="9" fill="#5a86ff" text-anchor="middle">1</text>
<text x="136.4" y="892.2" font-size="9" fill="#2a5a8e" text-anchor="middle">2</text>
<text x="181.9" y="892.2" font-size="9" fill="#5a86ff" text-anchor="middle">3</text>
<text x="220.8" y="892.2" font-size="9" fill="#2a5a8e" text-anchor="middle">4</text>
<text x="261.7" y="892.2" font-size="9" fill="#5a86ff" text-anchor="middle">5</text>
<text x="296.4" y="892.2" font-size="9" fill="#2a5a8e" text-anchor="middle">6</text>
<text x="333.5" y="892.2" font-size="9" fill="#5a86ff" text-anchor="middle">7</text>
<text x="366.4" y="892.2" font-size="9" fill="#2a5a8e" text-anchor="middle">8</text>
<text x="393.4" y="892.2" font-size="9" fill="#5a86ff" text-anchor="middle">9</text>
<text x="418.4" y="892.2" font-size="9" fill="#2a5a8e" text-anchor="middle">10</text>
<text x="446.7" y="892.2" font-size="9" fill="#5a86ff" text-anchor="middle">11</text>
<text x="475" y="892.2" font-size="9" fill="#2a5a8e" text-anchor="middle">12</text>
<text x="500.6" y="892.2" font-size="9" fill="#5a86ff" text-anchor="middle">13</text>
<text x="519.7" y="892.2" font-size="9" fill="#2a5a8e" text-anchor="middle">14</text>
<text x="536.3" y="892.2" font-size="9" fill="#5a86ff" text-anchor="middle">15</text>
<text x="553.5" y="892.2" font-size="9" fill="#2a5a8e" text-anchor="middle">16</text>
<text x="568.9" y="892.2" font-size="9" fill="#5a86ff" text-anchor="middle">17</text>
<text x="585" y="892.2" font-size="9" fill="#2a5a8e" text-anchor="middle">18</text>
<text x="600.6" y="892.2" font-size="9" fill="#5a86ff" text-anchor="middle">19</text>
<text x="612.8" y="892.2" font-size="9" fill="#2a5a8e" text-anchor="middle">20</text>
<text x="623" y="892.2" font-size="9" fill="#5a86ff" text-anchor="middle">21</text>
<text x="632.4" y="892.2" font-size="9" fill="#2a5a8e" text-anchor="middle">22</text>
<text x="644.8" y="892.2" font-size="9" fill="#5a86ff" text-anchor="middle">X</text>
<text x="363.1" y="908.4" font-size="11" fill="#262626" text-anchor="middle" textLength="67.4" lengthAdjust="spacingAndGlyphs">Chromosome</text>
<text x="299.4" y="772.5" font-size="10" fill="#7a3cae" text-anchor="start" font-style="italic" textLength="59.9" lengthAdjust="spacingAndGlyphs">PURB,H2AZ2</text>
<text x="511.9" y="712.5" font-size="10" fill="#29aae3" text-anchor="start" font-style="italic" textLength="28.7" lengthAdjust="spacingAndGlyphs">TCL1A</text>
</svg></body></html>
